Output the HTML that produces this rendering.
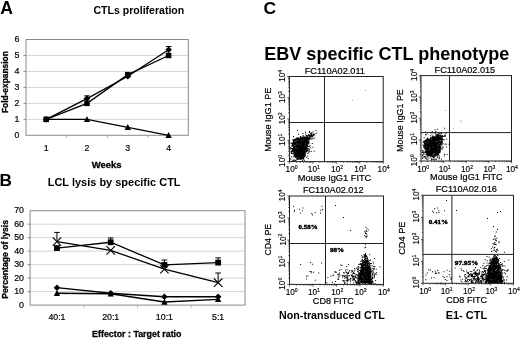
<!DOCTYPE html>
<html><head><meta charset="utf-8"><style>
html,body{margin:0;padding:0;background:#fff;width:520px;height:339px;overflow:hidden}
svg{display:block;filter:grayscale(1)}
</style></head><body>
<svg width="520" height="339" viewBox="0 0 520 339"><text x="0.2" y="13.6" font-size="17.6" font-weight="700" text-anchor="start" fill="#000" style="font-family:&quot;Liberation Sans&quot;,sans-serif" >A</text>
<text x="-0.6" y="186.1" font-size="17.2" font-weight="700" text-anchor="start" fill="#000" style="font-family:&quot;Liberation Sans&quot;,sans-serif" >B</text>
<text x="263.4" y="13.6" font-size="17.4" font-weight="700" text-anchor="start" fill="#000" style="font-family:&quot;Liberation Sans&quot;,sans-serif" >C</text>
<line x1="26" y1="119.33" x2="188.3" y2="119.33" stroke="#d6d6d6" stroke-width="1"/>
<line x1="26" y1="103.37" x2="188.3" y2="103.37" stroke="#d6d6d6" stroke-width="1"/>
<line x1="26" y1="87.40" x2="188.3" y2="87.40" stroke="#d6d6d6" stroke-width="1"/>
<line x1="26" y1="71.43" x2="188.3" y2="71.43" stroke="#d6d6d6" stroke-width="1"/>
<line x1="26" y1="55.47" x2="188.3" y2="55.47" stroke="#d6d6d6" stroke-width="1"/>
<rect x="26" y="39.5" width="162.3" height="95.80000000000001" fill="none" stroke="#8a8a8a" stroke-width="1"/>
<text x="19.5" y="137.9" font-size="8.8" font-weight="400" text-anchor="end" fill="#000" style="font-family:&quot;Liberation Sans&quot;,sans-serif" stroke="#000" stroke-width="0.2">0</text>
<line x1="23.5" y1="119.33" x2="26" y2="119.33" stroke="#8a8a8a" stroke-width="1"/>
<text x="19.5" y="121.93333333333334" font-size="8.8" font-weight="400" text-anchor="end" fill="#000" style="font-family:&quot;Liberation Sans&quot;,sans-serif" stroke="#000" stroke-width="0.2">1</text>
<line x1="23.5" y1="103.37" x2="26" y2="103.37" stroke="#8a8a8a" stroke-width="1"/>
<text x="19.5" y="105.96666666666667" font-size="8.8" font-weight="400" text-anchor="end" fill="#000" style="font-family:&quot;Liberation Sans&quot;,sans-serif" stroke="#000" stroke-width="0.2">2</text>
<line x1="23.5" y1="87.40" x2="26" y2="87.40" stroke="#8a8a8a" stroke-width="1"/>
<text x="19.5" y="90.0" font-size="8.8" font-weight="400" text-anchor="end" fill="#000" style="font-family:&quot;Liberation Sans&quot;,sans-serif" stroke="#000" stroke-width="0.2">3</text>
<line x1="23.5" y1="71.43" x2="26" y2="71.43" stroke="#8a8a8a" stroke-width="1"/>
<text x="19.5" y="74.03333333333333" font-size="8.8" font-weight="400" text-anchor="end" fill="#000" style="font-family:&quot;Liberation Sans&quot;,sans-serif" stroke="#000" stroke-width="0.2">4</text>
<line x1="23.5" y1="55.47" x2="26" y2="55.47" stroke="#8a8a8a" stroke-width="1"/>
<text x="19.5" y="58.06666666666667" font-size="8.8" font-weight="400" text-anchor="end" fill="#000" style="font-family:&quot;Liberation Sans&quot;,sans-serif" stroke="#000" stroke-width="0.2">5</text>
<text x="19.5" y="42.1" font-size="8.8" font-weight="400" text-anchor="end" fill="#000" style="font-family:&quot;Liberation Sans&quot;,sans-serif" stroke="#000" stroke-width="0.2">6</text>
<line x1="66.60" y1="135.3" x2="66.60" y2="137.8" stroke="#aaa" stroke-width="1"/>
<line x1="107.40" y1="135.3" x2="107.40" y2="137.8" stroke="#aaa" stroke-width="1"/>
<line x1="148.20" y1="135.3" x2="148.20" y2="137.8" stroke="#aaa" stroke-width="1"/>
<text x="46.2" y="150.7" font-size="8.8" font-weight="400" text-anchor="middle" fill="#000" style="font-family:&quot;Liberation Sans&quot;,sans-serif" stroke="#000" stroke-width="0.2">1</text>
<text x="87.0" y="150.7" font-size="8.8" font-weight="400" text-anchor="middle" fill="#000" style="font-family:&quot;Liberation Sans&quot;,sans-serif" stroke="#000" stroke-width="0.2">2</text>
<text x="127.8" y="150.7" font-size="8.8" font-weight="400" text-anchor="middle" fill="#000" style="font-family:&quot;Liberation Sans&quot;,sans-serif" stroke="#000" stroke-width="0.2">3</text>
<text x="168.6" y="150.7" font-size="8.8" font-weight="400" text-anchor="middle" fill="#000" style="font-family:&quot;Liberation Sans&quot;,sans-serif" stroke="#000" stroke-width="0.2">4</text>
<text x="91.7" y="167.8" font-size="9" font-weight="700" text-anchor="start" fill="#000" style="font-family:&quot;Liberation Sans&quot;,sans-serif" textLength="29.8" lengthAdjust="spacingAndGlyphs" stroke="#000" stroke-width="0.3">Weeks</text>
<text x="8.0" y="113.1" font-size="8.6" font-weight="700" text-anchor="start" fill="#000" style="font-family:&quot;Liberation Sans&quot;,sans-serif" textLength="61.9" lengthAdjust="spacingAndGlyphs" transform="rotate(-90 8.0 113.1)" stroke="#000" stroke-width="0.3">Fold-expansion</text>
<text x="93.5" y="13.8" font-size="10.2" font-weight="700" text-anchor="start" fill="#000" style="font-family:&quot;Liberation Sans&quot;,sans-serif" textLength="90.7" lengthAdjust="spacingAndGlyphs" >CTLs proliferation</text>
<path d="M87.00,98.58V95.86M84.20,95.86H89.80" stroke="#000" stroke-width="1" fill="none"/>
<path d="M168.60,49.72V46.53M165.80,46.53H171.40" stroke="#000" stroke-width="1" fill="none"/>
<polyline points="46.20,119.33 87.00,98.58 127.80,76.22 168.60,49.72" fill="none" stroke="#000" stroke-width="1.3"/>
<polyline points="46.20,119.33 87.00,103.37 127.80,74.63 168.60,55.47" fill="none" stroke="#000" stroke-width="1.3"/>
<polyline points="46.20,119.33 87.00,119.33 127.80,127.32 168.60,135.30" fill="none" stroke="#000" stroke-width="1.3"/>
<path d="M46.20,116.13L49.40,122.05L43.00,122.05Z" fill="#000"/>
<path d="M87.00,116.13L90.20,122.05L83.80,122.05Z" fill="#000"/>
<path d="M127.80,124.12L131.00,130.04L124.60,130.04Z" fill="#000"/>
<path d="M168.60,132.10L171.80,138.02L165.40,138.02Z" fill="#000"/>
<path d="M46.20,116.03L49.50,119.33L46.20,122.63L42.90,119.33Z" fill="#000"/>
<path d="M87.00,95.28L90.30,98.58L87.00,101.88L83.70,98.58Z" fill="#000"/>
<path d="M127.80,72.92L131.10,76.22L127.80,79.52L124.50,76.22Z" fill="#000"/>
<path d="M168.60,46.42L171.90,49.72L168.60,53.02L165.30,49.72Z" fill="#000"/>
<rect x="43.45" y="116.58" width="5.5" height="5.5" fill="#000"/>
<rect x="84.25" y="100.62" width="5.5" height="5.5" fill="#000"/>
<rect x="125.05" y="71.88" width="5.5" height="5.5" fill="#000"/>
<rect x="165.85" y="52.72" width="5.5" height="5.5" fill="#000"/>
<line x1="30.1" y1="291.61" x2="245" y2="291.61" stroke="#d6d6d6" stroke-width="1"/>
<line x1="30.1" y1="278.13" x2="245" y2="278.13" stroke="#d6d6d6" stroke-width="1"/>
<line x1="30.1" y1="264.64" x2="245" y2="264.64" stroke="#d6d6d6" stroke-width="1"/>
<line x1="30.1" y1="251.16" x2="245" y2="251.16" stroke="#d6d6d6" stroke-width="1"/>
<line x1="30.1" y1="237.67" x2="245" y2="237.67" stroke="#d6d6d6" stroke-width="1"/>
<line x1="30.1" y1="224.19" x2="245" y2="224.19" stroke="#d6d6d6" stroke-width="1"/>
<rect x="30.1" y="210.7" width="214.9" height="94.40000000000003" fill="none" stroke="#8a8a8a" stroke-width="1"/>
<text x="24.0" y="307.70000000000005" font-size="8.8" font-weight="400" text-anchor="end" fill="#000" style="font-family:&quot;Liberation Sans&quot;,sans-serif" stroke="#000" stroke-width="0.2">0</text>
<line x1="27.6" y1="291.61" x2="30.1" y2="291.61" stroke="#8a8a8a" stroke-width="1"/>
<text x="24.0" y="294.2142857142858" font-size="8.8" font-weight="400" text-anchor="end" fill="#000" style="font-family:&quot;Liberation Sans&quot;,sans-serif" stroke="#000" stroke-width="0.2">10</text>
<line x1="27.6" y1="278.13" x2="30.1" y2="278.13" stroke="#8a8a8a" stroke-width="1"/>
<text x="24.0" y="280.72857142857146" font-size="8.8" font-weight="400" text-anchor="end" fill="#000" style="font-family:&quot;Liberation Sans&quot;,sans-serif" stroke="#000" stroke-width="0.2">20</text>
<line x1="27.6" y1="264.64" x2="30.1" y2="264.64" stroke="#8a8a8a" stroke-width="1"/>
<text x="24.0" y="267.2428571428572" font-size="8.8" font-weight="400" text-anchor="end" fill="#000" style="font-family:&quot;Liberation Sans&quot;,sans-serif" stroke="#000" stroke-width="0.2">30</text>
<line x1="27.6" y1="251.16" x2="30.1" y2="251.16" stroke="#8a8a8a" stroke-width="1"/>
<text x="24.0" y="253.75714285714284" font-size="8.8" font-weight="400" text-anchor="end" fill="#000" style="font-family:&quot;Liberation Sans&quot;,sans-serif" stroke="#000" stroke-width="0.2">40</text>
<line x1="27.6" y1="237.67" x2="30.1" y2="237.67" stroke="#8a8a8a" stroke-width="1"/>
<text x="24.0" y="240.27142857142857" font-size="8.8" font-weight="400" text-anchor="end" fill="#000" style="font-family:&quot;Liberation Sans&quot;,sans-serif" stroke="#000" stroke-width="0.2">50</text>
<line x1="27.6" y1="224.19" x2="30.1" y2="224.19" stroke="#8a8a8a" stroke-width="1"/>
<text x="24.0" y="226.78571428571428" font-size="8.8" font-weight="400" text-anchor="end" fill="#000" style="font-family:&quot;Liberation Sans&quot;,sans-serif" stroke="#000" stroke-width="0.2">60</text>
<text x="24.0" y="213.29999999999998" font-size="8.8" font-weight="400" text-anchor="end" fill="#000" style="font-family:&quot;Liberation Sans&quot;,sans-serif" stroke="#000" stroke-width="0.2">70</text>
<line x1="83.83" y1="305.1" x2="83.83" y2="307.6" stroke="#aaa" stroke-width="1"/>
<line x1="137.55" y1="305.1" x2="137.55" y2="307.6" stroke="#aaa" stroke-width="1"/>
<line x1="191.28" y1="305.1" x2="191.28" y2="307.6" stroke="#aaa" stroke-width="1"/>
<text x="56.962500000000006" y="320.4" font-size="8.8" font-weight="400" text-anchor="middle" fill="#000" style="font-family:&quot;Liberation Sans&quot;,sans-serif" stroke="#000" stroke-width="0.2">40:1</text>
<text x="110.6875" y="320.4" font-size="8.8" font-weight="400" text-anchor="middle" fill="#000" style="font-family:&quot;Liberation Sans&quot;,sans-serif" stroke="#000" stroke-width="0.2">20:1</text>
<text x="164.4125" y="320.4" font-size="8.8" font-weight="400" text-anchor="middle" fill="#000" style="font-family:&quot;Liberation Sans&quot;,sans-serif" stroke="#000" stroke-width="0.2">10:1</text>
<text x="218.1375" y="320.4" font-size="8.8" font-weight="400" text-anchor="middle" fill="#000" style="font-family:&quot;Liberation Sans&quot;,sans-serif" stroke="#000" stroke-width="0.2">5:1</text>
<text x="92.1" y="337.1" font-size="9" font-weight="700" text-anchor="start" fill="#000" style="font-family:&quot;Liberation Sans&quot;,sans-serif" textLength="89.4" lengthAdjust="spacingAndGlyphs" stroke="#000" stroke-width="0.3">Effector : Target ratio</text>
<text x="7.6" y="298.8" font-size="8.7" font-weight="700" text-anchor="start" fill="#000" style="font-family:&quot;Liberation Sans&quot;,sans-serif" textLength="78.8" lengthAdjust="spacingAndGlyphs" transform="rotate(-90 7.6 298.8)" stroke="#000" stroke-width="0.3">Percentage of lysis</text>
<text x="47.7" y="185.9" font-size="10.3" font-weight="700" text-anchor="start" fill="#000" style="font-family:&quot;Liberation Sans&quot;,sans-serif" textLength="132.9" lengthAdjust="spacingAndGlyphs" >LCL lysis by specific CTL</text>
<path d="M56.96,241.58V232.41M54.16,232.41H59.76" stroke="#000" stroke-width="1" fill="none"/>
<path d="M110.69,242.26V237.94M107.89,237.94H113.49" stroke="#000" stroke-width="1" fill="none"/>
<path d="M164.41,264.91V260.06M161.61,260.06H167.21" stroke="#000" stroke-width="1" fill="none"/>
<path d="M218.14,262.62V257.90M215.34,257.90H220.94" stroke="#000" stroke-width="1" fill="none"/>
<path d="M218.14,282.71V273.00M215.34,273.00H220.94" stroke="#000" stroke-width="1" fill="none"/>
<polyline points="56.96,248.06 110.69,242.26 164.41,264.91 218.14,262.62" fill="none" stroke="#000" stroke-width="1.3"/>
<polyline points="56.96,241.58 110.69,250.35 164.41,269.23 218.14,282.71" fill="none" stroke="#000" stroke-width="1.3"/>
<polyline points="56.96,287.70 110.69,293.23 164.41,296.74 218.14,296.74" fill="none" stroke="#000" stroke-width="1.3"/>
<polyline points="56.96,293.23 110.69,293.77 164.41,302.00 218.14,299.30" fill="none" stroke="#000" stroke-width="1.3"/>
<path d="M52.76,237.38L61.16,245.78M61.16,237.38L52.76,245.78" stroke="#000" stroke-width="1.1" fill="none"/>
<path d="M56.96,290.03L60.16,295.95L53.76,295.95Z" fill="#000"/>
<path d="M56.96,284.40L60.26,287.70L56.96,291.00L53.66,287.70Z" fill="#000"/>
<rect x="54.06" y="245.16" width="5.8" height="5.8" fill="#000"/>
<path d="M106.49,246.15L114.89,254.55M114.89,246.15L106.49,254.55" stroke="#000" stroke-width="1.1" fill="none"/>
<path d="M110.69,290.57L113.89,296.49L107.49,296.49Z" fill="#000"/>
<path d="M110.69,289.93L113.99,293.23L110.69,296.53L107.39,293.23Z" fill="#000"/>
<rect x="107.79" y="239.36" width="5.8" height="5.8" fill="#000"/>
<path d="M160.21,265.03L168.61,273.43M168.61,265.03L160.21,273.43" stroke="#000" stroke-width="1.1" fill="none"/>
<path d="M164.41,298.80L167.61,304.72L161.21,304.72Z" fill="#000"/>
<path d="M164.41,293.44L167.71,296.74L164.41,300.04L161.11,296.74Z" fill="#000"/>
<rect x="161.51" y="262.01" width="5.8" height="5.8" fill="#000"/>
<path d="M213.94,278.51L222.34,286.91M222.34,278.51L213.94,286.91" stroke="#000" stroke-width="1.1" fill="none"/>
<path d="M218.14,296.10L221.34,302.02L214.94,302.02Z" fill="#000"/>
<path d="M218.14,293.44L221.44,296.74L218.14,300.04L214.84,296.74Z" fill="#000"/>
<rect x="215.24" y="259.72" width="5.8" height="5.8" fill="#000"/>
<text x="264.3" y="59.6" font-size="17.8" font-weight="700" text-anchor="start" fill="#000" style="font-family:&quot;Liberation Sans&quot;,sans-serif" textLength="245.0" lengthAdjust="spacingAndGlyphs" >EBV specific CTL phenotype</text>
<path d="M300.4,157.3h1v1h-1zM293.0,147.3h1v1h-1zM294.6,138.9h1v1h-1zM299.7,137.2h1v1h-1zM305.8,139.7h1v1h-1zM305.1,141.1h1v1h-1zM298.3,155.5h1v1h-1zM305.9,140.2h1v1h-1zM294.9,145.2h1v1h-1zM300.3,144.8h1v1h-1zM293.2,141.7h1v1h-1zM304.6,136.9h1v1h-1zM306.1,138.7h1v1h-1zM301.8,148.7h1v1h-1zM302.3,143.0h1v1h-1zM298.6,149.4h1v1h-1zM298.7,151.2h1v1h-1zM299.0,146.1h1v1h-1zM299.8,141.4h1v1h-1zM304.7,153.9h1v1h-1zM299.2,140.1h1v1h-1zM299.5,138.5h1v1h-1zM293.3,145.9h1v1h-1zM292.7,146.2h1v1h-1zM300.2,136.9h1v1h-1zM302.5,137.9h1v1h-1zM304.2,153.9h1v1h-1zM300.2,137.2h1v1h-1zM300.1,144.7h1v1h-1zM308.1,139.1h1v1h-1zM304.2,154.7h1v1h-1zM299.9,158.0h1v1h-1zM307.5,139.8h1v1h-1zM292.2,144.1h1v1h-1zM304.6,139.7h1v1h-1zM307.1,142.3h1v1h-1zM305.7,139.3h1v1h-1zM300.0,157.2h1v1h-1zM294.7,142.0h1v1h-1zM300.1,143.3h1v1h-1zM303.2,156.6h1v1h-1zM294.0,154.1h1v1h-1zM293.1,148.2h1v1h-1zM302.5,144.3h1v1h-1zM301.4,156.3h1v1h-1zM302.3,145.1h1v1h-1zM305.4,142.1h1v1h-1zM297.5,153.6h1v1h-1zM299.0,140.1h1v1h-1zM304.4,137.1h1v1h-1zM305.8,141.8h1v1h-1zM302.5,158.6h1v1h-1zM301.5,151.3h1v1h-1zM302.1,145.9h1v1h-1zM300.2,156.6h1v1h-1zM293.4,141.2h1v1h-1zM302.8,136.5h1v1h-1zM292.9,144.2h1v1h-1zM295.0,149.4h1v1h-1zM301.6,140.7h1v1h-1zM302.2,146.9h1v1h-1zM295.4,139.4h1v1h-1zM292.7,150.7h1v1h-1zM298.2,142.1h1v1h-1zM301.1,144.1h1v1h-1zM302.6,146.2h1v1h-1zM295.5,156.8h1v1h-1zM298.3,141.5h1v1h-1zM307.9,139.3h1v1h-1zM294.6,150.0h1v1h-1zM300.1,150.8h1v1h-1zM305.6,140.0h1v1h-1zM296.6,142.9h1v1h-1zM305.1,152.5h1v1h-1zM304.4,146.7h1v1h-1zM304.4,146.4h1v1h-1zM295.1,138.4h1v1h-1zM297.0,153.2h1v1h-1zM303.5,155.4h1v1h-1zM303.8,142.1h1v1h-1zM301.0,146.0h1v1h-1zM305.2,148.0h1v1h-1zM295.8,150.8h1v1h-1zM308.4,141.0h1v1h-1zM295.7,141.4h1v1h-1zM304.4,143.5h1v1h-1zM306.8,143.6h1v1h-1zM295.3,156.9h1v1h-1zM302.4,151.9h1v1h-1zM303.0,158.5h1v1h-1zM299.5,155.3h1v1h-1zM303.6,155.7h1v1h-1zM298.9,152.7h1v1h-1zM301.3,143.1h1v1h-1zM294.8,150.3h1v1h-1zM297.2,139.3h1v1h-1zM303.5,150.6h1v1h-1zM303.5,152.9h1v1h-1zM297.5,154.8h1v1h-1zM292.9,140.7h1v1h-1zM302.4,155.0h1v1h-1zM302.4,142.6h1v1h-1zM304.6,140.7h1v1h-1zM296.7,145.7h1v1h-1zM296.1,152.5h1v1h-1zM297.6,143.4h1v1h-1zM291.6,145.5h1v1h-1zM298.9,153.8h1v1h-1zM297.2,152.2h1v1h-1zM300.7,141.0h1v1h-1zM306.5,138.1h1v1h-1zM305.8,139.9h1v1h-1zM299.8,154.3h1v1h-1zM294.3,147.4h1v1h-1zM297.2,155.1h1v1h-1zM295.7,157.7h1v1h-1zM296.1,140.9h1v1h-1zM303.6,147.5h1v1h-1zM293.0,150.6h1v1h-1zM303.5,154.1h1v1h-1zM302.3,144.2h1v1h-1zM298.2,145.1h1v1h-1zM307.0,138.0h1v1h-1zM307.0,136.6h1v1h-1zM294.7,142.1h1v1h-1zM297.8,156.3h1v1h-1zM295.2,146.6h1v1h-1zM300.6,153.4h1v1h-1zM304.6,150.9h1v1h-1zM297.3,143.5h1v1h-1zM302.9,153.1h1v1h-1zM294.1,146.1h1v1h-1zM304.9,149.3h1v1h-1zM293.3,146.6h1v1h-1zM306.9,141.5h1v1h-1zM294.4,142.9h1v1h-1zM303.7,155.4h1v1h-1zM293.8,139.6h1v1h-1zM295.5,143.5h1v1h-1zM300.4,139.7h1v1h-1zM296.9,140.4h1v1h-1zM292.8,144.8h1v1h-1zM304.2,146.0h1v1h-1zM294.5,150.7h1v1h-1zM292.9,140.7h1v1h-1zM298.2,154.2h1v1h-1zM303.5,147.5h1v1h-1zM302.4,146.7h1v1h-1zM293.6,149.9h1v1h-1zM298.3,153.0h1v1h-1zM301.3,153.2h1v1h-1zM298.6,141.3h1v1h-1zM304.0,156.2h1v1h-1zM304.9,152.1h1v1h-1zM302.5,146.4h1v1h-1zM296.6,150.5h1v1h-1zM292.8,145.7h1v1h-1zM305.1,152.4h1v1h-1zM302.3,141.8h1v1h-1zM298.6,146.5h1v1h-1zM302.2,145.4h1v1h-1zM303.2,157.4h1v1h-1zM294.3,151.1h1v1h-1zM305.0,144.9h1v1h-1zM299.8,158.4h1v1h-1zM293.9,154.0h1v1h-1zM292.8,149.2h1v1h-1zM300.7,152.5h1v1h-1zM300.2,150.7h1v1h-1zM305.9,148.0h1v1h-1zM298.4,157.8h1v1h-1zM294.8,151.7h1v1h-1zM298.1,153.5h1v1h-1zM297.4,137.3h1v1h-1zM295.9,145.2h1v1h-1zM291.2,145.6h1v1h-1zM298.6,152.1h1v1h-1zM297.3,142.1h1v1h-1zM295.0,153.1h1v1h-1zM294.9,154.4h1v1h-1zM298.1,140.9h1v1h-1zM305.6,150.6h1v1h-1zM299.4,148.9h1v1h-1zM297.4,150.7h1v1h-1zM299.4,142.8h1v1h-1zM300.9,138.9h1v1h-1zM306.0,144.2h1v1h-1zM306.3,142.2h1v1h-1zM297.8,141.8h1v1h-1zM298.7,140.3h1v1h-1zM296.1,141.6h1v1h-1zM296.4,147.0h1v1h-1zM298.7,150.7h1v1h-1zM302.9,144.3h1v1h-1zM302.8,141.8h1v1h-1zM295.2,153.9h1v1h-1zM297.2,139.5h1v1h-1zM302.0,154.0h1v1h-1zM303.0,156.6h1v1h-1zM294.6,151.9h1v1h-1zM300.6,153.1h1v1h-1zM298.9,156.3h1v1h-1zM301.0,142.1h1v1h-1zM295.2,139.2h1v1h-1zM299.9,137.3h1v1h-1zM299.4,139.3h1v1h-1zM299.8,147.5h1v1h-1zM300.7,155.8h1v1h-1zM299.4,148.9h1v1h-1zM303.0,155.3h1v1h-1zM297.7,145.6h1v1h-1zM308.3,137.7h1v1h-1zM302.5,150.6h1v1h-1zM303.3,157.4h1v1h-1zM296.9,158.6h1v1h-1zM300.2,147.1h1v1h-1zM307.2,136.8h1v1h-1zM303.9,150.4h1v1h-1zM297.1,155.8h1v1h-1zM297.6,146.9h1v1h-1zM300.5,153.7h1v1h-1zM294.8,146.0h1v1h-1zM298.6,148.7h1v1h-1zM305.9,142.7h1v1h-1zM305.9,145.3h1v1h-1zM300.1,142.2h1v1h-1zM300.1,158.4h1v1h-1zM302.8,154.2h1v1h-1zM297.0,143.3h1v1h-1zM296.4,149.5h1v1h-1zM302.4,154.0h1v1h-1zM291.9,142.9h1v1h-1zM302.8,154.1h1v1h-1zM302.1,150.4h1v1h-1zM303.5,149.7h1v1h-1zM303.3,140.9h1v1h-1zM303.0,146.5h1v1h-1zM304.7,138.3h1v1h-1zM302.8,144.5h1v1h-1zM301.1,141.9h1v1h-1zM296.4,145.7h1v1h-1zM296.7,145.9h1v1h-1zM302.6,157.5h1v1h-1zM305.6,149.2h1v1h-1zM291.3,144.9h1v1h-1zM301.7,157.6h1v1h-1zM298.4,138.3h1v1h-1zM302.6,140.9h1v1h-1zM303.9,141.6h1v1h-1zM304.2,140.3h1v1h-1zM303.8,155.7h1v1h-1zM304.1,137.9h1v1h-1zM302.3,152.3h1v1h-1zM299.3,157.4h1v1h-1zM303.9,136.3h1v1h-1zM305.7,137.8h1v1h-1zM296.6,152.8h1v1h-1zM299.8,137.4h1v1h-1zM297.6,149.2h1v1h-1zM298.9,151.6h1v1h-1zM297.5,150.8h1v1h-1zM302.3,145.6h1v1h-1zM297.9,154.1h1v1h-1zM301.2,142.7h1v1h-1zM303.7,155.0h1v1h-1zM297.0,149.9h1v1h-1zM301.8,143.1h1v1h-1zM298.7,156.4h1v1h-1zM297.8,151.8h1v1h-1zM301.8,156.6h1v1h-1zM305.5,142.5h1v1h-1zM298.6,149.5h1v1h-1zM301.3,142.3h1v1h-1zM303.3,157.0h1v1h-1zM297.2,138.0h1v1h-1zM301.0,154.3h1v1h-1zM294.6,153.3h1v1h-1zM307.8,141.4h1v1h-1zM301.9,151.6h1v1h-1zM299.4,140.8h1v1h-1zM295.6,153.3h1v1h-1zM305.2,146.6h1v1h-1zM304.9,141.4h1v1h-1zM301.4,156.6h1v1h-1zM299.6,149.6h1v1h-1zM294.4,140.4h1v1h-1zM294.3,152.1h1v1h-1zM297.5,149.0h1v1h-1zM298.2,147.9h1v1h-1zM292.9,150.6h1v1h-1zM305.2,139.6h1v1h-1zM301.7,143.9h1v1h-1zM306.6,147.2h1v1h-1zM301.2,142.0h1v1h-1zM305.0,145.8h1v1h-1zM294.6,140.2h1v1h-1zM301.0,156.0h1v1h-1zM299.2,157.8h1v1h-1zM307.4,137.5h1v1h-1zM301.8,145.1h1v1h-1zM295.6,149.0h1v1h-1zM302.5,158.0h1v1h-1zM303.1,145.0h1v1h-1zM299.1,139.7h1v1h-1zM295.6,144.1h1v1h-1zM306.1,137.1h1v1h-1zM305.2,152.3h1v1h-1zM302.6,158.7h1v1h-1zM303.2,142.9h1v1h-1zM301.6,153.4h1v1h-1zM292.9,143.5h1v1h-1zM295.6,138.9h1v1h-1zM299.7,139.9h1v1h-1zM295.3,139.3h1v1h-1zM303.2,136.3h1v1h-1zM303.9,140.5h1v1h-1zM293.5,146.3h1v1h-1zM306.2,150.5h1v1h-1zM299.1,143.8h1v1h-1zM305.8,147.0h1v1h-1zM302.3,139.3h1v1h-1zM303.8,148.7h1v1h-1zM295.8,145.5h1v1h-1zM293.8,142.2h1v1h-1zM306.1,143.7h1v1h-1zM294.0,147.3h1v1h-1zM296.7,156.8h1v1h-1zM303.0,140.9h1v1h-1zM299.6,142.6h1v1h-1zM295.6,140.6h1v1h-1zM297.6,158.8h1v1h-1zM292.8,142.7h1v1h-1zM307.1,137.3h1v1h-1zM304.1,142.8h1v1h-1zM305.5,143.8h1v1h-1zM306.0,148.1h1v1h-1zM294.3,146.0h1v1h-1zM307.4,141.0h1v1h-1zM301.3,139.2h1v1h-1zM294.2,153.7h1v1h-1zM303.8,140.5h1v1h-1zM302.0,147.4h1v1h-1zM295.9,140.7h1v1h-1zM302.0,152.3h1v1h-1zM305.6,149.4h1v1h-1zM304.2,145.4h1v1h-1zM304.0,137.3h1v1h-1zM305.6,143.7h1v1h-1zM306.7,142.1h1v1h-1zM294.3,155.1h1v1h-1zM297.6,139.8h1v1h-1zM297.7,149.7h1v1h-1zM299.0,147.9h1v1h-1zM293.2,152.4h1v1h-1zM296.8,152.4h1v1h-1zM297.9,153.3h1v1h-1zM300.2,148.2h1v1h-1zM308.4,141.1h1v1h-1zM295.5,154.8h1v1h-1zM303.6,140.5h1v1h-1zM301.4,148.0h1v1h-1zM303.6,138.4h1v1h-1zM299.9,147.5h1v1h-1zM296.0,138.8h1v1h-1zM298.3,139.1h1v1h-1zM301.7,155.8h1v1h-1zM293.6,149.2h1v1h-1zM304.4,139.8h1v1h-1zM298.0,145.7h1v1h-1zM306.1,148.1h1v1h-1zM298.1,157.6h1v1h-1zM305.0,143.8h1v1h-1zM295.3,143.7h1v1h-1zM298.8,158.6h1v1h-1zM292.0,147.9h1v1h-1zM295.5,145.7h1v1h-1zM302.4,144.4h1v1h-1zM300.6,137.6h1v1h-1zM298.8,147.6h1v1h-1zM306.9,136.8h1v1h-1zM302.5,142.1h1v1h-1zM303.2,142.3h1v1h-1zM300.8,157.3h1v1h-1zM302.2,141.8h1v1h-1zM300.4,146.0h1v1h-1zM308.1,142.6h1v1h-1zM296.5,150.9h1v1h-1zM293.2,149.7h1v1h-1zM295.8,146.7h1v1h-1zM300.6,139.4h1v1h-1zM296.3,145.4h1v1h-1zM296.2,141.6h1v1h-1zM292.6,148.6h1v1h-1zM306.1,150.0h1v1h-1zM301.3,151.0h1v1h-1zM294.6,152.3h1v1h-1zM299.3,148.6h1v1h-1zM302.0,146.8h1v1h-1zM296.6,141.6h1v1h-1zM295.0,147.8h1v1h-1zM297.9,149.5h1v1h-1zM306.5,141.5h1v1h-1zM301.0,147.3h1v1h-1zM296.3,153.8h1v1h-1zM306.7,146.1h1v1h-1zM292.1,144.9h1v1h-1zM298.9,152.9h1v1h-1zM293.0,141.2h1v1h-1zM293.8,143.8h1v1h-1zM297.3,151.5h1v1h-1zM302.1,155.5h1v1h-1zM305.8,147.9h1v1h-1zM304.3,153.1h1v1h-1zM304.7,146.9h1v1h-1zM305.1,152.3h1v1h-1zM307.5,138.9h1v1h-1zM304.8,149.5h1v1h-1zM300.0,158.1h1v1h-1zM301.3,145.6h1v1h-1zM301.9,144.7h1v1h-1zM299.1,146.5h1v1h-1zM304.0,142.7h1v1h-1zM298.0,148.8h1v1h-1zM297.9,143.4h1v1h-1zM300.0,146.2h1v1h-1zM294.3,143.0h1v1h-1zM293.6,149.2h1v1h-1zM301.5,138.0h1v1h-1zM307.6,143.4h1v1h-1zM308.3,140.7h1v1h-1zM298.7,156.9h1v1h-1zM301.2,147.4h1v1h-1zM300.7,159.0h1v1h-1zM300.3,147.9h1v1h-1zM303.3,145.0h1v1h-1zM297.4,149.7h1v1h-1zM297.3,157.8h1v1h-1zM303.2,148.1h1v1h-1zM292.8,144.6h1v1h-1zM298.2,148.9h1v1h-1zM301.3,156.2h1v1h-1zM298.9,150.4h1v1h-1zM300.5,154.8h1v1h-1zM294.1,143.3h1v1h-1zM300.2,138.5h1v1h-1zM307.0,145.7h1v1h-1zM293.8,142.7h1v1h-1zM300.2,147.6h1v1h-1zM294.4,140.2h1v1h-1zM302.3,149.9h1v1h-1zM297.4,158.9h1v1h-1zM302.5,137.0h1v1h-1zM298.4,154.1h1v1h-1zM296.5,151.9h1v1h-1zM306.2,149.5h1v1h-1zM303.0,140.5h1v1h-1zM300.0,148.7h1v1h-1zM295.8,150.9h1v1h-1zM300.6,158.9h1v1h-1zM301.3,145.5h1v1h-1zM293.2,139.6h1v1h-1zM304.7,138.5h1v1h-1zM292.8,139.9h1v1h-1zM300.4,154.9h1v1h-1zM302.0,154.6h1v1h-1zM304.9,143.4h1v1h-1zM303.9,144.1h1v1h-1zM294.0,142.1h1v1h-1zM301.5,144.0h1v1h-1zM299.1,144.9h1v1h-1zM301.5,158.1h1v1h-1zM298.9,150.3h1v1h-1zM296.7,156.7h1v1h-1zM305.7,143.0h1v1h-1zM301.8,158.1h1v1h-1zM299.9,157.8h1v1h-1zM295.4,145.0h1v1h-1zM303.9,141.1h1v1h-1zM296.6,156.1h1v1h-1zM299.7,154.2h1v1h-1zM295.4,140.0h1v1h-1zM297.5,140.3h1v1h-1zM301.1,138.6h1v1h-1zM300.6,144.9h1v1h-1zM298.3,137.5h1v1h-1zM297.3,141.6h1v1h-1zM294.4,142.5h1v1h-1zM303.0,143.9h1v1h-1zM293.8,152.2h1v1h-1zM292.7,142.2h1v1h-1zM306.0,138.9h1v1h-1zM299.0,155.2h1v1h-1zM305.5,139.7h1v1h-1zM297.4,152.6h1v1h-1zM297.8,158.0h1v1h-1zM300.1,141.2h1v1h-1zM299.1,139.0h1v1h-1zM303.7,142.0h1v1h-1zM297.6,141.7h1v1h-1zM301.9,140.9h1v1h-1zM306.7,138.8h1v1h-1zM300.2,148.5h1v1h-1zM295.9,153.8h1v1h-1zM297.9,151.1h1v1h-1zM301.2,143.1h1v1h-1zM298.0,138.0h1v1h-1zM294.2,155.6h1v1h-1zM296.8,151.2h1v1h-1zM293.0,148.9h1v1h-1zM297.5,147.5h1v1h-1zM296.3,137.5h1v1h-1zM296.6,141.2h1v1h-1zM293.3,152.5h1v1h-1zM296.1,145.3h1v1h-1zM293.4,142.4h1v1h-1zM302.9,144.1h1v1h-1zM298.4,151.2h1v1h-1zM303.6,141.7h1v1h-1zM306.2,144.1h1v1h-1zM302.3,140.2h1v1h-1zM304.2,152.4h1v1h-1zM293.9,140.6h1v1h-1zM296.5,144.8h1v1h-1zM291.7,143.2h1v1h-1zM302.5,140.1h1v1h-1zM306.1,149.1h1v1h-1zM303.9,141.9h1v1h-1zM298.8,151.7h1v1h-1zM304.5,138.0h1v1h-1zM303.5,145.1h1v1h-1zM304.5,155.1h1v1h-1zM296.1,138.1h1v1h-1zM304.3,155.1h1v1h-1zM302.3,146.4h1v1h-1zM298.7,147.8h1v1h-1zM307.7,138.9h1v1h-1zM304.7,137.0h1v1h-1zM303.6,154.5h1v1h-1zM295.7,148.6h1v1h-1zM300.8,141.7h1v1h-1zM292.1,144.2h1v1h-1zM298.4,140.6h1v1h-1zM296.6,139.1h1v1h-1zM303.7,151.4h1v1h-1zM295.3,141.6h1v1h-1zM300.3,146.2h1v1h-1zM296.4,156.3h1v1h-1zM293.6,149.0h1v1h-1zM297.0,154.8h1v1h-1zM300.9,153.5h1v1h-1zM294.0,151.3h1v1h-1zM301.8,146.6h1v1h-1zM293.1,142.7h1v1h-1zM297.5,140.7h1v1h-1zM292.1,142.5h1v1h-1zM294.5,152.1h1v1h-1zM299.1,138.6h1v1h-1zM296.8,146.8h1v1h-1zM297.5,139.9h1v1h-1zM293.0,147.2h1v1h-1zM298.8,140.4h1v1h-1zM302.3,157.5h1v1h-1zM302.7,141.8h1v1h-1zM295.4,139.2h1v1h-1zM306.1,142.8h1v1h-1zM294.3,150.7h1v1h-1zM294.0,154.0h1v1h-1zM296.9,140.2h1v1h-1zM305.9,143.4h1v1h-1zM297.6,148.7h1v1h-1zM297.6,155.1h1v1h-1zM301.2,150.4h1v1h-1zM299.9,147.5h1v1h-1zM293.8,142.9h1v1h-1zM301.5,137.8h1v1h-1zM303.4,139.8h1v1h-1zM299.0,158.3h1v1h-1zM298.9,140.4h1v1h-1zM305.2,145.8h1v1h-1zM296.1,151.2h1v1h-1zM300.3,145.7h1v1h-1zM297.1,146.1h1v1h-1zM303.0,155.0h1v1h-1zM307.3,139.8h1v1h-1zM296.3,146.2h1v1h-1zM301.1,144.0h1v1h-1zM296.8,146.6h1v1h-1zM305.6,137.4h1v1h-1zM303.2,150.0h1v1h-1zM296.3,149.1h1v1h-1zM302.7,142.9h1v1h-1zM297.2,156.4h1v1h-1zM303.2,146.3h1v1h-1zM297.7,149.4h1v1h-1zM298.5,148.2h1v1h-1zM301.2,145.1h1v1h-1zM293.1,140.2h1v1h-1zM295.6,138.2h1v1h-1zM300.6,141.8h1v1h-1zM299.8,148.7h1v1h-1zM295.1,149.2h1v1h-1zM293.0,147.8h1v1h-1zM301.6,137.8h1v1h-1zM298.3,137.7h1v1h-1zM298.9,155.9h1v1h-1zM300.9,152.4h1v1h-1zM304.6,138.6h1v1h-1zM298.1,139.9h1v1h-1zM304.9,139.1h1v1h-1zM305.0,137.3h1v1h-1zM295.3,144.6h1v1h-1zM294.8,142.9h1v1h-1zM303.7,145.8h1v1h-1zM294.0,153.1h1v1h-1zM297.1,153.6h1v1h-1zM303.2,155.0h1v1h-1zM293.2,144.6h1v1h-1zM304.0,137.0h1v1h-1zM301.9,138.3h1v1h-1zM300.9,154.5h1v1h-1zM303.2,141.9h1v1h-1zM294.5,146.3h1v1h-1zM306.1,149.4h1v1h-1zM294.3,148.7h1v1h-1zM296.2,151.8h1v1h-1zM297.9,139.3h1v1h-1zM303.4,154.6h1v1h-1zM297.2,139.5h1v1h-1zM300.0,156.1h1v1h-1zM305.4,136.8h1v1h-1zM294.3,154.8h1v1h-1zM303.2,145.0h1v1h-1zM299.6,139.6h1v1h-1zM306.2,145.0h1v1h-1zM292.4,143.6h1v1h-1zM294.9,156.6h1v1h-1zM301.6,137.0h1v1h-1zM294.1,144.3h1v1h-1zM299.4,149.3h1v1h-1zM298.0,144.1h1v1h-1zM299.3,158.7h1v1h-1zM303.1,142.3h1v1h-1zM295.9,147.5h1v1h-1zM295.7,149.1h1v1h-1zM300.5,158.0h1v1h-1zM301.1,153.7h1v1h-1zM302.4,150.6h1v1h-1zM297.5,142.5h1v1h-1zM296.5,153.6h1v1h-1zM304.3,147.7h1v1h-1zM302.4,144.1h1v1h-1zM300.9,145.3h1v1h-1zM292.1,143.8h1v1h-1zM296.8,158.7h1v1h-1zM299.7,144.4h1v1h-1zM295.4,141.4h1v1h-1zM297.3,139.1h1v1h-1zM299.2,146.2h1v1h-1zM301.2,143.0h1v1h-1zM296.4,143.1h1v1h-1zM304.1,148.7h1v1h-1z" fill="#000"/>
<path d="M297.6,152.4h1v1h-1zM297.8,147.6h1v1h-1zM293.9,149.5h1v1h-1zM305.1,149.4h1v1h-1zM304.7,148.6h1v1h-1zM301.2,149.4h1v1h-1zM301.8,150.9h1v1h-1zM294.1,147.9h1v1h-1zM300.7,148.2h1v1h-1zM301.9,144.4h1v1h-1zM300.7,150.7h1v1h-1zM295.4,160.0h1v1h-1zM302.1,154.8h1v1h-1zM295.6,145.9h1v1h-1zM297.1,149.0h1v1h-1zM302.5,149.3h1v1h-1zM296.5,144.3h1v1h-1zM296.1,156.9h1v1h-1zM294.6,151.9h1v1h-1zM301.3,139.7h1v1h-1zM299.3,156.4h1v1h-1zM298.4,144.5h1v1h-1zM301.7,147.7h1v1h-1zM290.9,156.4h1v1h-1zM302.7,153.2h1v1h-1zM306.9,148.5h1v1h-1zM299.7,141.3h1v1h-1zM302.4,144.4h1v1h-1zM296.5,142.6h1v1h-1zM293.7,147.7h1v1h-1zM306.1,135.1h1v1h-1zM291.0,153.0h1v1h-1zM306.9,149.7h1v1h-1zM301.0,144.1h1v1h-1zM292.8,156.6h1v1h-1zM305.1,147.9h1v1h-1zM300.4,151.0h1v1h-1zM307.8,149.7h1v1h-1zM301.9,151.2h1v1h-1zM290.4,159.2h1v1h-1zM304.3,150.3h1v1h-1zM303.6,137.1h1v1h-1zM298.0,155.2h1v1h-1zM291.8,160.6h1v1h-1zM302.0,147.1h1v1h-1zM300.8,152.1h1v1h-1zM299.7,155.3h1v1h-1zM295.4,147.8h1v1h-1zM304.7,147.3h1v1h-1zM294.2,156.0h1v1h-1zM307.1,143.8h1v1h-1zM291.4,150.7h1v1h-1zM298.2,147.6h1v1h-1zM306.7,140.6h1v1h-1zM305.9,139.5h1v1h-1zM294.7,154.0h1v1h-1zM305.2,151.9h1v1h-1zM300.9,149.2h1v1h-1zM299.8,152.0h1v1h-1zM298.0,150.9h1v1h-1zM302.1,148.0h1v1h-1zM303.2,150.9h1v1h-1zM310.1,147.2h1v1h-1zM296.6,147.6h1v1h-1zM298.9,154.3h1v1h-1zM297.1,151.8h1v1h-1zM309.1,131.0h1v1h-1zM292.8,152.4h1v1h-1zM301.2,149.6h1v1h-1zM296.6,153.5h1v1h-1zM300.6,145.5h1v1h-1zM312.4,146.7h1v1h-1zM296.0,149.4h1v1h-1zM297.8,149.0h1v1h-1zM304.5,140.5h1v1h-1zM298.6,154.6h1v1h-1zM303.7,156.0h1v1h-1zM297.1,153.2h1v1h-1zM305.0,131.7h1v1h-1zM305.0,138.8h1v1h-1zM302.8,139.2h1v1h-1zM300.0,155.5h1v1h-1zM298.2,150.4h1v1h-1zM303.4,148.4h1v1h-1zM298.5,157.9h1v1h-1zM304.8,145.4h1v1h-1zM314.1,137.5h1v1h-1zM304.0,145.8h1v1h-1zM299.7,152.8h1v1h-1zM300.2,152.3h1v1h-1zM290.6,143.1h1v1h-1zM302.4,142.4h1v1h-1zM293.4,142.4h1v1h-1zM306.0,151.0h1v1h-1zM307.1,141.0h1v1h-1zM299.0,142.5h1v1h-1zM303.2,156.7h1v1h-1zM294.1,159.5h1v1h-1zM304.4,146.2h1v1h-1zM298.5,145.7h1v1h-1zM301.2,150.6h1v1h-1zM307.2,140.5h1v1h-1zM305.2,155.5h1v1h-1zM307.0,145.4h1v1h-1zM294.9,156.2h1v1h-1zM299.6,149.5h1v1h-1zM306.8,144.9h1v1h-1zM300.7,144.9h1v1h-1zM298.9,153.8h1v1h-1zM299.4,156.5h1v1h-1zM298.7,155.1h1v1h-1zM307.2,155.5h1v1h-1zM295.3,155.2h1v1h-1zM292.2,151.1h1v1h-1zM297.9,149.2h1v1h-1zM295.7,151.4h1v1h-1zM308.9,146.0h1v1h-1zM301.9,153.8h1v1h-1zM297.9,142.1h1v1h-1zM295.9,156.1h1v1h-1zM289.9,148.5h1v1h-1zM304.5,151.7h1v1h-1zM299.0,153.6h1v1h-1zM299.9,142.0h1v1h-1zM290.4,148.2h1v1h-1zM304.1,144.1h1v1h-1zM294.0,146.2h1v1h-1zM290.6,151.1h1v1h-1zM292.5,153.2h1v1h-1zM295.5,139.0h1v1h-1zM303.0,146.1h1v1h-1zM300.6,145.9h1v1h-1zM303.3,151.9h1v1h-1zM302.7,149.7h1v1h-1zM306.3,150.4h1v1h-1zM301.5,136.3h1v1h-1zM303.9,154.9h1v1h-1zM297.4,146.8h1v1h-1zM309.7,135.4h1v1h-1zM293.9,154.6h1v1h-1zM309.4,144.9h1v1h-1zM302.1,153.2h1v1h-1zM294.0,150.1h1v1h-1zM300.6,153.2h1v1h-1zM298.8,147.9h1v1h-1zM293.4,148.8h1v1h-1zM303.9,148.0h1v1h-1zM294.3,145.7h1v1h-1zM313.7,150.7h1v1h-1zM302.5,133.0h1v1h-1zM302.4,150.6h1v1h-1zM308.3,148.4h1v1h-1zM298.6,152.1h1v1h-1zM300.8,144.4h1v1h-1zM306.3,157.0h1v1h-1zM291.3,147.7h1v1h-1zM300.6,149.5h1v1h-1zM296.8,144.1h1v1h-1zM310.7,151.1h1v1h-1zM292.4,143.5h1v1h-1zM308.4,151.6h1v1h-1zM309.0,150.4h1v1h-1zM294.2,152.1h1v1h-1zM298.7,152.1h1v1h-1zM295.0,149.6h1v1h-1zM301.5,150.3h1v1h-1zM302.5,149.0h1v1h-1zM297.2,154.1h1v1h-1zM299.3,144.2h1v1h-1zM295.6,150.1h1v1h-1zM298.4,150.1h1v1h-1zM299.0,150.0h1v1h-1zM298.3,142.0h1v1h-1zM301.3,154.3h1v1h-1zM301.4,147.1h1v1h-1zM301.5,142.7h1v1h-1zM293.9,154.9h1v1h-1zM293.0,135.9h1v1h-1zM293.3,159.9h1v1h-1zM296.9,141.8h1v1h-1zM294.8,153.4h1v1h-1zM301.7,149.1h1v1h-1zM307.2,150.4h1v1h-1zM298.9,152.5h1v1h-1zM308.1,151.6h1v1h-1zM304.6,141.0h1v1h-1zM298.2,153.4h1v1h-1zM297.4,155.7h1v1h-1zM302.3,153.1h1v1h-1zM305.8,145.5h1v1h-1zM297.1,154.6h1v1h-1zM304.4,147.3h1v1h-1zM292.6,152.2h1v1h-1zM301.0,154.8h1v1h-1zM303.3,147.7h1v1h-1zM303.7,150.6h1v1h-1zM300.1,148.9h1v1h-1zM297.7,153.4h1v1h-1zM293.2,147.3h1v1h-1zM299.0,140.6h1v1h-1zM296.6,138.3h1v1h-1zM295.2,153.5h1v1h-1zM302.1,147.7h1v1h-1zM297.7,141.3h1v1h-1zM309.1,148.7h1v1h-1zM305.0,142.0h1v1h-1zM298.0,138.9h1v1h-1zM303.3,152.9h1v1h-1zM302.5,137.8h1v1h-1zM295.5,142.1h1v1h-1zM299.2,150.4h1v1h-1zM302.5,151.9h1v1h-1zM307.3,153.0h1v1h-1zM291.8,148.5h1v1h-1zM293.2,144.7h1v1h-1zM298.6,149.2h1v1h-1zM301.7,139.0h1v1h-1zM292.2,151.1h1v1h-1zM297.9,147.6h1v1h-1zM298.7,144.8h1v1h-1zM302.9,149.8h1v1h-1zM298.5,145.3h1v1h-1zM298.0,133.7h1v1h-1zM293.6,151.0h1v1h-1zM290.7,152.8h1v1h-1zM299.8,140.9h1v1h-1zM297.6,147.7h1v1h-1zM301.5,151.7h1v1h-1zM298.8,144.2h1v1h-1zM298.2,148.9h1v1h-1zM303.0,149.4h1v1h-1zM295.0,142.5h1v1h-1zM296.9,145.4h1v1h-1zM292.9,150.3h1v1h-1zM296.3,150.5h1v1h-1zM301.9,145.7h1v1h-1zM311.8,143.0h1v1h-1zM305.1,147.7h1v1h-1zM305.1,133.4h1v1h-1zM294.9,151.8h1v1h-1zM300.8,155.7h1v1h-1zM303.2,153.0h1v1h-1zM301.8,147.2h1v1h-1zM301.8,141.9h1v1h-1zM305.5,141.1h1v1h-1zM297.8,149.5h1v1h-1zM305.4,147.1h1v1h-1zM294.6,151.9h1v1h-1zM302.2,152.0h1v1h-1zM294.8,160.4h1v1h-1zM308.2,146.1h1v1h-1zM300.5,146.1h1v1h-1zM306.8,142.4h1v1h-1zM302.7,145.0h1v1h-1zM295.2,154.4h1v1h-1zM306.3,146.5h1v1h-1zM295.3,154.9h1v1h-1zM298.7,150.9h1v1h-1zM307.4,152.7h1v1h-1zM299.0,153.5h1v1h-1zM295.4,149.9h1v1h-1zM306.5,139.6h1v1h-1zM290.7,142.4h1v1h-1zM305.5,144.3h1v1h-1zM298.7,147.3h1v1h-1zM298.3,143.0h1v1h-1zM299.1,140.7h1v1h-1zM298.6,150.9h1v1h-1zM301.6,146.8h1v1h-1zM294.0,151.5h1v1h-1zM296.3,158.8h1v1h-1zM303.2,147.0h1v1h-1zM296.4,145.8h1v1h-1zM293.8,148.7h1v1h-1zM300.6,151.4h1v1h-1zM302.1,160.0h1v1h-1zM295.1,150.3h1v1h-1zM314.4,133.3h1v1h-1zM296.1,150.9h1v1h-1zM299.8,151.1h1v1h-1zM297.7,151.5h1v1h-1zM299.3,153.3h1v1h-1zM299.0,143.1h1v1h-1zM293.3,154.5h1v1h-1zM295.4,153.8h1v1h-1zM303.1,149.4h1v1h-1zM301.8,147.5h1v1h-1zM291.2,151.4h1v1h-1zM301.5,145.2h1v1h-1zM298.5,153.5h1v1h-1zM294.2,154.2h1v1h-1zM309.2,142.5h1v1h-1zM299.8,147.9h1v1h-1zM307.5,148.0h1v1h-1zM303.9,143.4h1v1h-1zM298.9,149.0h1v1h-1zM303.9,137.4h1v1h-1zM303.1,146.9h1v1h-1zM301.5,150.3h1v1h-1zM290.8,150.5h1v1h-1zM307.2,143.0h1v1h-1zM293.4,143.1h1v1h-1zM292.3,153.1h1v1h-1zM308.3,148.4h1v1h-1zM296.1,146.1h1v1h-1zM301.9,151.2h1v1h-1zM293.4,144.1h1v1h-1zM300.6,149.9h1v1h-1zM291.8,150.2h1v1h-1zM296.0,152.6h1v1h-1zM298.4,148.7h1v1h-1zM297.1,155.7h1v1h-1zM306.6,144.4h1v1h-1zM303.7,143.1h1v1h-1zM299.4,153.2h1v1h-1zM307.3,144.1h1v1h-1zM298.6,150.3h1v1h-1zM290.8,151.8h1v1h-1zM295.3,152.3h1v1h-1zM292.8,139.7h1v1h-1zM299.2,150.4h1v1h-1zM296.0,155.1h1v1h-1zM297.5,146.0h1v1h-1zM301.6,139.2h1v1h-1zM295.3,150.1h1v1h-1zM303.7,146.5h1v1h-1zM300.7,144.7h1v1h-1zM300.7,158.0h1v1h-1zM295.5,150.3h1v1h-1zM300.0,154.6h1v1h-1zM292.2,139.2h1v1h-1zM302.3,152.5h1v1h-1zM300.1,150.1h1v1h-1zM304.1,149.4h1v1h-1zM308.2,138.9h1v1h-1zM296.9,130.0h1v1h-1zM303.5,145.4h1v1h-1zM304.1,159.7h1v1h-1zM299.0,147.6h1v1h-1zM296.3,145.1h1v1h-1zM295.5,153.8h1v1h-1zM299.2,149.3h1v1h-1zM298.0,154.5h1v1h-1zM301.7,147.3h1v1h-1zM302.7,146.9h1v1h-1zM292.7,159.4h1v1h-1zM301.6,142.7h1v1h-1zM304.9,149.0h1v1h-1zM300.8,153.5h1v1h-1zM300.1,147.8h1v1h-1zM304.4,139.3h1v1h-1zM309.1,135.4h1v1h-1zM310.1,135.8h1v1h-1zM311.0,134.7h1v1h-1zM308.9,131.7h1v1h-1zM307.7,137.7h1v1h-1zM313.0,134.1h1v1h-1zM308.6,139.3h1v1h-1zM308.0,137.8h1v1h-1zM314.0,134.6h1v1h-1zM312.7,133.5h1v1h-1zM309.6,135.7h1v1h-1zM309.3,138.2h1v1h-1zM316.2,132.6h1v1h-1zM307.3,137.5h1v1h-1zM305.8,137.9h1v1h-1zM310.7,134.9h1v1h-1zM310.6,132.4h1v1h-1zM311.3,132.2h1v1h-1zM306.9,135.5h1v1h-1zM307.8,138.1h1v1h-1zM309.2,135.1h1v1h-1zM310.6,138.7h1v1h-1zM309.0,136.7h1v1h-1zM312.7,135.4h1v1h-1zM305.1,142.2h1v1h-1zM315.6,130.1h1v1h-1zM308.9,136.9h1v1h-1zM311.9,136.5h1v1h-1zM308.2,134.1h1v1h-1zM309.3,138.0h1v1h-1zM305.7,134.9h1v1h-1zM308.9,132.1h1v1h-1zM308.2,135.3h1v1h-1zM310.4,134.2h1v1h-1zM306.4,136.0h1v1h-1zM308.9,134.7h1v1h-1zM309.0,137.5h1v1h-1zM312.6,138.4h1v1h-1zM306.6,135.8h1v1h-1zM301.6,142.0h1v1h-1zM306.8,136.6h1v1h-1zM310.6,132.8h1v1h-1zM310.4,135.5h1v1h-1zM303.5,138.2h1v1h-1zM312.6,131.2h1v1h-1zM311.4,135.7h1v1h-1zM310.4,136.5h1v1h-1zM312.9,134.4h1v1h-1zM311.6,134.4h1v1h-1zM311.2,133.7h1v1h-1zM308.7,139.6h1v1h-1zM310.3,135.3h1v1h-1zM305.6,135.4h1v1h-1zM309.6,137.7h1v1h-1zM310.3,136.7h1v1h-1zM308.9,138.8h1v1h-1zM307.8,135.2h1v1h-1zM311.7,135.3h1v1h-1zM308.2,135.1h1v1h-1zM308.2,137.5h1v1h-1zM310.1,133.2h1v1h-1zM310.3,136.0h1v1h-1zM306.0,138.4h1v1h-1zM308.2,135.6h1v1h-1zM311.4,138.0h1v1h-1zM306.9,137.5h1v1h-1zM306.4,141.4h1v1h-1zM307.5,138.8h1v1h-1zM307.1,138.2h1v1h-1zM314.1,160.9h1v1h-1zM299.9,136.1h1v1h-1zM310.2,136.3h1v1h-1zM289.7,158.0h1v1h-1zM301.6,155.4h1v1h-1zM301.1,157.4h1v1h-1zM302.6,135.0h1v1h-1zM289.9,147.1h1v1h-1zM307.8,158.2h1v1h-1zM292.0,149.3h1v1h-1zM300.1,145.6h1v1h-1zM293.7,138.8h1v1h-1z" fill="#000"/>
<path d="M365.0,90.0h1v1h-1zM352.0,100.0h1v1h-1z" fill="#aaa"/>
<rect x="289.4" y="76.5" width="93.80000000000001" height="85.1" fill="none" stroke="#222" stroke-width="1"/>
<line x1="324.5" y1="76.5" x2="324.5" y2="161.6" stroke="#222" stroke-width="1"/>
<line x1="289.4" y1="122.5" x2="383.2" y2="122.5" stroke="#222" stroke-width="1"/>
<path d="M289.40,161.6v2.2M289.4,161.60h-2.2M296.46,161.6v1.2M289.4,155.20h-1.2M300.59,161.6v1.2M289.4,151.45h-1.2M303.52,161.6v1.2M289.4,148.79h-1.2M305.79,161.6v1.2M289.4,146.73h-1.2M307.65,161.6v1.2M289.4,145.04h-1.2M309.22,161.6v1.2M289.4,143.62h-1.2M310.58,161.6v1.2M289.4,142.39h-1.2M311.78,161.6v1.2M289.4,141.30h-1.2M312.85,161.6v2.2M289.4,140.32h-2.2M319.91,161.6v1.2M289.4,133.92h-1.2M324.04,161.6v1.2M289.4,130.17h-1.2M326.97,161.6v1.2M289.4,127.52h-1.2M329.24,161.6v1.2M289.4,125.45h-1.2M331.10,161.6v1.2M289.4,123.77h-1.2M332.67,161.6v1.2M289.4,122.35h-1.2M334.03,161.6v1.2M289.4,121.11h-1.2M335.23,161.6v1.2M289.4,120.02h-1.2M336.30,161.6v2.2M289.4,119.05h-2.2M343.36,161.6v1.2M289.4,112.65h-1.2M347.49,161.6v1.2M289.4,108.90h-1.2M350.42,161.6v1.2M289.4,106.24h-1.2M352.69,161.6v1.2M289.4,104.18h-1.2M354.55,161.6v1.2M289.4,102.49h-1.2M356.12,161.6v1.2M289.4,101.07h-1.2M357.48,161.6v1.2M289.4,99.84h-1.2M358.68,161.6v1.2M289.4,98.75h-1.2M359.75,161.6v2.2M289.4,97.78h-2.2M366.81,161.6v1.2M289.4,91.37h-1.2M370.94,161.6v1.2M289.4,87.62h-1.2M373.87,161.6v1.2M289.4,84.97h-1.2M376.14,161.6v1.2M289.4,82.90h-1.2M378.00,161.6v1.2M289.4,81.22h-1.2M379.57,161.6v1.2M289.4,79.80h-1.2M380.93,161.6v1.2M289.4,78.56h-1.2M382.13,161.6v1.2M289.4,77.47h-1.2M383.2,161.6v2.2M289.4,76.5h-2.2" stroke="#222" stroke-width="0.7" fill="none"/>
<text x="285.59999999999997" y="172.4" font-size="8.2" style="font-family:&quot;Liberation Sans&quot;,sans-serif" fill="#000" stroke="#000" stroke-width="0.15" text-anchor="start">10<tspan font-size="5.08" dy="-3.12">0</tspan></text>
<text x="307.84999999999997" y="172.4" font-size="8.2" style="font-family:&quot;Liberation Sans&quot;,sans-serif" fill="#000" stroke="#000" stroke-width="0.15" text-anchor="start">10<tspan font-size="5.08" dy="-3.12">1</tspan></text>
<text x="331.09999999999997" y="172.4" font-size="8.2" style="font-family:&quot;Liberation Sans&quot;,sans-serif" fill="#000" stroke="#000" stroke-width="0.15" text-anchor="start">10<tspan font-size="5.08" dy="-3.12">2</tspan></text>
<text x="354.34999999999997" y="172.4" font-size="8.2" style="font-family:&quot;Liberation Sans&quot;,sans-serif" fill="#000" stroke="#000" stroke-width="0.15" text-anchor="start">10<tspan font-size="5.08" dy="-3.12">3</tspan></text>
<text x="377.59999999999997" y="172.4" font-size="8.2" style="font-family:&quot;Liberation Sans&quot;,sans-serif" fill="#000" stroke="#000" stroke-width="0.15" text-anchor="start">10<tspan font-size="5.08" dy="-3.12">4</tspan></text>
<text x="285.4" y="166.9" font-size="8.2" style="font-family:&quot;Liberation Sans&quot;,sans-serif" fill="#000" stroke="#000" stroke-width="0.15" text-anchor="start" transform="rotate(-90 285.4 166.9)">10<tspan font-size="5.08" dy="-3.12">0</tspan></text>
<text x="285.4" y="145.625" font-size="8.2" style="font-family:&quot;Liberation Sans&quot;,sans-serif" fill="#000" stroke="#000" stroke-width="0.15" text-anchor="start" transform="rotate(-90 285.4 145.625)">10<tspan font-size="5.08" dy="-3.12">1</tspan></text>
<text x="285.4" y="124.35000000000001" font-size="8.2" style="font-family:&quot;Liberation Sans&quot;,sans-serif" fill="#000" stroke="#000" stroke-width="0.15" text-anchor="start" transform="rotate(-90 285.4 124.35000000000001)">10<tspan font-size="5.08" dy="-3.12">2</tspan></text>
<text x="285.4" y="103.07500000000002" font-size="8.2" style="font-family:&quot;Liberation Sans&quot;,sans-serif" fill="#000" stroke="#000" stroke-width="0.15" text-anchor="start" transform="rotate(-90 285.4 103.07500000000002)">10<tspan font-size="5.08" dy="-3.12">3</tspan></text>
<text x="285.4" y="81.80000000000001" font-size="8.2" style="font-family:&quot;Liberation Sans&quot;,sans-serif" fill="#000" stroke="#000" stroke-width="0.15" text-anchor="start" transform="rotate(-90 285.4 81.80000000000001)">10<tspan font-size="5.08" dy="-3.12">4</tspan></text>
<text x="304.70000000000005" y="73.5" font-size="8.9" font-weight="400" text-anchor="start" fill="#000" style="font-family:&quot;Liberation Sans&quot;,sans-serif" textLength="60.2" lengthAdjust="spacingAndGlyphs" stroke="#000" stroke-width="0.2">FC110A02.011</text>
<text x="297.8" y="181.0" font-size="8.9" font-weight="400" text-anchor="start" fill="#000" style="font-family:&quot;Liberation Sans&quot;,sans-serif" textLength="73.5" lengthAdjust="spacingAndGlyphs" stroke="#000" stroke-width="0.2">Mouse IgG1 FITC</text>
<text x="271.4" y="119.7" font-size="8.9" font-weight="400" text-anchor="middle" fill="#000" style="font-family:&quot;Liberation Sans&quot;,sans-serif" textLength="64.3" lengthAdjust="spacingAndGlyphs" transform="rotate(-90 271.4 119.7)" stroke="#000" stroke-width="0.2">Mouse IgG1 PE</text>
<path d="M440.3,142.6h1v1h-1zM425.4,147.3h1v1h-1zM431.9,147.2h1v1h-1zM435.3,149.9h1v1h-1zM436.9,135.2h1v1h-1zM432.2,143.0h1v1h-1zM435.9,150.1h1v1h-1zM427.9,148.6h1v1h-1zM436.3,144.6h1v1h-1zM427.7,142.8h1v1h-1zM438.1,152.5h1v1h-1zM435.2,150.7h1v1h-1zM427.9,154.9h1v1h-1zM427.6,149.1h1v1h-1zM440.5,139.9h1v1h-1zM437.5,136.3h1v1h-1zM427.0,152.2h1v1h-1zM426.5,145.5h1v1h-1zM425.5,151.7h1v1h-1zM433.8,152.5h1v1h-1zM432.8,147.9h1v1h-1zM434.5,152.0h1v1h-1zM433.6,140.5h1v1h-1zM437.3,134.5h1v1h-1zM438.8,152.3h1v1h-1zM432.0,136.7h1v1h-1zM435.5,138.7h1v1h-1zM437.0,153.1h1v1h-1zM439.2,136.3h1v1h-1zM430.3,140.8h1v1h-1zM437.6,137.3h1v1h-1zM434.7,156.0h1v1h-1zM437.7,134.2h1v1h-1zM436.3,147.5h1v1h-1zM433.1,144.3h1v1h-1zM431.0,147.7h1v1h-1zM435.5,154.6h1v1h-1zM437.1,151.9h1v1h-1zM436.8,134.7h1v1h-1zM436.1,153.1h1v1h-1zM431.5,153.8h1v1h-1zM431.7,149.9h1v1h-1zM428.2,140.8h1v1h-1zM429.9,141.3h1v1h-1zM425.3,144.0h1v1h-1zM437.4,140.2h1v1h-1zM428.1,143.3h1v1h-1zM429.6,151.3h1v1h-1zM437.8,154.0h1v1h-1zM438.2,146.0h1v1h-1zM429.3,148.1h1v1h-1zM430.3,146.1h1v1h-1zM441.4,137.6h1v1h-1zM433.3,148.6h1v1h-1zM433.5,155.1h1v1h-1zM431.0,154.6h1v1h-1zM428.8,154.4h1v1h-1zM426.8,143.9h1v1h-1zM436.2,149.5h1v1h-1zM437.3,150.9h1v1h-1zM428.1,139.8h1v1h-1zM427.4,139.8h1v1h-1zM434.4,148.8h1v1h-1zM434.6,149.6h1v1h-1zM430.2,137.2h1v1h-1zM425.6,145.1h1v1h-1zM428.6,151.3h1v1h-1zM429.1,143.2h1v1h-1zM436.3,144.0h1v1h-1zM437.0,136.1h1v1h-1zM440.7,141.7h1v1h-1zM438.9,134.7h1v1h-1zM438.8,139.1h1v1h-1zM435.9,140.2h1v1h-1zM440.2,137.6h1v1h-1zM435.7,147.2h1v1h-1zM435.7,138.1h1v1h-1zM435.6,146.8h1v1h-1zM430.2,150.3h1v1h-1zM426.1,151.7h1v1h-1zM428.2,142.2h1v1h-1zM433.2,136.5h1v1h-1zM428.1,151.9h1v1h-1zM428.8,142.6h1v1h-1zM437.6,139.0h1v1h-1zM427.1,138.9h1v1h-1zM430.6,142.2h1v1h-1zM435.4,144.6h1v1h-1zM439.6,135.1h1v1h-1zM435.8,152.8h1v1h-1zM431.6,136.6h1v1h-1zM432.0,150.0h1v1h-1zM432.4,137.9h1v1h-1zM427.8,143.9h1v1h-1zM430.2,144.6h1v1h-1zM437.3,146.7h1v1h-1zM439.4,136.5h1v1h-1zM439.5,138.8h1v1h-1zM425.0,140.0h1v1h-1zM440.6,144.4h1v1h-1zM437.0,135.7h1v1h-1zM431.9,141.2h1v1h-1zM427.3,148.9h1v1h-1zM435.6,145.6h1v1h-1zM424.0,144.6h1v1h-1zM437.2,146.1h1v1h-1zM427.8,145.2h1v1h-1zM434.7,148.7h1v1h-1zM426.2,152.1h1v1h-1zM439.4,142.3h1v1h-1zM440.2,138.1h1v1h-1zM427.7,147.5h1v1h-1zM440.2,135.8h1v1h-1zM431.6,137.2h1v1h-1zM427.0,150.9h1v1h-1zM434.3,155.1h1v1h-1zM430.9,149.3h1v1h-1zM427.8,144.7h1v1h-1zM433.0,155.3h1v1h-1zM432.6,156.3h1v1h-1zM435.0,138.9h1v1h-1zM438.9,138.5h1v1h-1zM429.5,143.2h1v1h-1zM429.8,149.0h1v1h-1zM423.9,142.4h1v1h-1zM426.5,152.6h1v1h-1zM428.3,144.2h1v1h-1zM433.9,150.0h1v1h-1zM426.0,139.4h1v1h-1zM433.2,147.1h1v1h-1zM439.9,135.3h1v1h-1zM434.3,144.2h1v1h-1zM431.1,154.0h1v1h-1zM435.7,153.4h1v1h-1zM441.2,140.1h1v1h-1zM440.9,143.2h1v1h-1zM428.9,140.5h1v1h-1zM431.3,145.9h1v1h-1zM439.2,152.2h1v1h-1zM435.6,145.5h1v1h-1zM425.7,139.5h1v1h-1zM435.7,147.2h1v1h-1zM438.3,154.2h1v1h-1zM441.3,138.3h1v1h-1zM434.1,138.1h1v1h-1zM436.3,139.8h1v1h-1zM427.9,142.2h1v1h-1zM433.2,149.2h1v1h-1zM424.9,150.7h1v1h-1zM435.0,144.6h1v1h-1zM435.9,152.0h1v1h-1zM423.7,144.7h1v1h-1zM436.0,150.0h1v1h-1zM435.5,138.1h1v1h-1zM427.8,143.7h1v1h-1zM441.2,138.7h1v1h-1zM431.1,155.6h1v1h-1zM440.2,139.2h1v1h-1zM437.1,142.1h1v1h-1zM435.8,151.3h1v1h-1zM425.9,139.0h1v1h-1zM427.5,140.0h1v1h-1zM431.0,143.5h1v1h-1zM424.9,147.1h1v1h-1zM430.1,149.8h1v1h-1zM431.6,137.9h1v1h-1zM436.0,137.6h1v1h-1zM430.3,155.7h1v1h-1zM437.7,152.8h1v1h-1zM435.4,148.3h1v1h-1zM427.1,151.2h1v1h-1zM429.1,139.8h1v1h-1zM438.7,147.5h1v1h-1zM434.4,138.5h1v1h-1zM423.8,146.0h1v1h-1zM436.9,140.1h1v1h-1zM426.7,149.7h1v1h-1zM428.4,150.0h1v1h-1zM441.4,137.3h1v1h-1zM429.7,145.8h1v1h-1zM429.4,143.4h1v1h-1zM432.4,139.8h1v1h-1zM435.0,149.7h1v1h-1zM428.4,151.8h1v1h-1zM437.0,141.7h1v1h-1zM432.6,138.2h1v1h-1zM436.3,142.7h1v1h-1zM436.8,139.2h1v1h-1zM438.2,152.0h1v1h-1zM425.2,147.2h1v1h-1zM427.0,149.9h1v1h-1zM438.4,151.8h1v1h-1zM435.8,146.7h1v1h-1zM434.3,136.4h1v1h-1zM435.2,139.4h1v1h-1zM428.3,143.5h1v1h-1zM433.4,150.3h1v1h-1zM427.6,140.5h1v1h-1zM435.3,149.6h1v1h-1zM434.9,154.3h1v1h-1zM427.3,141.0h1v1h-1zM435.8,139.9h1v1h-1zM426.4,139.1h1v1h-1zM437.8,152.6h1v1h-1zM438.2,141.0h1v1h-1zM429.3,150.2h1v1h-1zM424.5,147.7h1v1h-1zM433.0,137.4h1v1h-1zM432.0,138.4h1v1h-1zM425.7,145.4h1v1h-1zM433.1,142.2h1v1h-1zM436.8,145.9h1v1h-1zM437.8,136.4h1v1h-1zM424.8,142.7h1v1h-1zM432.4,139.7h1v1h-1zM435.9,139.0h1v1h-1zM429.4,144.7h1v1h-1zM436.7,151.3h1v1h-1zM430.4,144.1h1v1h-1zM434.9,136.4h1v1h-1zM431.9,148.3h1v1h-1zM425.9,144.5h1v1h-1zM435.0,140.7h1v1h-1zM437.8,143.8h1v1h-1zM425.1,142.9h1v1h-1zM424.4,140.5h1v1h-1zM437.7,137.0h1v1h-1zM426.5,146.0h1v1h-1zM438.9,137.8h1v1h-1zM426.7,151.2h1v1h-1zM431.4,141.6h1v1h-1zM425.8,139.5h1v1h-1zM441.5,136.6h1v1h-1zM428.3,150.7h1v1h-1zM432.2,155.5h1v1h-1zM434.7,140.5h1v1h-1zM432.1,150.1h1v1h-1zM437.1,136.9h1v1h-1zM425.5,152.3h1v1h-1zM429.8,139.6h1v1h-1zM428.2,144.6h1v1h-1zM439.3,141.2h1v1h-1zM426.7,150.8h1v1h-1zM429.8,138.2h1v1h-1zM431.2,152.5h1v1h-1zM439.5,146.9h1v1h-1zM434.7,154.2h1v1h-1zM441.1,141.4h1v1h-1zM428.4,142.2h1v1h-1zM430.4,141.9h1v1h-1zM427.7,154.5h1v1h-1zM431.1,148.3h1v1h-1zM428.0,154.7h1v1h-1zM437.0,151.0h1v1h-1zM438.5,139.7h1v1h-1zM435.6,142.6h1v1h-1zM439.0,137.0h1v1h-1zM433.5,141.6h1v1h-1zM438.7,141.8h1v1h-1zM439.8,137.1h1v1h-1zM436.0,148.7h1v1h-1zM433.6,144.3h1v1h-1zM429.8,151.6h1v1h-1zM438.0,153.6h1v1h-1zM427.5,141.7h1v1h-1zM438.2,139.1h1v1h-1zM437.2,138.5h1v1h-1zM432.0,143.0h1v1h-1zM429.2,148.2h1v1h-1zM440.1,144.6h1v1h-1zM429.3,153.7h1v1h-1zM434.1,136.4h1v1h-1zM434.4,152.7h1v1h-1zM433.1,144.9h1v1h-1zM431.2,153.8h1v1h-1zM435.8,138.7h1v1h-1zM430.2,142.2h1v1h-1zM424.1,147.3h1v1h-1zM431.5,150.1h1v1h-1zM433.2,152.5h1v1h-1zM438.1,142.0h1v1h-1zM427.6,150.8h1v1h-1zM438.3,138.9h1v1h-1zM431.5,142.6h1v1h-1zM436.6,154.9h1v1h-1zM427.2,140.8h1v1h-1zM429.6,150.5h1v1h-1zM427.0,146.3h1v1h-1zM432.8,149.0h1v1h-1zM438.2,138.1h1v1h-1zM440.3,146.4h1v1h-1zM437.6,153.5h1v1h-1zM430.2,154.8h1v1h-1zM432.8,154.2h1v1h-1zM432.9,155.0h1v1h-1zM433.9,137.2h1v1h-1zM435.2,152.1h1v1h-1zM431.3,147.5h1v1h-1zM428.3,140.2h1v1h-1zM431.3,145.5h1v1h-1zM423.6,141.7h1v1h-1zM436.8,150.8h1v1h-1zM427.9,139.8h1v1h-1zM433.1,137.9h1v1h-1zM434.7,154.3h1v1h-1zM427.2,147.2h1v1h-1zM436.8,150.9h1v1h-1zM436.7,150.0h1v1h-1zM428.5,152.9h1v1h-1zM440.6,135.2h1v1h-1zM438.2,149.2h1v1h-1zM426.1,144.3h1v1h-1zM429.7,151.2h1v1h-1zM428.0,138.5h1v1h-1zM426.5,143.2h1v1h-1zM434.9,140.8h1v1h-1zM426.5,138.9h1v1h-1zM429.3,145.4h1v1h-1zM426.9,144.8h1v1h-1zM431.6,155.9h1v1h-1zM432.5,155.3h1v1h-1zM432.2,138.5h1v1h-1zM434.5,137.3h1v1h-1zM431.0,142.0h1v1h-1zM431.4,141.9h1v1h-1zM436.3,142.8h1v1h-1zM439.2,150.4h1v1h-1zM430.1,148.2h1v1h-1zM440.5,143.0h1v1h-1zM431.5,140.7h1v1h-1zM433.8,148.9h1v1h-1zM426.2,142.2h1v1h-1zM439.3,151.8h1v1h-1zM434.4,149.2h1v1h-1zM429.8,155.3h1v1h-1zM433.7,143.1h1v1h-1zM424.0,141.3h1v1h-1zM432.4,145.2h1v1h-1zM430.2,154.1h1v1h-1zM430.0,146.0h1v1h-1zM432.3,141.5h1v1h-1zM430.7,147.7h1v1h-1zM438.0,139.9h1v1h-1zM430.4,142.7h1v1h-1zM430.2,154.5h1v1h-1zM433.5,140.2h1v1h-1zM429.6,152.5h1v1h-1zM426.5,149.5h1v1h-1zM426.2,139.1h1v1h-1zM424.6,139.9h1v1h-1zM437.1,150.2h1v1h-1zM433.7,154.7h1v1h-1zM431.5,138.3h1v1h-1zM437.3,153.3h1v1h-1zM439.6,151.0h1v1h-1zM434.5,156.0h1v1h-1zM436.6,148.2h1v1h-1zM426.8,147.7h1v1h-1zM431.5,142.8h1v1h-1zM428.2,139.2h1v1h-1zM436.6,137.9h1v1h-1zM430.0,150.6h1v1h-1zM424.6,145.9h1v1h-1zM436.1,134.8h1v1h-1zM431.6,151.8h1v1h-1zM434.2,144.2h1v1h-1zM439.8,147.5h1v1h-1zM429.7,142.9h1v1h-1zM430.6,149.5h1v1h-1zM438.0,145.6h1v1h-1zM431.2,149.1h1v1h-1zM434.0,150.4h1v1h-1zM431.1,155.6h1v1h-1zM434.9,141.1h1v1h-1zM430.5,140.1h1v1h-1zM438.1,152.5h1v1h-1zM429.4,151.0h1v1h-1zM428.4,147.7h1v1h-1zM426.4,153.3h1v1h-1zM432.5,140.2h1v1h-1zM440.6,135.9h1v1h-1zM426.3,151.1h1v1h-1zM434.1,154.4h1v1h-1zM434.4,143.6h1v1h-1zM440.8,136.0h1v1h-1zM437.9,136.3h1v1h-1zM439.6,143.9h1v1h-1zM436.9,139.8h1v1h-1zM437.0,148.6h1v1h-1zM425.3,145.1h1v1h-1zM436.9,138.8h1v1h-1zM435.6,140.3h1v1h-1zM430.4,154.7h1v1h-1zM431.4,146.9h1v1h-1zM438.5,151.1h1v1h-1zM431.9,153.4h1v1h-1zM430.9,155.4h1v1h-1zM432.2,136.7h1v1h-1zM437.4,137.3h1v1h-1zM436.1,135.2h1v1h-1zM437.2,137.0h1v1h-1zM435.3,142.5h1v1h-1zM428.1,152.3h1v1h-1zM424.1,144.8h1v1h-1zM440.0,134.8h1v1h-1zM432.1,144.6h1v1h-1zM436.8,150.4h1v1h-1zM429.8,155.0h1v1h-1zM438.6,136.7h1v1h-1zM426.9,145.3h1v1h-1zM429.7,137.7h1v1h-1zM440.7,144.7h1v1h-1zM438.0,139.6h1v1h-1zM440.4,139.0h1v1h-1zM440.3,147.8h1v1h-1zM435.2,146.0h1v1h-1zM439.3,144.0h1v1h-1zM438.4,149.3h1v1h-1zM437.3,139.2h1v1h-1zM432.1,152.5h1v1h-1zM426.5,149.4h1v1h-1zM433.8,143.1h1v1h-1zM432.2,145.1h1v1h-1zM428.5,142.3h1v1h-1zM433.7,151.1h1v1h-1zM434.4,137.6h1v1h-1zM439.9,142.3h1v1h-1zM426.1,147.1h1v1h-1zM433.6,141.1h1v1h-1zM425.8,140.4h1v1h-1zM435.1,146.7h1v1h-1zM430.2,155.4h1v1h-1zM435.2,146.2h1v1h-1zM439.5,149.1h1v1h-1zM430.2,147.6h1v1h-1zM433.7,138.6h1v1h-1zM432.9,136.7h1v1h-1zM439.0,149.1h1v1h-1zM436.2,154.9h1v1h-1zM436.7,134.0h1v1h-1zM424.4,143.6h1v1h-1zM441.4,141.0h1v1h-1zM431.2,154.3h1v1h-1zM434.4,152.5h1v1h-1zM426.8,152.7h1v1h-1zM428.4,153.8h1v1h-1zM433.0,141.3h1v1h-1zM436.4,135.5h1v1h-1zM425.5,150.8h1v1h-1zM430.2,148.9h1v1h-1zM435.6,137.6h1v1h-1zM436.9,146.4h1v1h-1zM430.1,154.3h1v1h-1zM434.4,152.0h1v1h-1zM426.5,145.3h1v1h-1zM434.1,146.6h1v1h-1zM431.1,146.2h1v1h-1zM431.3,139.3h1v1h-1zM437.5,139.4h1v1h-1zM438.7,139.4h1v1h-1zM425.2,144.7h1v1h-1zM430.7,141.5h1v1h-1zM437.7,139.0h1v1h-1zM435.9,152.8h1v1h-1zM431.9,145.3h1v1h-1zM425.0,141.5h1v1h-1zM425.1,148.6h1v1h-1zM431.3,140.9h1v1h-1zM433.0,155.1h1v1h-1zM429.1,141.3h1v1h-1zM431.4,137.7h1v1h-1zM439.2,148.6h1v1h-1zM426.4,148.1h1v1h-1zM424.6,145.4h1v1h-1zM437.2,150.1h1v1h-1zM432.9,137.8h1v1h-1zM435.9,143.7h1v1h-1zM435.7,136.1h1v1h-1zM427.6,143.0h1v1h-1zM429.7,140.0h1v1h-1zM435.9,139.0h1v1h-1zM430.9,149.5h1v1h-1zM431.5,137.5h1v1h-1zM424.8,146.2h1v1h-1zM425.3,145.3h1v1h-1zM432.5,138.4h1v1h-1zM435.9,145.2h1v1h-1zM438.5,140.6h1v1h-1zM432.3,137.2h1v1h-1zM432.4,136.9h1v1h-1zM436.2,149.7h1v1h-1zM434.2,156.0h1v1h-1zM438.3,136.5h1v1h-1zM434.3,150.3h1v1h-1zM429.9,149.6h1v1h-1zM430.3,150.0h1v1h-1zM425.2,150.3h1v1h-1zM439.5,148.3h1v1h-1zM436.8,136.6h1v1h-1zM430.5,149.1h1v1h-1zM430.0,153.7h1v1h-1zM439.5,147.2h1v1h-1zM427.1,145.7h1v1h-1zM432.4,141.6h1v1h-1zM430.4,145.5h1v1h-1zM434.4,139.0h1v1h-1zM428.6,145.3h1v1h-1zM432.8,143.4h1v1h-1zM435.8,138.2h1v1h-1zM433.3,140.2h1v1h-1zM437.7,149.8h1v1h-1zM437.9,145.6h1v1h-1zM428.1,154.8h1v1h-1zM433.0,142.4h1v1h-1zM428.9,143.0h1v1h-1zM436.6,152.4h1v1h-1zM432.4,150.5h1v1h-1zM427.4,144.2h1v1h-1zM430.1,140.9h1v1h-1zM430.2,151.0h1v1h-1zM437.1,138.7h1v1h-1zM427.8,151.6h1v1h-1zM435.6,149.2h1v1h-1zM435.3,149.6h1v1h-1zM438.4,139.2h1v1h-1zM438.2,150.6h1v1h-1zM432.5,142.3h1v1h-1zM428.5,145.0h1v1h-1zM436.7,154.1h1v1h-1zM431.6,143.5h1v1h-1zM428.7,154.7h1v1h-1zM439.3,141.5h1v1h-1zM431.4,138.3h1v1h-1zM437.8,142.4h1v1h-1zM431.6,142.9h1v1h-1zM434.5,139.7h1v1h-1zM423.9,142.8h1v1h-1zM430.4,151.1h1v1h-1zM429.7,149.3h1v1h-1zM435.1,138.2h1v1h-1zM434.8,140.6h1v1h-1zM427.2,153.2h1v1h-1zM440.3,139.3h1v1h-1zM434.3,146.9h1v1h-1zM429.5,148.5h1v1h-1zM434.6,145.5h1v1h-1zM429.3,143.4h1v1h-1zM430.2,154.3h1v1h-1zM427.9,153.3h1v1h-1zM428.0,147.2h1v1h-1zM438.2,152.2h1v1h-1zM428.5,151.5h1v1h-1zM432.4,156.2h1v1h-1zM424.5,142.6h1v1h-1zM427.7,148.1h1v1h-1zM437.9,152.9h1v1h-1zM433.6,142.7h1v1h-1zM438.3,136.4h1v1h-1zM428.3,150.9h1v1h-1zM425.2,144.4h1v1h-1zM430.3,143.7h1v1h-1zM432.9,140.5h1v1h-1zM436.5,145.6h1v1h-1zM441.7,137.8h1v1h-1zM432.9,145.1h1v1h-1zM430.4,153.4h1v1h-1zM427.4,153.7h1v1h-1zM430.1,141.5h1v1h-1zM434.9,146.7h1v1h-1zM441.2,142.3h1v1h-1zM425.6,148.8h1v1h-1zM433.3,141.4h1v1h-1zM429.6,153.0h1v1h-1zM429.8,143.4h1v1h-1zM441.2,142.1h1v1h-1zM430.9,137.6h1v1h-1zM435.8,149.0h1v1h-1zM431.8,143.1h1v1h-1zM427.8,151.8h1v1h-1zM432.0,152.7h1v1h-1zM430.4,150.5h1v1h-1zM436.0,145.2h1v1h-1zM432.2,138.4h1v1h-1zM426.7,148.5h1v1h-1zM436.3,139.8h1v1h-1zM435.4,137.1h1v1h-1zM434.8,137.9h1v1h-1zM432.9,141.1h1v1h-1zM433.7,137.0h1v1h-1zM432.4,147.9h1v1h-1zM426.0,140.9h1v1h-1zM436.1,146.3h1v1h-1zM434.9,151.5h1v1h-1zM434.1,139.0h1v1h-1zM431.7,152.7h1v1h-1zM434.0,150.9h1v1h-1zM430.2,144.1h1v1h-1zM435.6,136.4h1v1h-1zM437.0,140.0h1v1h-1zM439.1,138.0h1v1h-1zM438.8,145.7h1v1h-1zM431.6,152.7h1v1h-1zM436.2,146.0h1v1h-1zM439.5,138.6h1v1h-1zM440.1,141.6h1v1h-1zM424.0,141.6h1v1h-1zM435.0,136.7h1v1h-1zM426.5,140.6h1v1h-1zM428.7,154.7h1v1h-1zM438.2,140.3h1v1h-1zM437.0,139.1h1v1h-1zM433.7,147.8h1v1h-1zM439.4,137.2h1v1h-1zM436.4,144.4h1v1h-1zM438.0,144.3h1v1h-1zM428.7,150.8h1v1h-1zM438.9,139.6h1v1h-1zM436.4,142.9h1v1h-1zM427.6,138.9h1v1h-1zM441.1,142.3h1v1h-1zM432.9,145.3h1v1h-1zM437.3,153.7h1v1h-1zM430.1,138.7h1v1h-1zM429.9,150.5h1v1h-1zM435.7,143.1h1v1h-1zM433.2,137.5h1v1h-1zM440.5,144.6h1v1h-1zM432.9,151.7h1v1h-1zM427.2,150.3h1v1h-1zM430.0,152.3h1v1h-1zM425.2,140.2h1v1h-1zM435.3,144.9h1v1h-1zM430.5,147.0h1v1h-1zM427.5,143.8h1v1h-1zM428.2,152.7h1v1h-1zM433.7,147.5h1v1h-1zM435.1,136.8h1v1h-1zM437.9,140.6h1v1h-1zM439.5,151.7h1v1h-1zM436.0,152.3h1v1h-1zM431.6,149.2h1v1h-1zM441.1,138.3h1v1h-1zM425.4,143.3h1v1h-1zM432.9,137.4h1v1h-1zM427.6,153.5h1v1h-1zM430.7,137.4h1v1h-1zM426.9,147.0h1v1h-1zM427.0,144.7h1v1h-1zM433.4,143.9h1v1h-1zM432.8,152.8h1v1h-1zM437.7,146.8h1v1h-1zM433.5,138.9h1v1h-1zM437.9,140.9h1v1h-1zM436.9,139.1h1v1h-1zM434.1,148.6h1v1h-1zM430.4,144.8h1v1h-1zM424.7,148.5h1v1h-1zM436.3,137.5h1v1h-1zM433.7,150.5h1v1h-1zM439.6,135.1h1v1h-1zM432.6,139.6h1v1h-1zM429.1,144.4h1v1h-1zM430.4,151.7h1v1h-1zM436.9,136.6h1v1h-1zM436.4,151.6h1v1h-1zM431.1,154.9h1v1h-1zM430.8,141.0h1v1h-1zM433.0,143.9h1v1h-1zM431.6,151.3h1v1h-1zM438.9,144.7h1v1h-1z" fill="#000"/>
<path d="M437.1,143.2h1v1h-1zM438.9,140.8h1v1h-1zM435.5,147.8h1v1h-1zM426.6,157.5h1v1h-1zM422.5,156.0h1v1h-1zM438.3,147.9h1v1h-1zM436.1,142.8h1v1h-1zM432.4,148.4h1v1h-1zM434.7,150.4h1v1h-1zM431.4,143.2h1v1h-1zM429.5,150.5h1v1h-1zM423.7,142.6h1v1h-1zM430.3,144.5h1v1h-1zM431.1,131.7h1v1h-1zM430.7,146.1h1v1h-1zM436.6,133.8h1v1h-1zM430.9,150.4h1v1h-1zM435.1,153.2h1v1h-1zM438.1,138.8h1v1h-1zM435.9,143.8h1v1h-1zM428.3,157.6h1v1h-1zM429.2,143.1h1v1h-1zM430.3,142.7h1v1h-1zM437.8,147.4h1v1h-1zM439.9,146.8h1v1h-1zM429.2,154.4h1v1h-1zM429.0,145.5h1v1h-1zM431.6,147.5h1v1h-1zM438.8,141.1h1v1h-1zM434.4,146.2h1v1h-1zM425.8,142.8h1v1h-1zM431.3,149.8h1v1h-1zM434.2,149.3h1v1h-1zM432.8,144.2h1v1h-1zM434.8,140.2h1v1h-1zM425.4,147.5h1v1h-1zM424.9,146.6h1v1h-1zM428.5,145.1h1v1h-1zM432.3,142.3h1v1h-1zM430.3,137.6h1v1h-1zM433.3,141.5h1v1h-1zM434.6,129.3h1v1h-1zM428.2,150.0h1v1h-1zM433.0,147.4h1v1h-1zM424.6,151.2h1v1h-1zM433.3,140.9h1v1h-1zM436.4,145.3h1v1h-1zM432.6,144.3h1v1h-1zM435.4,146.6h1v1h-1zM438.5,147.6h1v1h-1zM429.2,146.8h1v1h-1zM437.4,143.1h1v1h-1zM434.5,149.4h1v1h-1zM431.5,133.4h1v1h-1zM433.2,148.0h1v1h-1zM433.2,142.2h1v1h-1zM438.9,143.9h1v1h-1zM429.2,143.9h1v1h-1zM434.4,139.8h1v1h-1zM439.5,150.8h1v1h-1zM439.8,148.0h1v1h-1zM423.5,157.3h1v1h-1zM439.1,147.6h1v1h-1zM422.1,158.1h1v1h-1zM439.8,141.5h1v1h-1zM433.2,151.4h1v1h-1zM432.0,153.8h1v1h-1zM432.9,151.0h1v1h-1zM433.0,138.0h1v1h-1zM434.0,154.3h1v1h-1zM438.6,155.2h1v1h-1zM435.5,142.4h1v1h-1zM432.6,135.4h1v1h-1zM431.5,152.8h1v1h-1zM436.9,153.4h1v1h-1zM427.6,144.8h1v1h-1zM422.5,144.4h1v1h-1zM435.3,158.4h1v1h-1zM426.4,157.5h1v1h-1zM434.8,143.2h1v1h-1zM444.2,127.7h1v1h-1zM432.1,148.4h1v1h-1zM443.9,153.8h1v1h-1zM444.6,143.5h1v1h-1zM437.7,153.4h1v1h-1zM435.2,148.2h1v1h-1zM431.5,144.9h1v1h-1zM430.1,135.3h1v1h-1zM433.9,146.3h1v1h-1zM433.4,157.6h1v1h-1zM431.9,145.6h1v1h-1zM428.5,148.3h1v1h-1zM430.2,149.1h1v1h-1zM449.2,143.4h1v1h-1zM437.1,150.3h1v1h-1zM436.3,150.6h1v1h-1zM436.1,154.2h1v1h-1zM437.9,153.2h1v1h-1zM429.8,147.9h1v1h-1zM428.6,154.2h1v1h-1zM436.9,142.6h1v1h-1zM439.1,137.9h1v1h-1zM432.0,151.0h1v1h-1zM432.3,149.4h1v1h-1zM438.8,146.7h1v1h-1zM426.6,153.4h1v1h-1zM432.0,147.9h1v1h-1zM429.5,139.7h1v1h-1zM425.8,147.2h1v1h-1zM426.8,132.6h1v1h-1zM438.6,137.8h1v1h-1zM428.6,151.6h1v1h-1zM428.4,152.4h1v1h-1zM429.9,149.8h1v1h-1zM433.1,146.8h1v1h-1zM422.7,141.6h1v1h-1zM432.3,155.6h1v1h-1zM429.6,151.2h1v1h-1zM433.4,149.6h1v1h-1zM437.8,136.1h1v1h-1zM434.0,145.4h1v1h-1zM430.8,142.4h1v1h-1zM428.3,142.3h1v1h-1zM441.6,143.8h1v1h-1zM436.5,139.7h1v1h-1zM433.3,155.4h1v1h-1zM432.3,141.0h1v1h-1zM431.2,141.4h1v1h-1zM425.0,148.2h1v1h-1zM430.4,142.9h1v1h-1zM427.8,143.1h1v1h-1zM433.8,155.0h1v1h-1zM423.8,151.7h1v1h-1zM426.3,148.2h1v1h-1zM433.0,150.2h1v1h-1zM438.6,141.5h1v1h-1zM425.8,148.2h1v1h-1zM434.1,142.2h1v1h-1zM437.3,155.5h1v1h-1zM424.9,151.9h1v1h-1zM437.9,133.5h1v1h-1zM433.6,145.2h1v1h-1zM424.9,157.7h1v1h-1zM433.7,143.7h1v1h-1zM434.9,150.0h1v1h-1zM436.6,149.0h1v1h-1zM434.7,139.1h1v1h-1zM430.2,148.6h1v1h-1zM430.5,141.3h1v1h-1zM422.7,152.0h1v1h-1zM432.7,143.4h1v1h-1zM430.3,142.4h1v1h-1zM428.5,147.8h1v1h-1zM429.0,152.3h1v1h-1zM431.7,148.1h1v1h-1zM434.7,153.9h1v1h-1zM435.7,147.2h1v1h-1zM431.6,142.4h1v1h-1zM430.7,151.8h1v1h-1zM433.7,144.2h1v1h-1zM425.4,140.3h1v1h-1zM434.2,152.6h1v1h-1zM434.5,138.0h1v1h-1zM431.4,148.7h1v1h-1zM427.6,150.8h1v1h-1zM431.4,142.3h1v1h-1zM425.8,154.3h1v1h-1zM434.4,141.0h1v1h-1zM427.1,154.3h1v1h-1zM435.7,144.0h1v1h-1zM441.0,142.2h1v1h-1zM426.8,155.6h1v1h-1zM431.5,149.4h1v1h-1zM432.7,140.9h1v1h-1zM426.1,148.1h1v1h-1zM440.0,138.3h1v1h-1zM439.8,145.8h1v1h-1zM426.5,150.7h1v1h-1zM435.5,140.5h1v1h-1zM426.6,151.8h1v1h-1zM422.3,149.8h1v1h-1zM428.2,139.6h1v1h-1zM431.2,148.5h1v1h-1zM429.5,140.9h1v1h-1zM433.6,136.0h1v1h-1zM435.4,148.9h1v1h-1zM441.5,149.1h1v1h-1zM434.4,147.9h1v1h-1zM432.6,139.0h1v1h-1zM440.3,147.4h1v1h-1zM431.0,140.6h1v1h-1zM440.4,147.4h1v1h-1zM426.2,153.3h1v1h-1zM442.6,143.3h1v1h-1zM434.6,143.7h1v1h-1zM429.1,154.7h1v1h-1zM449.0,141.9h1v1h-1zM431.8,152.0h1v1h-1zM430.9,152.0h1v1h-1zM436.9,139.3h1v1h-1zM426.8,148.6h1v1h-1zM436.9,147.1h1v1h-1zM439.1,136.4h1v1h-1zM435.1,142.3h1v1h-1zM433.0,148.7h1v1h-1zM427.3,147.5h1v1h-1zM426.3,150.8h1v1h-1zM428.0,145.6h1v1h-1zM433.7,142.7h1v1h-1zM438.6,141.0h1v1h-1zM437.0,147.1h1v1h-1zM427.0,147.6h1v1h-1zM428.0,146.4h1v1h-1zM431.1,158.4h1v1h-1zM430.3,157.2h1v1h-1zM434.9,138.3h1v1h-1zM421.9,155.1h1v1h-1zM438.0,147.4h1v1h-1zM431.4,145.9h1v1h-1zM433.9,144.7h1v1h-1zM429.6,145.8h1v1h-1zM438.7,141.1h1v1h-1zM434.5,139.4h1v1h-1zM428.7,140.1h1v1h-1zM431.4,151.5h1v1h-1zM434.1,143.5h1v1h-1zM435.8,143.8h1v1h-1zM434.5,147.9h1v1h-1zM435.4,131.1h1v1h-1zM425.6,154.1h1v1h-1zM431.2,144.1h1v1h-1zM440.5,147.5h1v1h-1zM442.6,146.5h1v1h-1zM431.4,151.7h1v1h-1zM428.3,145.8h1v1h-1zM429.5,146.7h1v1h-1zM436.6,142.6h1v1h-1zM434.2,143.4h1v1h-1zM437.2,128.8h1v1h-1zM431.4,148.4h1v1h-1zM426.8,155.1h1v1h-1zM433.7,154.3h1v1h-1zM437.6,149.0h1v1h-1zM431.7,140.8h1v1h-1zM431.3,144.7h1v1h-1zM433.8,143.7h1v1h-1zM448.7,131.7h1v1h-1zM438.7,142.0h1v1h-1zM431.2,153.0h1v1h-1zM432.5,139.7h1v1h-1zM434.7,145.1h1v1h-1zM421.6,152.1h1v1h-1zM426.9,144.5h1v1h-1zM435.1,147.9h1v1h-1zM434.7,142.5h1v1h-1zM433.8,145.8h1v1h-1zM431.5,145.7h1v1h-1zM429.5,153.9h1v1h-1zM432.6,157.2h1v1h-1zM436.7,155.4h1v1h-1zM431.9,149.5h1v1h-1zM430.2,146.8h1v1h-1zM423.3,146.8h1v1h-1zM427.5,144.9h1v1h-1zM439.0,146.3h1v1h-1zM439.0,149.8h1v1h-1zM437.4,151.3h1v1h-1zM429.3,152.9h1v1h-1zM430.8,144.4h1v1h-1zM438.8,157.7h1v1h-1zM427.3,159.2h1v1h-1zM436.9,140.4h1v1h-1zM433.9,148.7h1v1h-1zM434.5,144.2h1v1h-1zM425.7,149.6h1v1h-1zM437.1,150.1h1v1h-1zM436.0,152.3h1v1h-1zM427.2,148.6h1v1h-1zM434.3,152.3h1v1h-1zM433.3,149.8h1v1h-1zM433.2,159.3h1v1h-1zM445.6,143.8h1v1h-1zM422.8,151.2h1v1h-1zM424.9,145.6h1v1h-1zM433.7,156.8h1v1h-1zM435.0,150.1h1v1h-1zM437.9,146.3h1v1h-1zM428.0,148.0h1v1h-1zM434.3,144.7h1v1h-1zM429.0,146.1h1v1h-1zM424.5,143.7h1v1h-1zM432.0,145.0h1v1h-1zM432.7,155.3h1v1h-1zM434.1,146.2h1v1h-1zM426.3,142.8h1v1h-1zM434.5,141.1h1v1h-1zM434.8,139.8h1v1h-1zM433.2,146.3h1v1h-1zM437.8,142.8h1v1h-1zM430.5,149.2h1v1h-1zM432.8,157.0h1v1h-1zM431.1,144.3h1v1h-1zM430.8,150.4h1v1h-1zM433.7,150.7h1v1h-1zM442.2,143.4h1v1h-1zM426.1,150.2h1v1h-1zM434.7,132.9h1v1h-1zM432.6,138.2h1v1h-1zM434.9,154.4h1v1h-1zM438.0,136.1h1v1h-1zM439.8,149.8h1v1h-1zM430.6,150.7h1v1h-1zM440.5,142.2h1v1h-1zM432.4,143.7h1v1h-1zM438.6,132.0h1v1h-1zM440.0,138.6h1v1h-1zM437.4,135.6h1v1h-1zM427.5,145.2h1v1h-1zM436.9,135.8h1v1h-1zM435.7,142.1h1v1h-1zM439.1,142.8h1v1h-1zM435.1,145.1h1v1h-1zM442.0,141.5h1v1h-1zM432.4,158.9h1v1h-1zM432.9,150.9h1v1h-1zM428.6,149.6h1v1h-1zM429.1,139.2h1v1h-1zM425.0,156.5h1v1h-1zM434.8,137.2h1v1h-1zM442.1,139.4h1v1h-1zM430.5,149.2h1v1h-1zM426.5,139.5h1v1h-1zM428.6,155.4h1v1h-1zM437.5,135.8h1v1h-1zM438.9,144.9h1v1h-1zM435.1,146.4h1v1h-1zM434.7,140.3h1v1h-1zM427.7,144.5h1v1h-1zM430.6,151.4h1v1h-1zM426.1,158.8h1v1h-1zM429.2,144.7h1v1h-1zM436.2,148.3h1v1h-1zM430.7,141.3h1v1h-1zM427.2,139.3h1v1h-1zM438.6,151.3h1v1h-1zM442.4,146.5h1v1h-1zM434.3,150.9h1v1h-1zM437.5,143.7h1v1h-1zM434.4,159.2h1v1h-1zM423.5,141.8h1v1h-1zM427.4,153.3h1v1h-1zM438.8,142.7h1v1h-1zM436.1,145.5h1v1h-1zM434.1,143.2h1v1h-1zM432.4,147.0h1v1h-1zM438.5,158.2h1v1h-1zM422.9,153.6h1v1h-1zM432.5,152.8h1v1h-1zM438.1,149.7h1v1h-1zM436.8,139.8h1v1h-1zM438.9,139.0h1v1h-1zM439.3,148.6h1v1h-1zM427.3,155.8h1v1h-1zM428.9,143.8h1v1h-1zM424.3,148.6h1v1h-1zM437.9,141.1h1v1h-1zM442.3,147.7h1v1h-1zM429.7,140.8h1v1h-1zM423.8,153.4h1v1h-1zM439.4,138.2h1v1h-1zM432.5,145.3h1v1h-1zM431.1,150.5h1v1h-1zM443.6,139.3h1v1h-1zM437.0,151.9h1v1h-1zM431.0,146.6h1v1h-1zM425.4,156.0h1v1h-1zM429.7,144.1h1v1h-1zM432.9,141.7h1v1h-1zM427.0,147.2h1v1h-1zM440.4,143.0h1v1h-1zM435.3,137.2h1v1h-1zM430.4,138.6h1v1h-1zM431.9,150.8h1v1h-1zM423.3,145.0h1v1h-1zM433.9,141.0h1v1h-1zM436.7,151.3h1v1h-1zM434.8,143.6h1v1h-1zM432.3,143.3h1v1h-1zM431.8,149.1h1v1h-1zM430.9,153.4h1v1h-1zM446.3,138.8h1v1h-1zM434.3,151.3h1v1h-1zM435.9,144.4h1v1h-1zM430.0,153.9h1v1h-1zM435.8,148.9h1v1h-1zM428.2,152.3h1v1h-1zM436.7,144.4h1v1h-1zM435.9,158.8h1v1h-1zM422.5,154.2h1v1h-1zM426.3,141.0h1v1h-1zM431.2,150.7h1v1h-1zM432.8,139.9h1v1h-1zM424.9,146.4h1v1h-1zM432.6,142.0h1v1h-1zM428.0,147.6h1v1h-1zM429.6,144.5h1v1h-1zM432.7,145.1h1v1h-1zM435.8,138.7h1v1h-1zM432.1,151.8h1v1h-1zM438.8,148.1h1v1h-1zM432.7,137.6h1v1h-1zM424.0,155.9h1v1h-1zM436.1,149.1h1v1h-1zM423.7,137.3h1v1h-1zM426.9,141.9h1v1h-1zM433.3,140.6h1v1h-1zM440.9,140.3h1v1h-1zM429.5,153.3h1v1h-1zM434.3,141.0h1v1h-1zM436.9,157.0h1v1h-1zM426.0,147.8h1v1h-1zM426.8,137.4h1v1h-1zM435.8,150.0h1v1h-1zM437.7,147.7h1v1h-1zM421.8,150.6h1v1h-1zM428.9,141.2h1v1h-1zM426.6,153.7h1v1h-1zM430.9,159.4h1v1h-1zM435.0,134.6h1v1h-1zM437.3,152.8h1v1h-1zM432.7,139.6h1v1h-1zM442.0,135.7h1v1h-1zM432.1,135.7h1v1h-1zM425.8,139.1h1v1h-1zM438.3,152.0h1v1h-1zM430.3,139.6h1v1h-1zM432.2,149.4h1v1h-1zM424.3,142.9h1v1h-1zM432.0,151.4h1v1h-1zM432.9,149.6h1v1h-1zM425.8,134.3h1v1h-1zM434.2,140.9h1v1h-1zM431.8,145.0h1v1h-1zM435.1,141.4h1v1h-1zM440.2,144.4h1v1h-1zM435.3,149.8h1v1h-1zM438.1,147.5h1v1h-1zM423.1,146.5h1v1h-1zM442.5,146.3h1v1h-1zM435.5,148.8h1v1h-1zM438.4,134.7h1v1h-1zM438.4,139.1h1v1h-1zM440.9,140.1h1v1h-1zM441.2,140.3h1v1h-1zM441.1,132.9h1v1h-1zM444.3,136.0h1v1h-1zM442.9,135.9h1v1h-1zM439.2,136.6h1v1h-1zM437.3,133.7h1v1h-1zM437.8,135.2h1v1h-1zM436.7,136.4h1v1h-1zM440.7,140.7h1v1h-1zM444.5,135.0h1v1h-1zM442.2,135.0h1v1h-1zM441.0,135.7h1v1h-1zM438.7,136.4h1v1h-1zM436.4,137.8h1v1h-1zM439.3,133.5h1v1h-1zM439.1,137.5h1v1h-1zM438.3,137.5h1v1h-1zM441.4,139.5h1v1h-1zM437.3,136.3h1v1h-1zM441.3,139.4h1v1h-1zM440.6,137.7h1v1h-1zM436.4,135.3h1v1h-1zM444.1,134.5h1v1h-1zM445.3,133.2h1v1h-1zM439.3,132.3h1v1h-1zM441.6,136.3h1v1h-1zM445.0,135.4h1v1h-1zM439.4,132.7h1v1h-1zM439.8,138.3h1v1h-1zM441.8,138.6h1v1h-1zM442.1,135.5h1v1h-1zM441.5,136.1h1v1h-1zM436.7,140.8h1v1h-1zM440.9,133.3h1v1h-1zM441.0,136.5h1v1h-1zM442.5,139.0h1v1h-1zM432.5,138.8h1v1h-1zM446.6,154.0h1v1h-1zM434.6,154.8h1v1h-1zM425.0,134.2h1v1h-1zM437.0,145.7h1v1h-1zM427.3,138.3h1v1h-1zM422.1,157.4h1v1h-1zM441.0,158.4h1v1h-1zM448.5,143.7h1v1h-1zM441.6,142.1h1v1h-1zM443.8,155.4h1v1h-1zM425.2,131.4h1v1h-1zM427.4,148.0h1v1h-1zM431.9,131.3h1v1h-1zM444.3,153.8h1v1h-1zM434.3,132.3h1v1h-1zM445.9,146.5h1v1h-1zM423.5,140.4h1v1h-1zM438.7,156.7h1v1h-1zM434.8,149.5h1v1h-1zM427.2,138.1h1v1h-1z" fill="#000"/>
<path d="M445.0,110.0h1v1h-1zM460.0,120.0h1v1h-1zM461.0,121.5h1v1h-1zM453.0,128.0h1v1h-1z" fill="#aaa"/>
<rect x="421" y="75.6" width="90.5" height="85.4" fill="none" stroke="#222" stroke-width="1"/>
<line x1="449.5" y1="75.6" x2="449.5" y2="161" stroke="#222" stroke-width="1"/>
<line x1="421" y1="132.6" x2="511.5" y2="132.6" stroke="#222" stroke-width="1"/>
<path d="M421.00,161v2.2M421,161.00h-2.2M427.81,161v1.2M421,154.57h-1.2M431.79,161v1.2M421,150.81h-1.2M434.62,161v1.2M421,148.15h-1.2M436.81,161v1.2M421,146.08h-1.2M438.61,161v1.2M421,144.39h-1.2M440.12,161v1.2M421,142.96h-1.2M441.43,161v1.2M421,141.72h-1.2M442.59,161v1.2M421,140.63h-1.2M443.62,161v2.2M421,139.65h-2.2M450.44,161v1.2M421,133.22h-1.2M454.42,161v1.2M421,129.46h-1.2M457.25,161v1.2M421,126.80h-1.2M459.44,161v1.2M421,124.73h-1.2M461.23,161v1.2M421,123.04h-1.2M462.75,161v1.2M421,121.61h-1.2M464.06,161v1.2M421,120.37h-1.2M465.21,161v1.2M421,119.28h-1.2M466.25,161v2.2M421,118.30h-2.2M473.06,161v1.2M421,111.87h-1.2M477.04,161v1.2M421,108.11h-1.2M479.87,161v1.2M421,105.45h-1.2M482.06,161v1.2M421,103.38h-1.2M483.86,161v1.2M421,101.69h-1.2M485.37,161v1.2M421,100.26h-1.2M486.68,161v1.2M421,99.02h-1.2M487.84,161v1.2M421,97.93h-1.2M488.88,161v2.2M421,96.95h-2.2M495.69,161v1.2M421,90.52h-1.2M499.67,161v1.2M421,86.76h-1.2M502.50,161v1.2M421,84.10h-1.2M504.69,161v1.2M421,82.03h-1.2M506.48,161v1.2M421,80.34h-1.2M508.00,161v1.2M421,78.91h-1.2M509.31,161v1.2M421,77.67h-1.2M510.46,161v1.2M421,76.58h-1.2M511.5,161v2.2M421,75.6h-2.2" stroke="#222" stroke-width="0.7" fill="none"/>
<text x="417.2" y="171.8" font-size="8.2" style="font-family:&quot;Liberation Sans&quot;,sans-serif" fill="#000" stroke="#000" stroke-width="0.15" text-anchor="start">10<tspan font-size="5.08" dy="-3.12">0</tspan></text>
<text x="438.625" y="171.8" font-size="8.2" style="font-family:&quot;Liberation Sans&quot;,sans-serif" fill="#000" stroke="#000" stroke-width="0.15" text-anchor="start">10<tspan font-size="5.08" dy="-3.12">1</tspan></text>
<text x="461.05" y="171.8" font-size="8.2" style="font-family:&quot;Liberation Sans&quot;,sans-serif" fill="#000" stroke="#000" stroke-width="0.15" text-anchor="start">10<tspan font-size="5.08" dy="-3.12">2</tspan></text>
<text x="483.475" y="171.8" font-size="8.2" style="font-family:&quot;Liberation Sans&quot;,sans-serif" fill="#000" stroke="#000" stroke-width="0.15" text-anchor="start">10<tspan font-size="5.08" dy="-3.12">3</tspan></text>
<text x="505.9" y="171.8" font-size="8.2" style="font-family:&quot;Liberation Sans&quot;,sans-serif" fill="#000" stroke="#000" stroke-width="0.15" text-anchor="start">10<tspan font-size="5.08" dy="-3.12">4</tspan></text>
<text x="417.0" y="166.3" font-size="8.2" style="font-family:&quot;Liberation Sans&quot;,sans-serif" fill="#000" stroke="#000" stroke-width="0.15" text-anchor="start" transform="rotate(-90 417.0 166.3)">10<tspan font-size="5.08" dy="-3.12">0</tspan></text>
<text x="417.0" y="144.95000000000002" font-size="8.2" style="font-family:&quot;Liberation Sans&quot;,sans-serif" fill="#000" stroke="#000" stroke-width="0.15" text-anchor="start" transform="rotate(-90 417.0 144.95000000000002)">10<tspan font-size="5.08" dy="-3.12">1</tspan></text>
<text x="417.0" y="123.60000000000001" font-size="8.2" style="font-family:&quot;Liberation Sans&quot;,sans-serif" fill="#000" stroke="#000" stroke-width="0.15" text-anchor="start" transform="rotate(-90 417.0 123.60000000000001)">10<tspan font-size="5.08" dy="-3.12">2</tspan></text>
<text x="417.0" y="102.25" font-size="8.2" style="font-family:&quot;Liberation Sans&quot;,sans-serif" fill="#000" stroke="#000" stroke-width="0.15" text-anchor="start" transform="rotate(-90 417.0 102.25)">10<tspan font-size="5.08" dy="-3.12">3</tspan></text>
<text x="417.0" y="80.9" font-size="8.2" style="font-family:&quot;Liberation Sans&quot;,sans-serif" fill="#000" stroke="#000" stroke-width="0.15" text-anchor="start" transform="rotate(-90 417.0 80.9)">10<tspan font-size="5.08" dy="-3.12">4</tspan></text>
<text x="434.6" y="72.6" font-size="8.9" font-weight="400" text-anchor="start" fill="#000" style="font-family:&quot;Liberation Sans&quot;,sans-serif" textLength="60.5" lengthAdjust="spacingAndGlyphs" stroke="#000" stroke-width="0.2">FC110A02.015</text>
<text x="430.1" y="180.4" font-size="8.9" font-weight="400" text-anchor="start" fill="#000" style="font-family:&quot;Liberation Sans&quot;,sans-serif" textLength="72.6" lengthAdjust="spacingAndGlyphs" stroke="#000" stroke-width="0.2">Mouse IgG1 FITC</text>
<text x="403.5" y="120.6" font-size="8.9" font-weight="400" text-anchor="middle" fill="#000" style="font-family:&quot;Liberation Sans&quot;,sans-serif" textLength="62.7" lengthAdjust="spacingAndGlyphs" transform="rotate(-90 403.5 120.6)" stroke="#000" stroke-width="0.2">Mouse IgG1 PE</text>
<path d="M360.9,280.6h1v1h-1zM361.9,263.1h1v1h-1zM358.0,282.3h1v1h-1zM370.1,277.3h1v1h-1zM358.6,274.6h1v1h-1zM368.7,276.6h1v1h-1zM369.2,277.8h1v1h-1zM364.5,259.7h1v1h-1zM368.2,276.9h1v1h-1zM365.4,282.6h1v1h-1zM368.2,280.8h1v1h-1zM361.7,262.9h1v1h-1zM367.2,268.4h1v1h-1zM368.1,262.8h1v1h-1zM363.0,275.2h1v1h-1zM367.2,279.6h1v1h-1zM361.5,278.4h1v1h-1zM367.7,270.0h1v1h-1zM362.9,269.8h1v1h-1zM367.6,271.3h1v1h-1zM360.0,274.5h1v1h-1zM369.0,271.4h1v1h-1zM360.3,269.7h1v1h-1zM362.7,260.7h1v1h-1zM359.2,278.9h1v1h-1zM366.2,280.9h1v1h-1zM364.4,254.3h1v1h-1zM361.4,269.0h1v1h-1zM364.0,280.2h1v1h-1zM365.4,271.9h1v1h-1zM365.5,276.5h1v1h-1zM360.2,272.6h1v1h-1zM360.8,264.2h1v1h-1zM361.7,265.1h1v1h-1zM362.2,262.4h1v1h-1zM367.7,267.5h1v1h-1zM360.0,277.5h1v1h-1zM364.3,269.6h1v1h-1zM366.0,273.0h1v1h-1zM366.1,271.4h1v1h-1zM369.5,280.1h1v1h-1zM358.1,276.0h1v1h-1zM359.9,278.7h1v1h-1zM368.9,277.9h1v1h-1zM362.5,281.0h1v1h-1zM360.8,270.0h1v1h-1zM366.8,259.6h1v1h-1zM366.3,271.9h1v1h-1zM364.6,278.5h1v1h-1zM364.8,257.7h1v1h-1zM369.9,272.5h1v1h-1zM365.6,268.7h1v1h-1zM365.2,270.8h1v1h-1zM358.2,276.1h1v1h-1zM360.5,270.5h1v1h-1zM364.7,262.9h1v1h-1zM363.1,269.0h1v1h-1zM369.2,282.6h1v1h-1zM368.2,268.9h1v1h-1zM367.4,272.0h1v1h-1zM370.9,282.1h1v1h-1zM365.2,265.9h1v1h-1zM360.4,276.3h1v1h-1zM360.2,274.1h1v1h-1zM364.1,265.5h1v1h-1zM367.2,274.6h1v1h-1zM371.4,283.0h1v1h-1zM366.7,267.6h1v1h-1zM363.8,268.7h1v1h-1zM362.0,267.8h1v1h-1zM364.7,264.3h1v1h-1zM365.1,282.1h1v1h-1zM361.1,263.2h1v1h-1zM361.6,275.1h1v1h-1zM364.2,276.8h1v1h-1zM362.8,264.3h1v1h-1zM365.3,281.9h1v1h-1zM366.3,270.6h1v1h-1zM357.5,281.7h1v1h-1zM364.7,270.3h1v1h-1zM362.4,272.1h1v1h-1zM361.1,280.5h1v1h-1zM362.3,260.9h1v1h-1zM360.9,267.4h1v1h-1zM360.1,276.8h1v1h-1zM368.4,274.2h1v1h-1zM368.8,266.9h1v1h-1zM359.4,279.2h1v1h-1zM365.3,278.8h1v1h-1zM363.8,255.8h1v1h-1zM360.8,280.6h1v1h-1zM367.5,268.0h1v1h-1zM365.8,278.8h1v1h-1zM357.7,279.1h1v1h-1zM365.4,266.5h1v1h-1zM363.8,256.8h1v1h-1zM367.4,268.9h1v1h-1zM361.5,277.9h1v1h-1zM370.6,280.6h1v1h-1zM362.6,266.2h1v1h-1zM360.7,275.2h1v1h-1zM364.3,282.0h1v1h-1zM364.5,276.5h1v1h-1zM365.9,255.4h1v1h-1zM367.9,265.4h1v1h-1zM364.5,269.0h1v1h-1zM363.5,262.5h1v1h-1zM369.0,273.6h1v1h-1zM366.2,282.0h1v1h-1zM371.0,278.9h1v1h-1zM358.8,276.7h1v1h-1zM368.1,266.9h1v1h-1zM366.1,278.7h1v1h-1zM360.8,278.9h1v1h-1zM358.6,276.7h1v1h-1zM370.0,269.6h1v1h-1zM365.8,271.2h1v1h-1zM368.2,268.3h1v1h-1zM368.5,269.2h1v1h-1zM362.2,281.9h1v1h-1zM365.4,259.8h1v1h-1zM365.2,278.6h1v1h-1zM362.3,265.8h1v1h-1zM365.4,282.6h1v1h-1zM366.3,258.0h1v1h-1zM365.4,262.3h1v1h-1zM363.9,274.2h1v1h-1zM361.6,270.8h1v1h-1zM368.9,266.8h1v1h-1zM366.1,261.3h1v1h-1zM360.7,268.1h1v1h-1zM364.7,259.3h1v1h-1zM368.1,267.7h1v1h-1zM362.2,260.2h1v1h-1zM369.1,280.0h1v1h-1zM366.8,262.8h1v1h-1zM363.4,273.3h1v1h-1zM368.4,273.3h1v1h-1zM365.5,255.6h1v1h-1zM365.3,280.7h1v1h-1zM365.0,280.5h1v1h-1zM363.8,268.3h1v1h-1zM361.1,266.7h1v1h-1zM359.9,271.5h1v1h-1zM364.4,267.0h1v1h-1zM370.4,275.8h1v1h-1zM367.2,270.7h1v1h-1zM366.5,267.8h1v1h-1zM369.1,270.9h1v1h-1zM370.1,269.1h1v1h-1zM359.4,274.1h1v1h-1zM370.4,278.9h1v1h-1zM366.4,277.1h1v1h-1zM368.7,262.9h1v1h-1zM359.1,278.9h1v1h-1zM365.4,258.0h1v1h-1zM366.5,272.2h1v1h-1zM370.1,275.9h1v1h-1zM358.1,279.0h1v1h-1zM364.9,281.1h1v1h-1zM364.1,255.0h1v1h-1zM361.7,272.7h1v1h-1zM367.3,266.5h1v1h-1zM361.0,265.3h1v1h-1zM367.4,259.5h1v1h-1zM360.9,282.1h1v1h-1zM360.9,276.0h1v1h-1zM364.1,279.0h1v1h-1zM367.2,271.4h1v1h-1zM364.0,272.8h1v1h-1zM364.6,258.1h1v1h-1zM361.5,278.5h1v1h-1zM365.2,268.1h1v1h-1zM367.3,267.5h1v1h-1zM362.6,269.3h1v1h-1zM357.6,282.9h1v1h-1zM370.2,272.4h1v1h-1zM359.3,278.6h1v1h-1zM361.1,277.0h1v1h-1zM366.4,271.0h1v1h-1zM367.8,260.7h1v1h-1zM369.1,269.0h1v1h-1zM368.0,278.1h1v1h-1zM360.7,265.0h1v1h-1zM369.7,273.4h1v1h-1zM364.1,269.1h1v1h-1zM362.2,273.4h1v1h-1zM364.8,267.7h1v1h-1zM366.7,262.9h1v1h-1zM370.6,280.0h1v1h-1zM364.5,255.7h1v1h-1zM364.3,281.7h1v1h-1zM368.1,263.6h1v1h-1zM361.0,280.9h1v1h-1zM357.8,278.3h1v1h-1zM362.6,265.5h1v1h-1zM365.8,268.6h1v1h-1zM369.6,279.8h1v1h-1zM368.3,272.3h1v1h-1zM358.1,279.9h1v1h-1zM362.3,266.9h1v1h-1zM365.1,275.0h1v1h-1zM359.3,275.7h1v1h-1zM371.0,277.7h1v1h-1zM368.5,281.4h1v1h-1zM367.4,269.2h1v1h-1zM369.0,277.1h1v1h-1zM366.1,272.9h1v1h-1zM361.7,278.7h1v1h-1zM358.1,281.5h1v1h-1zM362.2,264.3h1v1h-1zM369.4,268.8h1v1h-1zM366.1,265.9h1v1h-1zM363.7,281.7h1v1h-1zM361.0,268.5h1v1h-1zM363.9,256.8h1v1h-1zM368.6,265.7h1v1h-1zM357.9,281.0h1v1h-1zM359.0,279.5h1v1h-1zM363.1,275.5h1v1h-1zM363.3,265.3h1v1h-1zM362.8,268.4h1v1h-1zM361.1,281.6h1v1h-1zM365.0,263.2h1v1h-1zM366.8,263.6h1v1h-1zM363.3,262.2h1v1h-1zM364.7,261.1h1v1h-1zM366.7,265.1h1v1h-1zM367.3,261.4h1v1h-1zM363.6,269.5h1v1h-1zM367.4,272.4h1v1h-1zM366.6,262.9h1v1h-1zM359.1,273.3h1v1h-1zM365.4,260.2h1v1h-1zM368.7,273.1h1v1h-1zM363.2,271.0h1v1h-1zM366.5,265.9h1v1h-1zM368.2,278.9h1v1h-1zM362.4,263.8h1v1h-1zM364.4,260.2h1v1h-1zM367.0,268.0h1v1h-1zM370.9,281.9h1v1h-1zM369.7,281.3h1v1h-1zM358.9,282.3h1v1h-1zM369.7,271.3h1v1h-1zM366.0,265.8h1v1h-1zM364.9,260.9h1v1h-1zM358.8,279.0h1v1h-1zM365.3,279.2h1v1h-1zM361.3,270.1h1v1h-1zM361.0,277.8h1v1h-1zM360.0,272.3h1v1h-1zM365.0,262.4h1v1h-1zM364.6,277.5h1v1h-1zM361.4,277.0h1v1h-1zM360.4,271.8h1v1h-1zM367.3,267.7h1v1h-1zM365.1,265.3h1v1h-1zM369.8,270.2h1v1h-1zM362.0,261.2h1v1h-1zM359.7,281.0h1v1h-1zM365.7,269.4h1v1h-1zM365.2,253.0h1v1h-1zM366.5,271.2h1v1h-1zM369.1,267.0h1v1h-1zM360.2,273.9h1v1h-1zM359.5,273.5h1v1h-1zM366.0,274.2h1v1h-1zM366.9,264.6h1v1h-1zM370.0,277.7h1v1h-1zM368.1,270.8h1v1h-1zM360.8,280.2h1v1h-1zM371.0,281.5h1v1h-1zM361.9,277.6h1v1h-1zM366.8,278.1h1v1h-1zM368.6,266.4h1v1h-1zM362.7,276.8h1v1h-1zM366.5,269.0h1v1h-1zM358.4,278.2h1v1h-1zM358.3,279.4h1v1h-1zM367.9,273.2h1v1h-1zM363.0,270.7h1v1h-1zM365.0,281.4h1v1h-1zM364.4,269.0h1v1h-1zM363.7,265.1h1v1h-1zM367.0,280.8h1v1h-1zM368.0,269.1h1v1h-1zM369.8,278.9h1v1h-1zM359.7,275.4h1v1h-1zM368.7,267.1h1v1h-1zM361.9,268.2h1v1h-1zM367.5,266.2h1v1h-1zM361.4,278.9h1v1h-1zM362.7,265.3h1v1h-1zM360.2,267.2h1v1h-1zM367.2,263.5h1v1h-1zM366.6,267.5h1v1h-1zM357.2,281.9h1v1h-1zM361.2,269.1h1v1h-1zM359.2,278.5h1v1h-1zM360.9,268.1h1v1h-1zM360.4,270.7h1v1h-1zM365.0,261.9h1v1h-1zM367.8,271.3h1v1h-1zM370.2,271.0h1v1h-1zM367.2,277.2h1v1h-1zM361.1,266.8h1v1h-1zM369.7,269.6h1v1h-1zM367.8,275.8h1v1h-1zM361.0,271.4h1v1h-1zM362.4,267.0h1v1h-1zM364.7,272.8h1v1h-1zM359.4,278.1h1v1h-1zM369.3,282.5h1v1h-1zM362.3,281.5h1v1h-1zM357.5,281.6h1v1h-1zM362.0,275.0h1v1h-1zM364.1,281.9h1v1h-1zM370.3,279.8h1v1h-1zM365.2,268.6h1v1h-1zM365.9,262.4h1v1h-1zM368.1,270.0h1v1h-1zM369.3,268.0h1v1h-1zM366.2,259.8h1v1h-1zM367.1,264.9h1v1h-1zM367.5,270.3h1v1h-1zM366.2,269.1h1v1h-1zM367.4,262.5h1v1h-1zM363.9,267.0h1v1h-1zM364.4,260.4h1v1h-1zM365.5,260.4h1v1h-1zM369.8,274.9h1v1h-1zM360.9,269.4h1v1h-1zM366.1,255.9h1v1h-1zM364.5,267.6h1v1h-1zM366.7,261.3h1v1h-1zM370.2,271.5h1v1h-1zM358.1,277.5h1v1h-1zM367.3,278.7h1v1h-1zM368.6,273.4h1v1h-1zM363.8,280.0h1v1h-1zM368.6,282.8h1v1h-1zM367.7,272.9h1v1h-1zM362.8,267.7h1v1h-1zM364.4,259.1h1v1h-1zM360.8,278.3h1v1h-1zM369.3,273.8h1v1h-1zM367.0,268.1h1v1h-1zM365.3,272.8h1v1h-1zM360.7,277.6h1v1h-1zM368.6,279.0h1v1h-1zM360.7,280.9h1v1h-1zM362.4,266.2h1v1h-1zM358.5,277.6h1v1h-1zM360.6,281.7h1v1h-1zM366.8,258.3h1v1h-1zM367.3,262.2h1v1h-1zM364.6,254.8h1v1h-1zM369.1,276.5h1v1h-1zM365.4,273.6h1v1h-1zM361.7,275.1h1v1h-1zM365.2,256.6h1v1h-1zM360.5,267.0h1v1h-1zM363.5,256.6h1v1h-1zM367.9,276.7h1v1h-1zM361.6,269.0h1v1h-1zM362.6,282.3h1v1h-1zM360.8,281.6h1v1h-1zM361.5,265.4h1v1h-1zM361.6,272.4h1v1h-1zM369.8,273.5h1v1h-1zM359.6,282.7h1v1h-1zM367.5,267.9h1v1h-1zM365.7,276.5h1v1h-1zM368.3,273.0h1v1h-1zM360.9,271.0h1v1h-1zM362.8,266.4h1v1h-1zM364.8,270.4h1v1h-1zM358.6,278.4h1v1h-1zM362.2,280.1h1v1h-1zM369.5,282.3h1v1h-1zM360.7,266.9h1v1h-1zM366.9,257.2h1v1h-1zM358.5,276.9h1v1h-1zM368.7,278.2h1v1h-1zM366.4,261.6h1v1h-1zM357.7,281.6h1v1h-1zM360.2,280.4h1v1h-1zM359.1,272.8h1v1h-1zM366.8,259.6h1v1h-1zM363.9,259.0h1v1h-1zM369.6,271.7h1v1h-1zM367.0,271.5h1v1h-1zM357.9,279.5h1v1h-1zM368.3,268.2h1v1h-1zM365.6,267.5h1v1h-1zM368.0,268.8h1v1h-1zM361.0,268.2h1v1h-1zM364.6,279.0h1v1h-1zM367.4,258.9h1v1h-1zM364.4,270.3h1v1h-1zM365.4,266.5h1v1h-1zM364.4,273.5h1v1h-1zM369.8,268.2h1v1h-1zM368.4,273.2h1v1h-1zM361.5,263.3h1v1h-1zM364.1,261.5h1v1h-1zM362.4,273.8h1v1h-1zM366.1,281.7h1v1h-1zM362.4,279.3h1v1h-1zM359.1,277.1h1v1h-1zM363.0,263.2h1v1h-1zM363.7,274.7h1v1h-1zM370.0,280.5h1v1h-1zM358.9,272.4h1v1h-1zM363.0,260.0h1v1h-1zM366.9,262.5h1v1h-1zM367.9,279.3h1v1h-1zM365.0,254.1h1v1h-1zM361.1,265.4h1v1h-1zM365.6,254.9h1v1h-1zM368.8,275.4h1v1h-1zM359.5,280.6h1v1h-1zM368.4,269.1h1v1h-1zM368.6,262.8h1v1h-1zM367.5,268.0h1v1h-1zM369.3,273.9h1v1h-1zM359.2,274.6h1v1h-1zM360.7,275.8h1v1h-1zM367.4,273.4h1v1h-1zM366.3,273.7h1v1h-1zM364.5,272.4h1v1h-1zM370.4,272.3h1v1h-1zM364.5,275.9h1v1h-1zM364.9,265.1h1v1h-1zM361.9,264.5h1v1h-1zM367.8,279.5h1v1h-1zM363.6,278.3h1v1h-1zM367.8,276.3h1v1h-1zM366.5,263.1h1v1h-1zM362.9,279.6h1v1h-1zM366.6,275.5h1v1h-1zM365.3,275.5h1v1h-1zM358.9,282.9h1v1h-1zM365.4,270.7h1v1h-1zM367.2,274.7h1v1h-1zM366.7,260.3h1v1h-1zM364.1,275.9h1v1h-1zM366.3,280.2h1v1h-1zM358.3,276.1h1v1h-1zM364.7,254.8h1v1h-1zM363.1,272.9h1v1h-1zM364.4,276.8h1v1h-1zM358.7,279.7h1v1h-1zM367.3,281.1h1v1h-1zM365.1,281.6h1v1h-1zM363.2,272.6h1v1h-1zM361.3,268.5h1v1h-1zM358.6,273.1h1v1h-1zM363.9,263.9h1v1h-1zM365.0,281.8h1v1h-1zM364.8,263.4h1v1h-1zM365.8,260.3h1v1h-1zM363.3,268.6h1v1h-1zM362.5,269.7h1v1h-1zM364.3,275.5h1v1h-1zM368.8,275.0h1v1h-1zM362.5,274.2h1v1h-1zM359.9,271.3h1v1h-1zM370.8,281.4h1v1h-1zM365.9,278.1h1v1h-1zM368.3,272.3h1v1h-1zM365.8,273.5h1v1h-1zM359.6,269.8h1v1h-1zM368.9,281.8h1v1h-1zM366.8,265.9h1v1h-1zM363.1,266.8h1v1h-1zM369.7,269.7h1v1h-1zM370.0,279.8h1v1h-1zM367.3,266.2h1v1h-1zM360.5,269.7h1v1h-1zM361.5,277.8h1v1h-1zM361.9,265.3h1v1h-1zM364.9,282.5h1v1h-1zM370.9,281.7h1v1h-1zM364.6,269.7h1v1h-1zM359.9,276.6h1v1h-1zM364.0,275.7h1v1h-1zM370.4,271.5h1v1h-1zM367.1,269.2h1v1h-1zM366.2,280.7h1v1h-1zM365.4,267.4h1v1h-1zM362.1,268.5h1v1h-1zM361.9,282.8h1v1h-1zM361.9,278.3h1v1h-1z" fill="#000"/>
<path d="M367.0,282.4h1v1h-1zM368.6,269.8h1v1h-1zM361.9,266.3h1v1h-1zM359.3,277.5h1v1h-1zM366.2,272.5h1v1h-1zM365.7,274.8h1v1h-1zM360.6,266.9h1v1h-1zM367.8,267.5h1v1h-1zM367.6,280.0h1v1h-1zM363.3,262.4h1v1h-1zM361.4,265.2h1v1h-1zM369.8,276.2h1v1h-1zM363.8,278.6h1v1h-1zM363.2,269.2h1v1h-1zM366.0,268.4h1v1h-1zM357.2,270.9h1v1h-1zM374.6,282.8h1v1h-1zM372.1,277.0h1v1h-1zM363.1,278.7h1v1h-1zM360.8,280.8h1v1h-1zM363.0,277.1h1v1h-1zM361.2,274.0h1v1h-1zM369.3,273.4h1v1h-1zM362.0,277.3h1v1h-1zM368.9,273.6h1v1h-1zM359.8,263.0h1v1h-1zM359.1,283.3h1v1h-1zM364.6,278.8h1v1h-1zM369.7,277.3h1v1h-1zM367.1,271.2h1v1h-1zM357.9,280.0h1v1h-1zM364.6,279.5h1v1h-1zM360.3,274.0h1v1h-1zM373.9,268.6h1v1h-1zM364.0,276.1h1v1h-1zM355.6,281.1h1v1h-1zM364.6,272.2h1v1h-1zM366.9,273.2h1v1h-1zM369.3,275.9h1v1h-1zM368.6,281.5h1v1h-1zM367.6,275.5h1v1h-1zM365.3,278.2h1v1h-1zM367.5,277.8h1v1h-1zM362.6,274.5h1v1h-1zM367.0,267.5h1v1h-1zM365.0,280.9h1v1h-1zM365.7,272.9h1v1h-1zM364.9,271.4h1v1h-1zM369.3,272.2h1v1h-1zM357.7,265.8h1v1h-1zM366.3,276.7h1v1h-1zM362.9,265.0h1v1h-1zM364.3,268.7h1v1h-1zM362.1,275.1h1v1h-1zM361.6,277.5h1v1h-1zM361.7,271.5h1v1h-1zM371.9,282.4h1v1h-1zM361.8,275.2h1v1h-1zM369.0,281.3h1v1h-1zM357.8,274.7h1v1h-1zM361.7,280.9h1v1h-1zM367.8,271.0h1v1h-1zM374.4,273.0h1v1h-1zM375.8,273.8h1v1h-1zM362.7,271.5h1v1h-1zM371.5,274.8h1v1h-1zM367.1,265.5h1v1h-1zM372.9,282.6h1v1h-1zM366.6,280.5h1v1h-1zM362.8,271.5h1v1h-1zM358.1,277.9h1v1h-1zM370.4,281.7h1v1h-1zM369.1,280.5h1v1h-1zM360.9,265.2h1v1h-1zM367.8,276.4h1v1h-1zM369.3,273.0h1v1h-1zM361.1,278.5h1v1h-1zM362.5,262.6h1v1h-1zM362.3,268.4h1v1h-1zM360.1,270.9h1v1h-1zM372.6,272.0h1v1h-1zM370.0,274.6h1v1h-1zM366.8,270.0h1v1h-1zM364.7,262.3h1v1h-1zM372.9,269.3h1v1h-1zM367.6,270.7h1v1h-1zM366.2,266.2h1v1h-1zM363.3,282.1h1v1h-1zM367.6,260.3h1v1h-1zM368.8,265.1h1v1h-1zM366.3,279.1h1v1h-1zM362.2,272.7h1v1h-1zM363.9,278.2h1v1h-1zM363.8,281.0h1v1h-1zM364.4,275.8h1v1h-1zM361.0,278.1h1v1h-1zM373.9,276.3h1v1h-1zM364.9,275.2h1v1h-1zM368.1,273.6h1v1h-1zM365.0,276.8h1v1h-1zM370.7,282.4h1v1h-1zM360.4,270.3h1v1h-1zM365.1,281.6h1v1h-1zM369.3,273.6h1v1h-1zM374.4,273.9h1v1h-1zM372.0,276.7h1v1h-1zM367.5,263.5h1v1h-1zM357.2,270.5h1v1h-1zM368.2,283.2h1v1h-1zM364.5,283.0h1v1h-1zM358.0,268.8h1v1h-1zM360.8,267.2h1v1h-1zM372.3,268.1h1v1h-1zM361.3,272.1h1v1h-1zM368.9,271.6h1v1h-1zM368.2,279.3h1v1h-1zM362.2,257.2h1v1h-1zM361.0,265.7h1v1h-1zM372.2,269.7h1v1h-1zM360.3,278.0h1v1h-1zM365.2,268.0h1v1h-1zM369.8,282.1h1v1h-1zM366.2,269.4h1v1h-1zM361.2,259.5h1v1h-1zM366.7,278.1h1v1h-1zM360.9,275.3h1v1h-1zM379.5,266.5h1v1h-1zM357.5,279.8h1v1h-1zM363.1,271.4h1v1h-1zM367.7,274.1h1v1h-1zM369.4,279.0h1v1h-1zM370.1,276.0h1v1h-1zM357.5,283.0h1v1h-1zM366.1,264.6h1v1h-1zM365.3,281.8h1v1h-1zM360.5,275.4h1v1h-1zM361.7,267.5h1v1h-1zM368.0,274.9h1v1h-1zM364.6,276.1h1v1h-1zM366.3,276.5h1v1h-1zM357.4,282.1h1v1h-1zM361.2,255.3h1v1h-1zM368.1,265.9h1v1h-1zM364.4,274.4h1v1h-1zM362.4,279.2h1v1h-1zM363.8,273.0h1v1h-1zM360.8,273.0h1v1h-1zM360.4,275.4h1v1h-1zM370.8,282.8h1v1h-1zM366.9,264.7h1v1h-1zM369.5,282.2h1v1h-1zM374.1,258.0h1v1h-1zM365.1,272.6h1v1h-1zM369.8,266.8h1v1h-1zM369.4,259.9h1v1h-1zM362.3,279.6h1v1h-1zM365.4,264.0h1v1h-1zM370.2,270.5h1v1h-1zM370.0,269.7h1v1h-1zM366.1,274.9h1v1h-1zM359.5,277.5h1v1h-1zM363.3,254.2h1v1h-1zM361.3,268.6h1v1h-1zM361.3,267.6h1v1h-1zM362.0,256.4h1v1h-1zM368.9,275.6h1v1h-1zM366.1,273.0h1v1h-1zM365.3,273.1h1v1h-1zM360.2,263.5h1v1h-1zM365.3,282.8h1v1h-1zM359.0,273.0h1v1h-1zM372.5,271.1h1v1h-1zM368.2,273.2h1v1h-1zM360.6,274.2h1v1h-1zM366.6,256.5h1v1h-1zM368.6,275.7h1v1h-1zM354.4,275.8h1v1h-1zM360.5,281.1h1v1h-1zM366.5,273.7h1v1h-1zM363.7,279.1h1v1h-1zM367.6,280.1h1v1h-1zM363.2,265.0h1v1h-1zM362.5,274.8h1v1h-1zM368.6,261.6h1v1h-1zM366.2,269.6h1v1h-1zM374.0,275.1h1v1h-1zM365.9,271.8h1v1h-1zM365.8,261.3h1v1h-1zM359.3,263.7h1v1h-1zM369.0,274.3h1v1h-1zM370.1,259.4h1v1h-1zM361.5,260.8h1v1h-1zM361.7,272.4h1v1h-1zM367.6,271.2h1v1h-1zM362.8,263.7h1v1h-1zM365.4,268.2h1v1h-1zM368.0,278.8h1v1h-1zM365.7,266.1h1v1h-1zM366.1,270.7h1v1h-1zM368.3,279.6h1v1h-1zM366.9,271.7h1v1h-1zM371.7,281.0h1v1h-1zM370.6,281.4h1v1h-1zM367.9,278.0h1v1h-1zM360.3,261.1h1v1h-1zM360.9,279.7h1v1h-1zM369.0,276.4h1v1h-1zM363.2,261.3h1v1h-1zM358.2,272.5h1v1h-1zM368.1,280.7h1v1h-1zM364.0,281.3h1v1h-1zM364.8,269.5h1v1h-1zM363.3,280.8h1v1h-1zM369.2,266.4h1v1h-1zM360.6,275.9h1v1h-1zM374.4,266.0h1v1h-1zM359.5,278.2h1v1h-1zM367.2,270.3h1v1h-1zM364.9,278.7h1v1h-1zM357.3,274.8h1v1h-1zM367.7,282.1h1v1h-1zM370.1,274.5h1v1h-1zM368.4,270.1h1v1h-1zM369.6,283.0h1v1h-1zM364.4,256.9h1v1h-1zM362.9,269.2h1v1h-1zM361.3,274.4h1v1h-1zM360.2,278.0h1v1h-1zM373.3,265.9h1v1h-1zM369.6,270.9h1v1h-1zM367.4,274.0h1v1h-1zM370.7,269.6h1v1h-1zM368.2,269.1h1v1h-1zM366.0,274.9h1v1h-1zM369.8,262.9h1v1h-1zM360.5,276.6h1v1h-1zM364.8,271.6h1v1h-1zM368.2,274.2h1v1h-1zM361.7,280.8h1v1h-1zM356.6,267.2h1v1h-1zM371.0,271.2h1v1h-1zM363.6,277.9h1v1h-1zM369.9,279.1h1v1h-1zM360.8,270.6h1v1h-1zM369.6,274.1h1v1h-1zM362.2,281.7h1v1h-1zM360.3,269.6h1v1h-1zM362.0,277.7h1v1h-1zM353.2,282.4h1v1h-1zM362.2,272.9h1v1h-1zM367.5,276.6h1v1h-1zM367.5,271.2h1v1h-1zM365.9,266.5h1v1h-1zM359.6,272.7h1v1h-1zM366.6,275.8h1v1h-1zM361.6,264.4h1v1h-1zM366.6,268.9h1v1h-1zM370.2,279.1h1v1h-1zM363.2,270.3h1v1h-1zM370.0,277.5h1v1h-1zM372.2,277.8h1v1h-1zM362.4,270.4h1v1h-1zM361.9,276.9h1v1h-1zM366.1,279.7h1v1h-1zM367.0,266.9h1v1h-1zM364.1,267.8h1v1h-1zM367.1,264.9h1v1h-1zM362.5,268.4h1v1h-1zM362.3,273.0h1v1h-1zM371.6,273.0h1v1h-1zM358.7,272.7h1v1h-1zM368.3,279.2h1v1h-1zM369.9,275.7h1v1h-1zM370.3,264.7h1v1h-1zM364.3,268.4h1v1h-1zM357.6,268.5h1v1h-1zM369.4,274.3h1v1h-1zM365.6,274.9h1v1h-1zM365.8,273.6h1v1h-1zM360.7,272.8h1v1h-1zM365.5,268.1h1v1h-1zM357.8,270.8h1v1h-1zM363.8,275.1h1v1h-1zM365.4,269.4h1v1h-1zM364.9,275.0h1v1h-1zM365.6,263.7h1v1h-1zM358.1,279.5h1v1h-1zM363.5,270.3h1v1h-1zM359.1,272.6h1v1h-1zM364.6,269.7h1v1h-1zM363.5,281.8h1v1h-1zM368.4,279.2h1v1h-1zM364.2,264.6h1v1h-1zM366.2,277.9h1v1h-1zM368.4,272.5h1v1h-1zM365.0,262.7h1v1h-1zM361.8,272.7h1v1h-1zM375.7,268.8h1v1h-1zM369.0,275.6h1v1h-1zM363.7,279.8h1v1h-1zM356.3,282.3h1v1h-1zM373.5,277.3h1v1h-1zM364.7,276.2h1v1h-1zM367.9,271.2h1v1h-1zM365.5,278.9h1v1h-1zM363.5,278.0h1v1h-1zM366.5,280.5h1v1h-1zM360.7,270.9h1v1h-1zM366.1,262.3h1v1h-1zM366.5,265.1h1v1h-1zM361.0,276.1h1v1h-1zM363.4,272.7h1v1h-1zM373.4,267.5h1v1h-1zM371.8,277.6h1v1h-1zM367.1,268.6h1v1h-1zM358.3,275.1h1v1h-1zM368.5,276.6h1v1h-1zM366.9,278.1h1v1h-1zM362.3,274.1h1v1h-1zM365.6,271.5h1v1h-1zM358.6,263.9h1v1h-1zM367.2,279.0h1v1h-1zM365.5,266.0h1v1h-1zM368.7,272.0h1v1h-1zM367.3,271.6h1v1h-1zM354.7,269.6h1v1h-1zM366.1,261.8h1v1h-1zM363.3,272.8h1v1h-1zM367.0,274.0h1v1h-1zM366.5,262.5h1v1h-1zM358.7,282.1h1v1h-1zM375.1,280.0h1v1h-1zM356.9,277.6h1v1h-1zM370.2,276.5h1v1h-1zM372.8,282.6h1v1h-1zM362.9,267.4h1v1h-1zM375.8,271.9h1v1h-1zM366.8,274.1h1v1h-1zM362.9,262.6h1v1h-1zM364.4,274.1h1v1h-1zM369.3,271.0h1v1h-1zM358.2,266.7h1v1h-1zM364.8,276.9h1v1h-1zM368.2,272.1h1v1h-1zM367.4,276.1h1v1h-1zM372.4,274.6h1v1h-1zM365.6,279.4h1v1h-1zM370.3,267.9h1v1h-1zM362.9,272.9h1v1h-1zM369.7,275.2h1v1h-1zM369.0,264.1h1v1h-1zM371.7,278.2h1v1h-1zM359.8,275.4h1v1h-1zM368.3,282.6h1v1h-1zM365.8,271.0h1v1h-1zM368.3,269.1h1v1h-1zM364.7,280.9h1v1h-1zM358.7,277.9h1v1h-1zM356.4,267.9h1v1h-1zM359.6,274.3h1v1h-1zM368.1,274.6h1v1h-1zM369.0,275.7h1v1h-1zM364.1,278.8h1v1h-1zM364.0,276.0h1v1h-1zM369.6,270.6h1v1h-1zM370.0,266.5h1v1h-1zM364.0,261.6h1v1h-1zM358.6,267.2h1v1h-1zM367.0,281.4h1v1h-1zM368.7,262.1h1v1h-1zM367.2,274.4h1v1h-1zM365.5,278.7h1v1h-1zM363.8,261.9h1v1h-1zM360.3,263.8h1v1h-1zM359.2,274.0h1v1h-1zM370.7,269.5h1v1h-1zM361.7,266.1h1v1h-1zM357.4,275.5h1v1h-1zM362.9,273.1h1v1h-1zM360.8,278.8h1v1h-1zM359.7,279.2h1v1h-1zM362.1,281.1h1v1h-1zM361.1,278.4h1v1h-1zM366.9,274.4h1v1h-1zM372.2,276.4h1v1h-1zM361.1,280.3h1v1h-1zM361.4,270.8h1v1h-1zM365.1,276.4h1v1h-1zM372.5,261.5h1v1h-1zM364.3,277.5h1v1h-1zM371.7,265.5h1v1h-1zM365.2,281.1h1v1h-1zM362.4,261.5h1v1h-1zM360.6,276.5h1v1h-1zM370.8,263.0h1v1h-1zM369.5,282.1h1v1h-1zM372.1,273.8h1v1h-1zM362.6,276.1h1v1h-1zM371.8,279.8h1v1h-1zM372.4,281.1h1v1h-1zM362.4,267.2h1v1h-1zM373.1,263.3h1v1h-1zM363.5,272.5h1v1h-1zM361.0,270.6h1v1h-1zM364.7,271.0h1v1h-1zM365.5,282.3h1v1h-1zM361.4,271.9h1v1h-1zM357.3,280.4h1v1h-1zM368.8,272.9h1v1h-1zM363.3,272.6h1v1h-1zM359.7,281.0h1v1h-1zM362.3,269.4h1v1h-1zM367.3,275.9h1v1h-1zM362.4,273.2h1v1h-1zM369.4,269.4h1v1h-1zM367.0,280.2h1v1h-1zM355.9,281.6h1v1h-1zM366.5,279.5h1v1h-1zM367.1,279.1h1v1h-1zM362.8,282.0h1v1h-1zM365.3,266.9h1v1h-1zM360.5,276.3h1v1h-1zM366.5,257.9h1v1h-1zM355.9,283.1h1v1h-1zM358.3,273.1h1v1h-1zM362.4,279.3h1v1h-1zM359.7,277.4h1v1h-1zM365.8,279.8h1v1h-1zM364.7,274.9h1v1h-1zM363.8,266.7h1v1h-1zM368.2,277.6h1v1h-1zM361.2,272.8h1v1h-1zM365.0,281.6h1v1h-1zM364.2,282.2h1v1h-1zM367.0,261.4h1v1h-1zM362.0,259.2h1v1h-1zM363.7,271.8h1v1h-1zM367.6,276.3h1v1h-1zM367.6,265.4h1v1h-1zM362.0,277.5h1v1h-1zM372.5,273.5h1v1h-1zM364.3,277.1h1v1h-1zM368.4,274.3h1v1h-1zM366.3,271.7h1v1h-1zM362.6,268.8h1v1h-1zM367.9,270.7h1v1h-1zM367.4,278.2h1v1h-1zM369.3,254.2h1v1h-1zM360.8,265.5h1v1h-1zM364.3,281.3h1v1h-1zM359.3,278.7h1v1h-1zM347.4,279.3h1v1h-1zM335.1,281.1h1v1h-1zM350.1,279.7h1v1h-1zM343.0,272.2h1v1h-1zM345.6,276.8h1v1h-1zM352.4,275.4h1v1h-1zM352.4,280.0h1v1h-1zM342.1,276.6h1v1h-1zM339.4,274.6h1v1h-1zM356.2,273.9h1v1h-1zM362.7,279.2h1v1h-1zM356.1,277.5h1v1h-1zM355.9,281.8h1v1h-1zM350.7,274.7h1v1h-1zM348.7,275.0h1v1h-1zM345.2,269.6h1v1h-1zM346.6,278.4h1v1h-1zM346.7,273.7h1v1h-1zM352.8,279.0h1v1h-1zM347.0,278.3h1v1h-1zM343.3,280.8h1v1h-1zM343.3,275.5h1v1h-1zM350.9,275.2h1v1h-1zM360.4,269.4h1v1h-1zM350.8,271.5h1v1h-1zM352.1,271.3h1v1h-1zM354.0,279.3h1v1h-1zM361.7,282.3h1v1h-1zM346.9,281.1h1v1h-1zM346.9,276.5h1v1h-1zM346.6,269.3h1v1h-1zM354.1,268.1h1v1h-1zM348.4,279.3h1v1h-1zM350.8,270.1h1v1h-1zM345.6,280.0h1v1h-1zM337.6,279.0h1v1h-1zM346.7,280.3h1v1h-1zM338.5,276.4h1v1h-1zM354.8,274.2h1v1h-1zM347.5,272.7h1v1h-1zM357.6,271.2h1v1h-1zM343.8,275.5h1v1h-1zM351.9,273.4h1v1h-1zM354.0,278.5h1v1h-1zM351.9,276.7h1v1h-1zM353.2,271.9h1v1h-1zM341.8,275.1h1v1h-1zM342.4,280.1h1v1h-1zM363.3,282.4h1v1h-1zM353.1,278.5h1v1h-1zM345.3,271.3h1v1h-1zM353.8,270.5h1v1h-1zM352.1,276.4h1v1h-1zM355.1,277.2h1v1h-1zM350.7,274.5h1v1h-1zM338.2,275.5h1v1h-1zM354.8,281.6h1v1h-1zM359.4,272.6h1v1h-1zM343.6,280.1h1v1h-1zM352.2,270.3h1v1h-1zM337.5,277.7h1v1h-1zM346.9,272.5h1v1h-1zM338.3,273.9h1v1h-1zM332.5,274.9h1v1h-1zM364.9,277.4h1v1h-1zM348.2,271.9h1v1h-1zM352.3,274.9h1v1h-1zM344.2,283.1h1v1h-1zM353.0,273.1h1v1h-1zM360.1,276.8h1v1h-1zM353.4,277.6h1v1h-1zM358.1,279.7h1v1h-1zM347.6,280.1h1v1h-1zM347.3,277.6h1v1h-1zM361.2,272.3h1v1h-1zM342.9,275.2h1v1h-1zM346.6,282.7h1v1h-1zM360.8,275.0h1v1h-1zM351.3,275.4h1v1h-1zM354.6,279.9h1v1h-1zM355.1,280.4h1v1h-1zM363.2,276.3h1v1h-1zM354.8,276.2h1v1h-1zM350.3,278.0h1v1h-1zM349.6,278.5h1v1h-1zM344.2,276.3h1v1h-1zM345.9,271.9h1v1h-1zM345.2,274.8h1v1h-1zM349.0,270.2h1v1h-1zM348.2,272.0h1v1h-1zM344.4,277.8h1v1h-1zM357.6,278.3h1v1h-1zM346.7,275.1h1v1h-1zM359.2,269.9h1v1h-1zM357.8,270.4h1v1h-1zM345.7,277.2h1v1h-1zM353.4,276.8h1v1h-1zM356.5,277.2h1v1h-1zM344.5,281.9h1v1h-1zM360.3,282.6h1v1h-1zM347.1,280.4h1v1h-1zM338.9,272.5h1v1h-1zM358.1,279.2h1v1h-1zM347.9,264.1h1v1h-1zM353.0,276.2h1v1h-1zM332.9,274.5h1v1h-1zM350.0,278.0h1v1h-1zM355.2,275.8h1v1h-1zM343.9,275.4h1v1h-1zM335.6,272.1h1v1h-1zM363.5,274.0h1v1h-1zM357.2,277.5h1v1h-1zM355.0,275.8h1v1h-1zM343.8,281.4h1v1h-1zM348.2,275.4h1v1h-1zM352.4,276.2h1v1h-1zM347.9,273.1h1v1h-1zM351.7,278.4h1v1h-1zM362.6,276.9h1v1h-1zM338.0,279.0h1v1h-1zM365.7,275.1h1v1h-1zM344.5,276.3h1v1h-1zM330.4,275.5h1v1h-1zM348.7,270.4h1v1h-1zM354.0,273.1h1v1h-1zM337.3,273.8h1v1h-1zM358.6,277.9h1v1h-1zM346.5,275.9h1v1h-1zM356.6,274.7h1v1h-1zM310.7,271.1h1v1h-1zM334.3,271.4h1v1h-1zM300.2,264.0h1v1h-1zM341.4,264.9h1v1h-1zM314.8,279.8h1v1h-1zM350.0,281.4h1v1h-1zM310.1,262.1h1v1h-1zM343.7,275.2h1v1h-1zM321.1,262.4h1v1h-1zM325.0,267.2h1v1h-1zM334.1,283.6h1v1h-1zM312.1,263.7h1v1h-1zM340.3,264.4h1v1h-1zM312.9,271.7h1v1h-1zM357.2,269.1h1v1h-1zM318.3,272.5h1v1h-1zM309.4,270.9h1v1h-1zM340.6,269.1h1v1h-1zM346.2,266.1h1v1h-1zM305.9,275.8h1v1h-1zM326.3,282.2h1v1h-1zM306.1,278.4h1v1h-1zM338.9,270.1h1v1h-1zM307.4,275.5h1v1h-1zM344.0,272.4h1v1h-1zM327.4,277.1h1v1h-1zM335.3,271.3h1v1h-1zM310.8,272.2h1v1h-1zM331.9,281.7h1v1h-1zM357.7,274.2h1v1h-1zM302.5,207.5h1v1h-1zM311.3,213.1h1v1h-1zM300.2,212.6h1v1h-1zM322.0,209.3h1v1h-1zM320.2,209.8h1v1h-1zM311.9,214.5h1v1h-1zM298.9,208.8h1v1h-1zM321.5,205.7h1v1h-1zM301.9,210.2h1v1h-1zM314.6,211.9h1v1h-1zM320.0,212.4h1v1h-1zM293.0,205.8h1v1h-1zM294.1,209.7h1v1h-1zM293.8,210.8h1v1h-1zM335.0,205.0h1v1h-1zM343.0,217.0h1v1h-1zM350.0,230.0h1v1h-1zM365.0,233.0h1v1h-1zM366.3,231.1h1v1h-1zM366.6,234.6h1v1h-1zM364.4,230.9h1v1h-1zM365.3,246.4h1v1h-1zM366.4,236.1h1v1h-1zM364.4,247.2h1v1h-1zM365.2,236.0h1v1h-1zM365.0,243.8h1v1h-1zM365.7,233.3h1v1h-1zM365.7,230.1h1v1h-1zM364.3,235.1h1v1h-1zM362.1,242.9h1v1h-1zM367.8,229.5h1v1h-1zM365.3,226.7h1v1h-1zM365.7,237.2h1v1h-1zM366.4,228.2h1v1h-1zM364.8,232.2h1v1h-1z" fill="#000"/>
<rect x="289.5" y="196" width="94.0" height="88.39999999999998" fill="none" stroke="#222" stroke-width="1"/>
<line x1="325.5" y1="196" x2="325.5" y2="284.4" stroke="#222" stroke-width="1"/>
<line x1="289.5" y1="243.5" x2="383.5" y2="243.5" stroke="#222" stroke-width="1"/>
<path d="M289.50,284.4v2.2M289.5,284.40h-2.2M296.57,284.4v1.2M289.5,277.75h-1.2M300.71,284.4v1.2M289.5,273.86h-1.2M303.65,284.4v1.2M289.5,271.09h-1.2M305.93,284.4v1.2M289.5,268.95h-1.2M307.79,284.4v1.2M289.5,267.20h-1.2M309.36,284.4v1.2M289.5,265.72h-1.2M310.72,284.4v1.2M289.5,264.44h-1.2M311.92,284.4v1.2M289.5,263.31h-1.2M313.00,284.4v2.2M289.5,262.30h-2.2M320.07,284.4v1.2M289.5,255.65h-1.2M324.21,284.4v1.2M289.5,251.76h-1.2M327.15,284.4v1.2M289.5,248.99h-1.2M329.43,284.4v1.2M289.5,246.85h-1.2M331.29,284.4v1.2M289.5,245.10h-1.2M332.86,284.4v1.2M289.5,243.62h-1.2M334.22,284.4v1.2M289.5,242.34h-1.2M335.42,284.4v1.2M289.5,241.21h-1.2M336.50,284.4v2.2M289.5,240.20h-2.2M343.57,284.4v1.2M289.5,233.55h-1.2M347.71,284.4v1.2M289.5,229.66h-1.2M350.65,284.4v1.2M289.5,226.89h-1.2M352.93,284.4v1.2M289.5,224.75h-1.2M354.79,284.4v1.2M289.5,223.00h-1.2M356.36,284.4v1.2M289.5,221.52h-1.2M357.72,284.4v1.2M289.5,220.24h-1.2M358.92,284.4v1.2M289.5,219.11h-1.2M360.00,284.4v2.2M289.5,218.10h-2.2M367.07,284.4v1.2M289.5,211.45h-1.2M371.21,284.4v1.2M289.5,207.56h-1.2M374.15,284.4v1.2M289.5,204.79h-1.2M376.43,284.4v1.2M289.5,202.65h-1.2M378.29,284.4v1.2M289.5,200.90h-1.2M379.86,284.4v1.2M289.5,199.42h-1.2M381.22,284.4v1.2M289.5,198.14h-1.2M382.42,284.4v1.2M289.5,197.01h-1.2M383.5,284.4v2.2M289.5,196h-2.2" stroke="#222" stroke-width="0.7" fill="none"/>
<text x="285.7" y="295.2" font-size="8.2" style="font-family:&quot;Liberation Sans&quot;,sans-serif" fill="#000" stroke="#000" stroke-width="0.15" text-anchor="start">10<tspan font-size="5.08" dy="-3.12">0</tspan></text>
<text x="308.0" y="295.2" font-size="8.2" style="font-family:&quot;Liberation Sans&quot;,sans-serif" fill="#000" stroke="#000" stroke-width="0.15" text-anchor="start">10<tspan font-size="5.08" dy="-3.12">1</tspan></text>
<text x="331.3" y="295.2" font-size="8.2" style="font-family:&quot;Liberation Sans&quot;,sans-serif" fill="#000" stroke="#000" stroke-width="0.15" text-anchor="start">10<tspan font-size="5.08" dy="-3.12">2</tspan></text>
<text x="354.6" y="295.2" font-size="8.2" style="font-family:&quot;Liberation Sans&quot;,sans-serif" fill="#000" stroke="#000" stroke-width="0.15" text-anchor="start">10<tspan font-size="5.08" dy="-3.12">3</tspan></text>
<text x="377.9" y="295.2" font-size="8.2" style="font-family:&quot;Liberation Sans&quot;,sans-serif" fill="#000" stroke="#000" stroke-width="0.15" text-anchor="start">10<tspan font-size="5.08" dy="-3.12">4</tspan></text>
<text x="285.5" y="289.7" font-size="8.2" style="font-family:&quot;Liberation Sans&quot;,sans-serif" fill="#000" stroke="#000" stroke-width="0.15" text-anchor="start" transform="rotate(-90 285.5 289.7)">10<tspan font-size="5.08" dy="-3.12">0</tspan></text>
<text x="285.5" y="267.6" font-size="8.2" style="font-family:&quot;Liberation Sans&quot;,sans-serif" fill="#000" stroke="#000" stroke-width="0.15" text-anchor="start" transform="rotate(-90 285.5 267.6)">10<tspan font-size="5.08" dy="-3.12">1</tspan></text>
<text x="285.5" y="245.5" font-size="8.2" style="font-family:&quot;Liberation Sans&quot;,sans-serif" fill="#000" stroke="#000" stroke-width="0.15" text-anchor="start" transform="rotate(-90 285.5 245.5)">10<tspan font-size="5.08" dy="-3.12">2</tspan></text>
<text x="285.5" y="223.4" font-size="8.2" style="font-family:&quot;Liberation Sans&quot;,sans-serif" fill="#000" stroke="#000" stroke-width="0.15" text-anchor="start" transform="rotate(-90 285.5 223.4)">10<tspan font-size="5.08" dy="-3.12">3</tspan></text>
<text x="285.5" y="201.3" font-size="8.2" style="font-family:&quot;Liberation Sans&quot;,sans-serif" fill="#000" stroke="#000" stroke-width="0.15" text-anchor="start" transform="rotate(-90 285.5 201.3)">10<tspan font-size="5.08" dy="-3.12">4</tspan></text>
<text x="302.90000000000003" y="193.0" font-size="8.9" font-weight="400" text-anchor="start" fill="#000" style="font-family:&quot;Liberation Sans&quot;,sans-serif" textLength="60.7" lengthAdjust="spacingAndGlyphs" stroke="#000" stroke-width="0.2">FC110A02.012</text>
<text x="312.8" y="303.79999999999995" font-size="8.9" font-weight="400" text-anchor="start" fill="#000" style="font-family:&quot;Liberation Sans&quot;,sans-serif" textLength="41" lengthAdjust="spacingAndGlyphs" stroke="#000" stroke-width="0.2">CD8 FITC</text>
<text x="271.5" y="239.7" font-size="8.9" font-weight="400" text-anchor="middle" fill="#000" style="font-family:&quot;Liberation Sans&quot;,sans-serif" textLength="31.8" lengthAdjust="spacingAndGlyphs" transform="rotate(-90 271.5 239.7)" stroke="#000" stroke-width="0.2">CD4 PE</text>
<text x="298.6" y="229.3" font-size="6.3" font-weight="700" text-anchor="start" fill="#000" style="font-family:&quot;Liberation Serif&quot;,serif" textLength="19" lengthAdjust="spacingAndGlyphs" stroke="#000" stroke-width="0.4">0.58%</text>
<text x="330.0" y="251.5" font-size="6.3" font-weight="700" text-anchor="start" fill="#000" style="font-family:&quot;Liberation Serif&quot;,serif" textLength="14" lengthAdjust="spacingAndGlyphs" stroke="#000" stroke-width="0.4">98%</text>
<path d="M497.2,265.5h1v1h-1zM492.9,263.4h1v1h-1zM494.6,277.6h1v1h-1zM496.7,259.0h1v1h-1zM501.7,281.1h1v1h-1zM499.4,272.8h1v1h-1zM497.1,270.0h1v1h-1zM501.6,277.0h1v1h-1zM499.6,282.4h1v1h-1zM490.7,280.4h1v1h-1zM496.0,276.9h1v1h-1zM498.4,269.6h1v1h-1zM489.7,267.4h1v1h-1zM500.5,277.6h1v1h-1zM491.4,273.5h1v1h-1zM491.2,272.6h1v1h-1zM494.9,273.2h1v1h-1zM489.6,269.2h1v1h-1zM490.5,271.0h1v1h-1zM488.3,270.3h1v1h-1zM489.3,272.8h1v1h-1zM498.5,278.6h1v1h-1zM494.4,264.5h1v1h-1zM489.7,269.0h1v1h-1zM498.0,263.7h1v1h-1zM495.3,262.1h1v1h-1zM497.4,268.6h1v1h-1zM490.1,267.3h1v1h-1zM491.7,273.6h1v1h-1zM485.2,281.0h1v1h-1zM488.2,281.9h1v1h-1zM492.3,271.2h1v1h-1zM495.4,257.0h1v1h-1zM493.6,275.9h1v1h-1zM498.7,275.4h1v1h-1zM496.7,258.1h1v1h-1zM491.9,269.0h1v1h-1zM497.7,271.8h1v1h-1zM494.7,279.4h1v1h-1zM488.4,271.5h1v1h-1zM491.6,280.7h1v1h-1zM501.0,275.0h1v1h-1zM492.2,265.1h1v1h-1zM497.7,258.7h1v1h-1zM497.5,261.0h1v1h-1zM501.0,279.1h1v1h-1zM501.0,277.8h1v1h-1zM489.8,277.3h1v1h-1zM494.9,261.5h1v1h-1zM496.9,266.3h1v1h-1zM487.1,278.8h1v1h-1zM497.4,261.4h1v1h-1zM492.2,274.0h1v1h-1zM491.2,261.8h1v1h-1zM494.0,281.6h1v1h-1zM493.2,282.6h1v1h-1zM496.1,258.4h1v1h-1zM493.5,282.8h1v1h-1zM500.7,274.1h1v1h-1zM485.8,280.2h1v1h-1zM489.4,282.4h1v1h-1zM486.9,280.1h1v1h-1zM493.7,269.2h1v1h-1zM487.8,268.4h1v1h-1zM498.2,270.4h1v1h-1zM497.8,271.6h1v1h-1zM492.8,277.7h1v1h-1zM489.1,265.1h1v1h-1zM499.7,273.0h1v1h-1zM498.2,266.3h1v1h-1zM488.8,265.5h1v1h-1zM487.0,278.5h1v1h-1zM498.9,282.0h1v1h-1zM496.6,259.1h1v1h-1zM492.1,282.9h1v1h-1zM489.5,272.1h1v1h-1zM485.7,279.2h1v1h-1zM492.2,259.4h1v1h-1zM490.8,268.8h1v1h-1zM493.6,256.9h1v1h-1zM493.5,278.5h1v1h-1zM495.1,258.2h1v1h-1zM495.9,256.9h1v1h-1zM494.0,259.6h1v1h-1zM496.6,277.5h1v1h-1zM492.6,271.1h1v1h-1zM490.5,277.8h1v1h-1zM497.2,258.5h1v1h-1zM493.2,259.7h1v1h-1zM493.2,273.2h1v1h-1zM497.7,263.8h1v1h-1zM495.6,276.3h1v1h-1zM496.0,281.5h1v1h-1zM489.3,274.8h1v1h-1zM494.9,279.1h1v1h-1zM498.4,263.9h1v1h-1zM487.6,273.2h1v1h-1zM489.5,265.9h1v1h-1zM496.3,272.6h1v1h-1zM495.6,256.2h1v1h-1zM500.6,274.6h1v1h-1zM500.8,272.0h1v1h-1zM496.1,279.8h1v1h-1zM497.9,272.6h1v1h-1zM497.4,278.6h1v1h-1zM491.5,260.5h1v1h-1zM492.4,278.5h1v1h-1zM497.9,261.6h1v1h-1zM487.0,279.6h1v1h-1zM488.5,282.7h1v1h-1zM500.0,266.5h1v1h-1zM500.2,280.4h1v1h-1zM499.9,275.2h1v1h-1zM494.7,269.1h1v1h-1zM497.4,271.6h1v1h-1zM500.7,276.0h1v1h-1zM492.5,278.7h1v1h-1zM489.7,265.7h1v1h-1zM494.9,282.1h1v1h-1zM488.9,278.7h1v1h-1zM496.3,280.7h1v1h-1zM489.9,273.4h1v1h-1zM500.5,279.7h1v1h-1zM497.1,278.4h1v1h-1zM495.9,270.2h1v1h-1zM488.0,269.3h1v1h-1zM502.1,281.5h1v1h-1zM488.8,278.5h1v1h-1zM487.8,276.3h1v1h-1zM495.0,262.3h1v1h-1zM496.7,261.8h1v1h-1zM501.0,275.7h1v1h-1zM491.4,260.2h1v1h-1zM500.5,273.4h1v1h-1zM496.2,256.2h1v1h-1zM487.6,275.8h1v1h-1zM489.3,282.6h1v1h-1zM489.5,277.3h1v1h-1zM497.7,272.8h1v1h-1zM495.4,258.5h1v1h-1zM499.4,280.8h1v1h-1zM494.1,259.8h1v1h-1zM489.5,269.5h1v1h-1zM498.5,263.3h1v1h-1zM499.1,276.3h1v1h-1zM488.3,281.7h1v1h-1zM487.8,279.9h1v1h-1zM495.2,272.6h1v1h-1zM495.0,258.4h1v1h-1zM498.6,267.4h1v1h-1zM498.6,280.5h1v1h-1zM491.1,277.1h1v1h-1zM490.5,281.2h1v1h-1zM490.6,272.4h1v1h-1zM489.1,275.1h1v1h-1zM489.6,266.5h1v1h-1zM497.5,278.1h1v1h-1zM488.3,276.4h1v1h-1zM496.6,274.9h1v1h-1zM490.8,271.6h1v1h-1zM489.2,277.2h1v1h-1zM488.3,267.1h1v1h-1zM496.8,260.8h1v1h-1zM496.4,265.9h1v1h-1zM496.2,277.9h1v1h-1zM496.7,279.1h1v1h-1zM496.5,276.7h1v1h-1zM499.6,271.5h1v1h-1zM494.1,259.1h1v1h-1zM489.8,270.5h1v1h-1zM500.6,278.3h1v1h-1zM488.0,271.3h1v1h-1zM499.0,279.2h1v1h-1zM491.2,264.3h1v1h-1zM497.1,269.6h1v1h-1zM486.6,274.8h1v1h-1zM488.5,269.5h1v1h-1zM489.3,268.4h1v1h-1zM493.5,262.0h1v1h-1zM494.2,277.6h1v1h-1zM494.8,264.4h1v1h-1zM501.2,276.8h1v1h-1zM493.2,267.3h1v1h-1zM499.6,272.2h1v1h-1zM494.4,269.2h1v1h-1zM498.9,267.4h1v1h-1zM493.9,260.9h1v1h-1zM491.8,275.7h1v1h-1zM500.1,282.9h1v1h-1zM493.2,266.6h1v1h-1zM499.4,266.6h1v1h-1zM488.1,268.1h1v1h-1zM498.4,264.5h1v1h-1zM495.8,263.1h1v1h-1zM486.6,276.8h1v1h-1zM498.4,274.6h1v1h-1zM495.5,259.5h1v1h-1zM493.5,278.2h1v1h-1zM498.6,271.3h1v1h-1zM495.9,259.4h1v1h-1zM485.5,278.6h1v1h-1zM491.7,274.5h1v1h-1zM497.0,279.2h1v1h-1zM493.3,256.1h1v1h-1zM498.4,260.3h1v1h-1zM494.1,262.6h1v1h-1zM494.8,274.9h1v1h-1zM493.8,265.9h1v1h-1zM492.5,265.0h1v1h-1zM497.6,272.6h1v1h-1zM496.9,272.7h1v1h-1zM493.7,260.1h1v1h-1zM492.7,261.9h1v1h-1zM491.3,282.5h1v1h-1zM491.8,277.4h1v1h-1zM490.0,265.8h1v1h-1zM496.1,266.1h1v1h-1zM499.9,266.9h1v1h-1zM498.8,265.8h1v1h-1zM489.1,280.0h1v1h-1zM496.0,275.1h1v1h-1zM493.9,274.7h1v1h-1zM489.9,279.7h1v1h-1zM499.5,279.8h1v1h-1zM492.3,266.3h1v1h-1zM489.9,266.4h1v1h-1zM491.4,267.6h1v1h-1zM493.6,256.0h1v1h-1zM493.2,280.3h1v1h-1zM496.3,281.5h1v1h-1zM500.0,268.6h1v1h-1zM494.9,278.5h1v1h-1zM498.2,269.9h1v1h-1zM492.9,258.1h1v1h-1zM494.5,270.9h1v1h-1zM497.3,280.2h1v1h-1zM485.9,278.2h1v1h-1zM490.3,266.3h1v1h-1zM490.7,277.5h1v1h-1zM493.0,258.7h1v1h-1zM491.4,267.3h1v1h-1zM500.7,270.0h1v1h-1zM487.2,277.1h1v1h-1zM496.4,263.0h1v1h-1zM487.4,272.7h1v1h-1zM497.3,280.9h1v1h-1zM488.6,266.4h1v1h-1zM488.8,273.4h1v1h-1zM492.0,259.3h1v1h-1zM500.5,272.0h1v1h-1zM490.0,266.0h1v1h-1zM492.2,263.6h1v1h-1zM495.6,260.2h1v1h-1zM493.7,274.3h1v1h-1zM493.4,275.6h1v1h-1zM498.5,267.3h1v1h-1zM497.0,265.0h1v1h-1zM487.7,279.9h1v1h-1zM493.0,278.6h1v1h-1zM488.6,279.8h1v1h-1zM488.8,271.6h1v1h-1zM492.1,281.8h1v1h-1zM500.0,280.9h1v1h-1zM497.2,260.9h1v1h-1zM500.4,281.8h1v1h-1zM488.8,282.1h1v1h-1zM489.4,282.9h1v1h-1zM493.2,278.0h1v1h-1zM499.0,280.1h1v1h-1zM491.0,261.1h1v1h-1zM493.7,281.1h1v1h-1zM495.5,279.4h1v1h-1zM488.0,269.0h1v1h-1zM501.0,270.8h1v1h-1zM498.8,277.5h1v1h-1zM492.5,274.1h1v1h-1zM497.0,267.0h1v1h-1zM493.9,277.6h1v1h-1zM500.4,282.6h1v1h-1zM491.1,273.8h1v1h-1zM494.4,278.8h1v1h-1zM488.8,267.8h1v1h-1zM489.1,277.4h1v1h-1zM495.1,276.6h1v1h-1zM495.0,272.0h1v1h-1zM492.2,262.2h1v1h-1zM490.7,261.1h1v1h-1zM499.1,265.4h1v1h-1zM497.3,270.1h1v1h-1zM496.6,279.1h1v1h-1zM497.4,280.6h1v1h-1zM495.1,258.6h1v1h-1zM489.5,270.9h1v1h-1zM493.5,259.4h1v1h-1zM489.5,280.0h1v1h-1zM495.8,271.6h1v1h-1zM490.3,263.0h1v1h-1zM496.3,281.8h1v1h-1zM496.2,273.7h1v1h-1zM489.7,273.9h1v1h-1zM491.6,274.0h1v1h-1zM500.2,274.1h1v1h-1zM501.2,276.8h1v1h-1zM496.6,260.5h1v1h-1zM490.1,280.9h1v1h-1zM490.8,278.0h1v1h-1zM488.8,279.0h1v1h-1zM492.5,278.8h1v1h-1zM493.3,265.1h1v1h-1zM492.7,281.6h1v1h-1zM502.0,281.1h1v1h-1zM486.0,275.6h1v1h-1zM497.3,282.7h1v1h-1zM485.9,282.4h1v1h-1zM487.9,273.3h1v1h-1zM493.2,270.0h1v1h-1zM494.4,259.2h1v1h-1zM490.5,282.1h1v1h-1zM496.2,273.6h1v1h-1zM495.4,260.2h1v1h-1zM496.8,282.2h1v1h-1zM486.1,278.4h1v1h-1zM490.7,260.2h1v1h-1zM496.3,278.8h1v1h-1zM493.5,260.3h1v1h-1zM493.6,282.7h1v1h-1zM495.1,281.5h1v1h-1zM493.0,270.4h1v1h-1zM497.1,279.0h1v1h-1zM487.7,280.6h1v1h-1zM495.4,279.7h1v1h-1zM487.1,277.0h1v1h-1zM492.0,273.2h1v1h-1zM494.9,266.2h1v1h-1zM491.4,262.1h1v1h-1zM497.5,277.3h1v1h-1zM496.8,267.1h1v1h-1zM491.9,259.9h1v1h-1zM488.9,282.9h1v1h-1zM495.1,266.0h1v1h-1zM494.1,268.5h1v1h-1zM489.8,266.4h1v1h-1zM492.2,280.1h1v1h-1zM492.7,260.8h1v1h-1zM492.8,267.6h1v1h-1zM493.5,268.0h1v1h-1zM490.3,264.4h1v1h-1zM488.5,269.7h1v1h-1zM493.5,272.7h1v1h-1zM500.6,274.2h1v1h-1zM499.6,273.4h1v1h-1zM488.5,277.7h1v1h-1zM498.1,268.4h1v1h-1zM494.3,277.2h1v1h-1zM492.2,257.9h1v1h-1zM492.8,261.5h1v1h-1zM495.1,274.7h1v1h-1zM494.8,271.2h1v1h-1zM490.1,281.6h1v1h-1zM496.5,282.2h1v1h-1zM494.8,272.9h1v1h-1zM495.6,279.6h1v1h-1zM496.8,259.0h1v1h-1zM496.0,263.1h1v1h-1zM491.5,281.9h1v1h-1zM486.6,275.8h1v1h-1zM492.8,257.8h1v1h-1zM495.9,270.0h1v1h-1zM486.8,281.1h1v1h-1zM494.8,272.1h1v1h-1zM488.1,268.6h1v1h-1zM491.5,276.2h1v1h-1zM493.9,274.1h1v1h-1zM491.3,277.2h1v1h-1zM497.9,260.4h1v1h-1zM485.2,282.2h1v1h-1zM489.6,267.6h1v1h-1zM488.3,276.9h1v1h-1zM500.4,274.8h1v1h-1zM491.7,278.4h1v1h-1zM496.5,259.4h1v1h-1zM491.9,275.6h1v1h-1zM493.7,256.6h1v1h-1zM492.7,278.8h1v1h-1zM494.9,262.1h1v1h-1zM488.3,270.4h1v1h-1zM493.7,280.3h1v1h-1zM492.6,265.2h1v1h-1zM494.3,260.0h1v1h-1zM490.3,269.5h1v1h-1zM493.8,264.3h1v1h-1zM495.6,264.5h1v1h-1zM497.7,272.5h1v1h-1zM494.0,271.7h1v1h-1zM494.5,261.0h1v1h-1zM490.7,275.0h1v1h-1zM491.6,269.6h1v1h-1zM488.6,272.4h1v1h-1zM498.1,277.4h1v1h-1zM502.3,281.4h1v1h-1zM497.1,267.8h1v1h-1zM489.3,274.6h1v1h-1zM492.0,263.7h1v1h-1zM497.3,276.4h1v1h-1zM496.0,258.2h1v1h-1zM500.5,280.9h1v1h-1zM495.9,262.0h1v1h-1zM494.6,276.3h1v1h-1zM490.7,273.0h1v1h-1zM495.3,280.4h1v1h-1zM498.5,273.6h1v1h-1zM494.3,279.9h1v1h-1zM495.3,274.1h1v1h-1zM494.5,260.8h1v1h-1zM488.0,270.9h1v1h-1zM490.3,282.8h1v1h-1zM495.6,257.4h1v1h-1zM493.4,269.5h1v1h-1zM490.2,273.7h1v1h-1zM492.5,277.9h1v1h-1zM496.7,261.9h1v1h-1zM499.6,282.7h1v1h-1zM486.1,280.2h1v1h-1zM498.8,265.5h1v1h-1zM500.5,276.4h1v1h-1zM493.5,262.5h1v1h-1zM494.2,269.5h1v1h-1zM487.9,269.6h1v1h-1zM496.5,258.8h1v1h-1zM493.9,258.3h1v1h-1zM501.3,280.7h1v1h-1zM501.4,277.0h1v1h-1zM490.4,277.6h1v1h-1zM501.0,273.2h1v1h-1zM495.7,258.1h1v1h-1zM493.1,280.1h1v1h-1zM494.6,272.7h1v1h-1zM492.8,264.7h1v1h-1zM499.8,265.4h1v1h-1zM489.9,269.5h1v1h-1zM497.6,277.0h1v1h-1zM490.8,267.9h1v1h-1zM495.0,271.4h1v1h-1zM501.0,270.7h1v1h-1zM490.3,268.3h1v1h-1zM500.4,280.6h1v1h-1zM493.3,256.0h1v1h-1zM489.9,269.7h1v1h-1zM492.2,270.7h1v1h-1zM495.5,259.9h1v1h-1zM494.7,281.1h1v1h-1zM500.5,272.1h1v1h-1zM493.9,275.9h1v1h-1zM492.7,274.6h1v1h-1zM491.2,270.3h1v1h-1zM497.7,271.2h1v1h-1zM495.4,265.5h1v1h-1zM490.8,273.2h1v1h-1zM492.5,267.1h1v1h-1zM491.3,262.8h1v1h-1zM495.8,279.5h1v1h-1zM488.0,273.0h1v1h-1zM494.1,272.7h1v1h-1zM496.4,265.9h1v1h-1zM493.9,272.4h1v1h-1zM501.2,273.2h1v1h-1zM496.3,264.5h1v1h-1zM500.4,268.5h1v1h-1zM492.7,274.2h1v1h-1zM494.3,282.9h1v1h-1zM495.2,260.9h1v1h-1zM488.6,282.9h1v1h-1zM494.0,262.9h1v1h-1zM491.1,260.9h1v1h-1zM502.1,279.9h1v1h-1zM486.2,279.3h1v1h-1zM494.4,282.6h1v1h-1zM492.4,266.9h1v1h-1zM488.8,279.6h1v1h-1zM488.5,279.7h1v1h-1zM490.5,277.5h1v1h-1zM497.4,281.1h1v1h-1zM494.9,264.8h1v1h-1zM490.2,278.0h1v1h-1zM493.6,259.0h1v1h-1zM497.0,260.4h1v1h-1zM497.9,259.3h1v1h-1zM490.2,282.2h1v1h-1zM491.2,265.7h1v1h-1zM486.1,279.3h1v1h-1zM487.8,275.7h1v1h-1zM497.3,267.7h1v1h-1zM490.6,261.6h1v1h-1zM491.5,275.4h1v1h-1zM485.1,282.0h1v1h-1zM495.6,273.1h1v1h-1zM499.7,282.3h1v1h-1zM495.2,257.2h1v1h-1zM499.6,278.6h1v1h-1zM493.7,275.9h1v1h-1zM494.1,263.0h1v1h-1zM500.9,280.3h1v1h-1zM497.6,269.1h1v1h-1zM496.1,264.0h1v1h-1zM492.9,270.1h1v1h-1zM492.1,267.2h1v1h-1zM499.8,282.7h1v1h-1zM497.7,279.0h1v1h-1zM488.5,268.7h1v1h-1zM498.3,275.4h1v1h-1zM501.0,276.7h1v1h-1zM493.2,263.9h1v1h-1zM500.2,280.3h1v1h-1zM494.2,276.6h1v1h-1zM497.6,269.3h1v1h-1zM492.5,281.7h1v1h-1zM498.9,270.8h1v1h-1zM498.3,270.2h1v1h-1zM495.0,279.3h1v1h-1zM487.7,280.1h1v1h-1zM494.4,268.3h1v1h-1zM489.3,281.3h1v1h-1zM499.6,281.6h1v1h-1zM493.5,268.7h1v1h-1zM495.0,282.8h1v1h-1zM485.3,282.2h1v1h-1zM488.1,274.3h1v1h-1zM495.9,260.4h1v1h-1zM492.8,266.6h1v1h-1zM491.7,269.2h1v1h-1zM487.1,275.6h1v1h-1zM496.9,257.5h1v1h-1zM494.0,274.8h1v1h-1zM501.4,279.4h1v1h-1zM487.2,274.9h1v1h-1zM492.2,259.3h1v1h-1zM492.8,281.2h1v1h-1zM494.3,279.6h1v1h-1zM493.1,261.6h1v1h-1zM496.9,262.9h1v1h-1zM496.4,269.7h1v1h-1zM495.2,280.9h1v1h-1zM488.6,282.8h1v1h-1zM494.8,277.6h1v1h-1zM489.0,282.9h1v1h-1zM497.5,267.9h1v1h-1zM488.4,279.5h1v1h-1zM494.6,282.7h1v1h-1zM500.4,275.8h1v1h-1zM497.5,259.3h1v1h-1zM499.4,274.9h1v1h-1zM498.3,276.4h1v1h-1zM497.0,265.0h1v1h-1zM488.6,267.1h1v1h-1zM489.2,275.5h1v1h-1zM499.5,275.7h1v1h-1zM490.3,271.0h1v1h-1zM490.2,270.1h1v1h-1zM494.1,258.9h1v1h-1zM499.7,277.7h1v1h-1zM488.7,275.9h1v1h-1zM499.0,272.1h1v1h-1zM488.6,268.0h1v1h-1zM489.9,265.4h1v1h-1zM498.6,263.7h1v1h-1zM497.3,271.4h1v1h-1zM500.1,273.0h1v1h-1zM499.8,272.7h1v1h-1zM492.2,260.1h1v1h-1zM498.1,262.9h1v1h-1zM496.5,273.2h1v1h-1zM490.4,261.7h1v1h-1zM496.1,272.5h1v1h-1zM488.3,274.8h1v1h-1zM500.5,281.0h1v1h-1zM501.5,282.9h1v1h-1zM497.8,270.7h1v1h-1zM494.0,269.8h1v1h-1zM501.5,282.1h1v1h-1zM492.3,260.2h1v1h-1zM494.2,266.6h1v1h-1zM499.1,280.8h1v1h-1zM495.7,256.8h1v1h-1zM494.1,258.2h1v1h-1zM494.2,277.8h1v1h-1zM496.6,267.8h1v1h-1zM487.3,281.0h1v1h-1zM500.2,268.4h1v1h-1zM491.7,265.8h1v1h-1zM491.3,262.3h1v1h-1zM487.0,273.0h1v1h-1zM493.8,266.8h1v1h-1zM498.0,268.8h1v1h-1zM494.6,273.5h1v1h-1zM495.9,275.8h1v1h-1zM490.9,276.4h1v1h-1zM495.0,261.7h1v1h-1zM499.7,281.6h1v1h-1zM499.2,278.0h1v1h-1zM495.1,261.5h1v1h-1zM489.8,279.1h1v1h-1zM489.4,268.3h1v1h-1zM494.4,255.0h1v1h-1zM498.8,276.9h1v1h-1zM498.9,271.2h1v1h-1zM500.2,275.5h1v1h-1zM486.3,276.4h1v1h-1zM492.9,269.5h1v1h-1zM494.5,270.7h1v1h-1zM485.7,278.8h1v1h-1zM493.9,257.3h1v1h-1zM493.5,259.9h1v1h-1zM492.3,275.0h1v1h-1zM489.7,282.1h1v1h-1zM495.8,259.8h1v1h-1zM495.5,261.6h1v1h-1zM496.7,282.0h1v1h-1zM497.7,280.4h1v1h-1zM495.9,258.6h1v1h-1zM496.3,258.2h1v1h-1zM488.0,282.7h1v1h-1zM489.3,267.4h1v1h-1zM496.4,283.0h1v1h-1zM494.4,257.8h1v1h-1zM496.5,274.0h1v1h-1zM495.0,265.5h1v1h-1zM494.3,270.0h1v1h-1zM501.0,276.7h1v1h-1zM488.8,265.4h1v1h-1zM495.2,265.3h1v1h-1zM485.6,282.8h1v1h-1zM492.7,258.5h1v1h-1zM494.6,281.4h1v1h-1zM498.3,271.4h1v1h-1zM489.6,273.7h1v1h-1zM488.6,266.2h1v1h-1zM495.3,279.9h1v1h-1zM495.1,262.1h1v1h-1zM497.6,258.8h1v1h-1zM494.9,271.0h1v1h-1zM492.9,270.3h1v1h-1zM495.0,266.0h1v1h-1zM493.5,280.6h1v1h-1zM492.9,275.7h1v1h-1zM487.4,281.1h1v1h-1zM489.9,263.2h1v1h-1zM498.6,270.1h1v1h-1zM500.6,272.1h1v1h-1zM496.1,266.7h1v1h-1zM499.5,267.3h1v1h-1zM487.7,272.4h1v1h-1zM496.8,267.8h1v1h-1zM496.2,266.5h1v1h-1zM495.1,255.6h1v1h-1zM491.9,282.3h1v1h-1zM494.9,264.2h1v1h-1zM495.7,282.3h1v1h-1zM492.9,266.4h1v1h-1zM499.3,278.7h1v1h-1zM488.6,273.5h1v1h-1zM489.9,264.6h1v1h-1zM499.0,264.8h1v1h-1zM499.9,279.9h1v1h-1zM493.2,267.7h1v1h-1zM501.0,277.4h1v1h-1zM494.0,275.3h1v1h-1zM499.5,273.6h1v1h-1zM500.2,268.0h1v1h-1zM492.2,272.9h1v1h-1zM496.7,282.8h1v1h-1zM486.5,273.4h1v1h-1zM493.6,255.6h1v1h-1z" fill="#000"/>
<path d="M497.2,261.8h1v1h-1zM488.4,275.5h1v1h-1zM495.3,271.7h1v1h-1zM494.1,276.3h1v1h-1zM488.7,275.5h1v1h-1zM504.7,269.9h1v1h-1zM489.3,280.2h1v1h-1zM491.1,274.4h1v1h-1zM495.0,273.4h1v1h-1zM496.6,274.9h1v1h-1zM497.5,275.7h1v1h-1zM499.8,282.2h1v1h-1zM503.8,260.9h1v1h-1zM494.5,272.6h1v1h-1zM490.7,275.6h1v1h-1zM496.6,279.1h1v1h-1zM493.4,264.6h1v1h-1zM496.7,279.8h1v1h-1zM494.1,266.0h1v1h-1zM506.9,269.7h1v1h-1zM495.0,280.9h1v1h-1zM489.2,269.6h1v1h-1zM494.9,265.3h1v1h-1zM495.5,274.2h1v1h-1zM491.4,275.4h1v1h-1zM493.9,266.5h1v1h-1zM497.8,264.9h1v1h-1zM500.1,272.3h1v1h-1zM483.3,262.8h1v1h-1zM495.4,268.1h1v1h-1zM504.0,282.1h1v1h-1zM500.5,270.2h1v1h-1zM500.2,271.5h1v1h-1zM493.8,264.2h1v1h-1zM494.3,278.2h1v1h-1zM493.8,266.2h1v1h-1zM498.4,282.2h1v1h-1zM493.6,281.2h1v1h-1zM498.7,267.2h1v1h-1zM493.9,260.3h1v1h-1zM489.2,278.4h1v1h-1zM489.9,278.1h1v1h-1zM495.8,258.6h1v1h-1zM494.1,276.0h1v1h-1zM490.7,262.3h1v1h-1zM493.2,268.1h1v1h-1zM494.6,259.6h1v1h-1zM490.5,277.6h1v1h-1zM489.8,281.8h1v1h-1zM490.1,273.9h1v1h-1zM500.3,279.2h1v1h-1zM492.5,262.9h1v1h-1zM496.5,275.5h1v1h-1zM500.1,276.2h1v1h-1zM490.6,274.2h1v1h-1zM493.6,274.9h1v1h-1zM506.0,279.6h1v1h-1zM495.4,273.0h1v1h-1zM490.8,267.1h1v1h-1zM485.1,271.3h1v1h-1zM486.8,260.2h1v1h-1zM489.6,258.8h1v1h-1zM497.2,254.9h1v1h-1zM494.2,267.0h1v1h-1zM485.7,272.9h1v1h-1zM499.6,278.5h1v1h-1zM487.1,269.7h1v1h-1zM493.6,267.2h1v1h-1zM489.7,259.3h1v1h-1zM490.0,282.2h1v1h-1zM484.9,276.5h1v1h-1zM493.5,281.5h1v1h-1zM488.6,282.3h1v1h-1zM486.2,274.8h1v1h-1zM493.0,276.0h1v1h-1zM489.3,281.9h1v1h-1zM489.5,270.4h1v1h-1zM497.6,276.1h1v1h-1zM491.8,266.1h1v1h-1zM494.0,263.8h1v1h-1zM500.1,280.9h1v1h-1zM485.9,276.4h1v1h-1zM498.1,272.1h1v1h-1zM496.0,270.3h1v1h-1zM493.7,274.3h1v1h-1zM496.4,267.2h1v1h-1zM488.6,277.6h1v1h-1zM491.6,279.2h1v1h-1zM491.6,264.5h1v1h-1zM497.6,277.1h1v1h-1zM497.6,272.3h1v1h-1zM496.5,274.5h1v1h-1zM494.5,279.8h1v1h-1zM490.3,277.2h1v1h-1zM489.4,260.2h1v1h-1zM495.0,275.8h1v1h-1zM497.2,279.5h1v1h-1zM497.4,281.3h1v1h-1zM506.9,270.5h1v1h-1zM488.0,280.5h1v1h-1zM501.4,263.9h1v1h-1zM495.8,278.7h1v1h-1zM500.1,267.8h1v1h-1zM494.1,272.0h1v1h-1zM493.2,273.8h1v1h-1zM493.3,260.8h1v1h-1zM493.8,275.5h1v1h-1zM492.2,246.5h1v1h-1zM490.7,269.8h1v1h-1zM498.5,273.5h1v1h-1zM489.3,278.8h1v1h-1zM499.4,274.0h1v1h-1zM497.0,268.6h1v1h-1zM486.4,281.8h1v1h-1zM501.9,272.6h1v1h-1zM491.5,260.6h1v1h-1zM504.4,265.4h1v1h-1zM489.3,273.4h1v1h-1zM499.9,275.4h1v1h-1zM493.9,275.2h1v1h-1zM498.1,274.7h1v1h-1zM494.8,274.4h1v1h-1zM490.7,264.4h1v1h-1zM491.9,275.3h1v1h-1zM498.0,263.2h1v1h-1zM487.9,276.4h1v1h-1zM495.9,266.2h1v1h-1zM488.5,276.4h1v1h-1zM493.3,262.0h1v1h-1zM501.7,269.9h1v1h-1zM490.7,280.1h1v1h-1zM488.0,279.4h1v1h-1zM499.9,277.1h1v1h-1zM495.6,273.7h1v1h-1zM498.9,268.4h1v1h-1zM501.7,274.8h1v1h-1zM492.4,261.9h1v1h-1zM491.9,276.9h1v1h-1zM500.0,262.0h1v1h-1zM493.4,269.5h1v1h-1zM488.2,275.0h1v1h-1zM490.3,282.0h1v1h-1zM481.0,280.9h1v1h-1zM484.8,259.3h1v1h-1zM496.5,272.3h1v1h-1zM494.6,267.2h1v1h-1zM488.9,269.1h1v1h-1zM493.7,268.2h1v1h-1zM492.0,268.1h1v1h-1zM495.1,265.9h1v1h-1zM484.0,253.9h1v1h-1zM493.9,275.8h1v1h-1zM498.6,269.0h1v1h-1zM488.5,263.0h1v1h-1zM497.7,270.0h1v1h-1zM498.8,274.4h1v1h-1zM492.7,260.1h1v1h-1zM490.7,281.3h1v1h-1zM491.1,280.4h1v1h-1zM495.6,265.1h1v1h-1zM491.5,269.7h1v1h-1zM494.9,258.8h1v1h-1zM489.8,281.4h1v1h-1zM494.7,281.0h1v1h-1zM498.1,265.8h1v1h-1zM487.5,278.7h1v1h-1zM494.2,275.6h1v1h-1zM492.3,280.6h1v1h-1zM493.7,267.4h1v1h-1zM493.6,261.7h1v1h-1zM493.1,276.4h1v1h-1zM497.3,266.5h1v1h-1zM487.6,269.1h1v1h-1zM484.0,269.8h1v1h-1zM506.6,276.2h1v1h-1zM490.3,269.5h1v1h-1zM502.5,265.6h1v1h-1zM493.5,274.4h1v1h-1zM490.5,269.2h1v1h-1zM485.9,268.3h1v1h-1zM492.6,280.7h1v1h-1zM496.2,275.9h1v1h-1zM496.7,273.2h1v1h-1zM491.1,269.2h1v1h-1zM492.7,271.0h1v1h-1zM500.1,277.9h1v1h-1zM493.6,270.8h1v1h-1zM500.8,278.5h1v1h-1zM504.0,282.3h1v1h-1zM493.0,270.6h1v1h-1zM492.6,276.5h1v1h-1zM497.8,278.9h1v1h-1zM501.6,262.8h1v1h-1zM494.1,263.6h1v1h-1zM489.0,270.2h1v1h-1zM490.9,267.2h1v1h-1zM488.7,256.4h1v1h-1zM491.1,282.1h1v1h-1zM491.3,278.2h1v1h-1zM494.3,271.1h1v1h-1zM490.9,275.4h1v1h-1zM489.6,265.4h1v1h-1zM494.6,280.7h1v1h-1zM492.6,281.7h1v1h-1zM501.6,264.8h1v1h-1zM495.2,267.3h1v1h-1zM490.9,276.4h1v1h-1zM482.6,279.9h1v1h-1zM498.0,279.3h1v1h-1zM501.0,278.9h1v1h-1zM485.4,273.7h1v1h-1zM492.6,262.0h1v1h-1zM493.7,281.1h1v1h-1zM492.8,273.5h1v1h-1zM501.1,270.1h1v1h-1zM489.5,275.3h1v1h-1zM499.4,279.8h1v1h-1zM494.3,271.0h1v1h-1zM499.9,282.1h1v1h-1zM485.7,277.7h1v1h-1zM496.9,269.9h1v1h-1zM487.8,272.6h1v1h-1zM485.6,279.5h1v1h-1zM491.5,260.8h1v1h-1zM487.9,272.1h1v1h-1zM502.7,276.5h1v1h-1zM491.3,276.5h1v1h-1zM497.7,266.9h1v1h-1zM493.5,261.9h1v1h-1zM486.4,262.6h1v1h-1zM498.1,277.5h1v1h-1zM494.2,276.9h1v1h-1zM495.9,278.7h1v1h-1zM488.9,272.8h1v1h-1zM493.3,275.3h1v1h-1zM490.4,273.9h1v1h-1zM495.4,276.5h1v1h-1zM496.8,281.6h1v1h-1zM497.0,270.0h1v1h-1zM500.0,280.8h1v1h-1zM494.2,265.8h1v1h-1zM496.1,272.1h1v1h-1zM492.1,257.9h1v1h-1zM501.5,265.6h1v1h-1zM488.7,278.7h1v1h-1zM496.7,268.6h1v1h-1zM494.0,277.0h1v1h-1zM494.8,279.2h1v1h-1zM497.7,272.0h1v1h-1zM492.1,267.0h1v1h-1zM497.6,279.7h1v1h-1zM493.8,277.5h1v1h-1zM495.5,273.1h1v1h-1zM495.5,264.5h1v1h-1zM483.2,268.2h1v1h-1zM498.2,271.7h1v1h-1zM491.2,263.0h1v1h-1zM493.4,273.6h1v1h-1zM490.9,262.5h1v1h-1zM494.7,278.4h1v1h-1zM499.5,279.1h1v1h-1zM493.5,266.6h1v1h-1zM486.5,265.1h1v1h-1zM497.3,270.5h1v1h-1zM501.0,276.7h1v1h-1zM491.3,264.3h1v1h-1zM496.9,261.2h1v1h-1zM487.7,264.5h1v1h-1zM492.9,271.9h1v1h-1zM482.6,274.6h1v1h-1zM493.0,264.8h1v1h-1zM503.4,269.5h1v1h-1zM494.0,265.0h1v1h-1zM497.3,276.5h1v1h-1zM492.6,271.8h1v1h-1zM491.2,269.2h1v1h-1zM498.3,263.8h1v1h-1zM488.4,278.3h1v1h-1zM504.9,273.3h1v1h-1zM492.5,273.0h1v1h-1zM495.2,273.6h1v1h-1zM492.9,270.6h1v1h-1zM508.3,259.5h1v1h-1zM486.5,256.1h1v1h-1zM495.7,266.4h1v1h-1zM499.1,258.1h1v1h-1zM493.3,271.8h1v1h-1zM492.1,278.6h1v1h-1zM491.5,276.2h1v1h-1zM491.8,275.6h1v1h-1zM493.5,269.5h1v1h-1zM496.1,273.5h1v1h-1zM489.3,266.6h1v1h-1zM487.7,271.6h1v1h-1zM497.4,265.5h1v1h-1zM494.2,282.2h1v1h-1zM495.1,273.2h1v1h-1zM488.3,276.3h1v1h-1zM493.7,275.2h1v1h-1zM490.2,276.9h1v1h-1zM492.5,275.8h1v1h-1zM494.2,269.7h1v1h-1zM493.2,277.9h1v1h-1zM494.1,265.5h1v1h-1zM503.9,251.7h1v1h-1zM492.7,274.0h1v1h-1zM495.5,275.9h1v1h-1zM498.9,274.8h1v1h-1zM487.9,271.3h1v1h-1zM497.2,279.9h1v1h-1zM495.5,262.9h1v1h-1zM496.6,272.5h1v1h-1zM495.1,274.9h1v1h-1zM492.1,266.7h1v1h-1zM485.0,272.2h1v1h-1zM499.3,281.1h1v1h-1zM492.9,266.9h1v1h-1zM492.1,265.2h1v1h-1zM493.7,255.5h1v1h-1zM495.3,269.1h1v1h-1zM497.4,271.0h1v1h-1zM500.1,272.1h1v1h-1zM503.8,272.2h1v1h-1zM494.9,267.5h1v1h-1zM487.8,277.8h1v1h-1zM495.7,267.2h1v1h-1zM496.7,271.7h1v1h-1zM491.3,274.4h1v1h-1zM495.9,280.8h1v1h-1zM500.0,278.1h1v1h-1zM490.5,269.5h1v1h-1zM495.8,265.4h1v1h-1zM493.2,271.9h1v1h-1zM493.5,276.5h1v1h-1zM500.2,264.1h1v1h-1zM506.2,270.4h1v1h-1zM494.3,268.6h1v1h-1zM495.2,272.0h1v1h-1zM499.5,267.5h1v1h-1zM489.9,270.5h1v1h-1zM490.4,280.5h1v1h-1zM492.9,266.5h1v1h-1zM491.8,259.1h1v1h-1zM494.8,275.8h1v1h-1zM496.9,273.1h1v1h-1zM495.9,267.5h1v1h-1zM494.1,276.2h1v1h-1zM488.1,279.7h1v1h-1zM494.7,275.4h1v1h-1zM494.0,268.8h1v1h-1zM489.9,279.7h1v1h-1zM493.0,268.7h1v1h-1zM493.9,265.5h1v1h-1zM498.2,277.6h1v1h-1zM490.8,272.5h1v1h-1zM489.3,281.6h1v1h-1zM492.0,278.8h1v1h-1zM495.2,272.9h1v1h-1zM495.8,273.0h1v1h-1zM488.3,271.7h1v1h-1zM488.3,281.0h1v1h-1zM497.1,270.3h1v1h-1zM497.0,277.0h1v1h-1zM498.7,267.5h1v1h-1zM494.1,267.1h1v1h-1zM484.3,267.7h1v1h-1zM496.3,281.2h1v1h-1zM490.2,258.7h1v1h-1zM485.7,277.9h1v1h-1zM499.3,282.3h1v1h-1zM493.1,279.9h1v1h-1zM491.5,257.8h1v1h-1zM492.5,276.5h1v1h-1zM495.3,269.3h1v1h-1zM492.9,265.9h1v1h-1zM492.9,275.7h1v1h-1zM484.4,279.1h1v1h-1zM496.1,265.7h1v1h-1zM494.3,274.9h1v1h-1zM489.2,280.8h1v1h-1zM503.2,280.4h1v1h-1zM490.1,276.4h1v1h-1zM492.6,272.7h1v1h-1zM496.2,274.4h1v1h-1zM494.7,281.4h1v1h-1zM490.3,282.0h1v1h-1zM495.8,272.9h1v1h-1zM488.0,270.0h1v1h-1zM484.6,280.7h1v1h-1zM494.9,266.0h1v1h-1zM498.1,278.2h1v1h-1zM496.1,267.2h1v1h-1zM488.7,282.2h1v1h-1zM500.7,277.9h1v1h-1zM493.1,271.4h1v1h-1zM490.6,279.7h1v1h-1zM500.6,269.4h1v1h-1zM498.3,274.9h1v1h-1zM489.5,276.6h1v1h-1zM497.1,269.3h1v1h-1zM492.7,270.5h1v1h-1zM490.3,273.3h1v1h-1zM497.9,271.1h1v1h-1zM499.9,272.0h1v1h-1zM500.7,269.8h1v1h-1zM496.8,265.8h1v1h-1zM492.1,272.0h1v1h-1zM497.4,265.0h1v1h-1zM491.6,269.5h1v1h-1zM494.5,265.2h1v1h-1zM495.0,263.1h1v1h-1zM498.0,264.6h1v1h-1zM499.9,268.3h1v1h-1zM488.8,278.8h1v1h-1zM503.7,279.7h1v1h-1zM497.1,265.6h1v1h-1zM485.5,278.1h1v1h-1zM498.8,276.1h1v1h-1zM497.9,270.1h1v1h-1zM494.6,275.9h1v1h-1zM496.8,267.3h1v1h-1zM492.9,275.7h1v1h-1zM494.1,275.2h1v1h-1zM495.2,273.5h1v1h-1zM491.0,272.5h1v1h-1zM489.8,265.9h1v1h-1zM496.1,274.7h1v1h-1zM493.4,278.6h1v1h-1zM493.2,280.4h1v1h-1zM502.6,277.7h1v1h-1zM497.3,261.9h1v1h-1zM500.3,276.7h1v1h-1zM498.0,265.9h1v1h-1zM490.0,269.9h1v1h-1zM496.6,266.1h1v1h-1zM491.0,275.9h1v1h-1zM489.8,261.6h1v1h-1zM493.6,274.0h1v1h-1zM497.9,282.0h1v1h-1zM491.6,266.0h1v1h-1zM493.6,276.3h1v1h-1zM493.2,270.4h1v1h-1zM489.3,269.2h1v1h-1zM493.6,271.2h1v1h-1zM501.9,272.8h1v1h-1zM496.1,271.3h1v1h-1zM493.1,267.3h1v1h-1zM491.7,263.2h1v1h-1zM489.0,278.4h1v1h-1zM493.4,270.5h1v1h-1zM497.4,270.6h1v1h-1zM496.0,272.1h1v1h-1zM493.4,262.9h1v1h-1zM495.0,276.9h1v1h-1zM492.3,273.4h1v1h-1zM492.7,265.2h1v1h-1zM502.1,268.9h1v1h-1zM489.0,262.6h1v1h-1zM490.0,274.7h1v1h-1zM500.9,279.7h1v1h-1zM490.6,265.2h1v1h-1zM488.7,274.3h1v1h-1zM498.1,271.2h1v1h-1zM494.7,258.0h1v1h-1zM499.1,274.2h1v1h-1zM489.3,275.5h1v1h-1zM494.8,269.1h1v1h-1zM497.3,274.0h1v1h-1zM490.5,276.1h1v1h-1zM499.1,258.0h1v1h-1zM496.5,272.9h1v1h-1zM499.1,276.4h1v1h-1zM493.6,264.9h1v1h-1zM507.8,269.2h1v1h-1zM492.5,269.3h1v1h-1zM492.6,276.7h1v1h-1zM492.8,279.7h1v1h-1zM484.1,270.9h1v1h-1zM492.6,271.9h1v1h-1zM490.9,277.4h1v1h-1zM495.9,267.3h1v1h-1zM484.8,280.7h1v1h-1zM498.1,274.2h1v1h-1zM487.3,272.1h1v1h-1zM486.0,282.1h1v1h-1zM486.8,270.5h1v1h-1zM487.4,269.5h1v1h-1zM491.9,277.9h1v1h-1zM491.2,280.4h1v1h-1zM502.2,276.2h1v1h-1zM488.6,273.6h1v1h-1zM493.5,272.2h1v1h-1zM503.4,279.1h1v1h-1zM481.5,273.9h1v1h-1zM497.1,268.7h1v1h-1zM491.2,282.1h1v1h-1zM494.6,266.2h1v1h-1zM491.2,250.8h1v1h-1zM494.0,265.4h1v1h-1zM493.7,265.7h1v1h-1zM470.7,274.7h1v1h-1zM499.7,271.8h1v1h-1zM468.7,274.6h1v1h-1zM486.2,280.5h1v1h-1zM483.4,275.6h1v1h-1zM478.9,273.6h1v1h-1zM476.5,273.4h1v1h-1zM466.6,272.6h1v1h-1zM493.0,278.7h1v1h-1zM472.1,276.5h1v1h-1zM477.7,274.2h1v1h-1zM483.2,278.4h1v1h-1zM472.6,273.6h1v1h-1zM479.0,269.8h1v1h-1zM470.8,281.4h1v1h-1zM484.7,281.9h1v1h-1zM474.5,274.4h1v1h-1zM475.8,274.9h1v1h-1zM487.9,276.0h1v1h-1zM488.5,273.9h1v1h-1zM472.1,274.1h1v1h-1zM473.3,269.9h1v1h-1zM475.6,274.1h1v1h-1zM495.1,274.9h1v1h-1zM461.3,281.1h1v1h-1zM485.3,276.8h1v1h-1zM480.2,280.1h1v1h-1zM473.5,277.2h1v1h-1zM488.9,277.7h1v1h-1zM467.5,280.9h1v1h-1zM477.5,282.1h1v1h-1zM478.3,277.8h1v1h-1zM483.0,273.8h1v1h-1zM471.2,281.1h1v1h-1zM483.2,280.6h1v1h-1zM488.6,271.1h1v1h-1zM485.4,267.9h1v1h-1zM478.3,278.5h1v1h-1zM485.9,281.8h1v1h-1zM470.6,275.8h1v1h-1zM476.7,273.9h1v1h-1zM471.5,274.1h1v1h-1zM478.6,272.2h1v1h-1zM472.8,277.9h1v1h-1zM470.9,281.2h1v1h-1zM473.7,279.6h1v1h-1zM473.8,278.1h1v1h-1zM481.2,275.1h1v1h-1zM478.6,279.6h1v1h-1zM465.1,274.1h1v1h-1zM495.9,279.0h1v1h-1zM473.6,268.9h1v1h-1zM470.4,279.3h1v1h-1zM483.2,279.0h1v1h-1zM482.5,274.3h1v1h-1zM490.3,272.0h1v1h-1zM481.9,275.8h1v1h-1zM464.6,281.0h1v1h-1zM475.7,280.1h1v1h-1zM487.8,277.7h1v1h-1zM472.8,276.0h1v1h-1zM483.8,273.6h1v1h-1zM485.1,281.3h1v1h-1zM476.9,279.0h1v1h-1zM475.4,271.4h1v1h-1zM477.2,280.4h1v1h-1zM475.1,267.1h1v1h-1zM471.7,281.8h1v1h-1zM479.6,281.9h1v1h-1zM472.0,275.1h1v1h-1zM470.1,273.6h1v1h-1zM481.9,277.6h1v1h-1zM474.1,278.3h1v1h-1zM467.7,275.3h1v1h-1zM466.2,270.4h1v1h-1zM467.3,272.1h1v1h-1zM487.7,274.4h1v1h-1zM482.7,272.0h1v1h-1zM473.7,278.1h1v1h-1zM465.4,277.9h1v1h-1zM482.7,267.8h1v1h-1zM458.9,275.8h1v1h-1zM476.9,277.6h1v1h-1zM469.1,279.5h1v1h-1zM478.8,273.8h1v1h-1zM490.7,278.1h1v1h-1zM474.0,276.0h1v1h-1zM464.4,276.0h1v1h-1zM482.3,277.9h1v1h-1zM468.0,273.2h1v1h-1zM463.5,270.9h1v1h-1zM478.7,278.3h1v1h-1zM470.8,276.0h1v1h-1zM471.6,279.7h1v1h-1zM482.8,274.5h1v1h-1zM474.3,271.6h1v1h-1zM477.8,280.8h1v1h-1zM475.3,273.0h1v1h-1zM486.0,281.1h1v1h-1zM472.7,281.9h1v1h-1zM477.8,276.8h1v1h-1zM492.2,279.4h1v1h-1zM480.3,275.6h1v1h-1zM479.4,281.7h1v1h-1zM481.4,273.6h1v1h-1zM481.4,276.5h1v1h-1zM480.3,276.1h1v1h-1zM460.9,269.8h1v1h-1zM474.9,267.2h1v1h-1zM483.3,274.9h1v1h-1zM480.4,267.0h1v1h-1zM479.8,281.4h1v1h-1zM479.3,271.2h1v1h-1zM485.4,274.6h1v1h-1zM473.4,277.9h1v1h-1zM481.4,271.5h1v1h-1zM477.9,277.2h1v1h-1zM497.8,274.0h1v1h-1zM470.9,278.6h1v1h-1zM490.4,272.5h1v1h-1zM475.2,273.7h1v1h-1zM482.0,278.8h1v1h-1zM477.6,279.9h1v1h-1zM471.7,275.3h1v1h-1zM477.6,277.3h1v1h-1zM488.1,277.3h1v1h-1zM488.0,278.1h1v1h-1zM486.9,277.8h1v1h-1zM470.7,273.2h1v1h-1zM492.4,275.6h1v1h-1zM497.4,272.0h1v1h-1zM471.2,281.2h1v1h-1zM466.0,281.1h1v1h-1zM480.8,279.8h1v1h-1zM468.4,278.7h1v1h-1zM485.2,276.8h1v1h-1zM485.9,277.1h1v1h-1zM480.6,275.6h1v1h-1zM467.3,276.3h1v1h-1zM481.8,273.6h1v1h-1zM462.6,270.1h1v1h-1zM488.2,276.0h1v1h-1zM476.5,270.3h1v1h-1zM474.4,273.0h1v1h-1zM476.4,272.9h1v1h-1zM478.4,279.1h1v1h-1zM473.4,276.1h1v1h-1zM476.7,280.7h1v1h-1zM472.2,280.4h1v1h-1zM487.7,276.1h1v1h-1zM470.3,275.6h1v1h-1zM464.0,274.6h1v1h-1zM468.5,276.2h1v1h-1zM475.0,279.3h1v1h-1zM478.8,278.9h1v1h-1zM477.5,278.3h1v1h-1zM469.0,280.0h1v1h-1zM488.1,282.0h1v1h-1zM467.3,278.9h1v1h-1zM465.1,280.4h1v1h-1zM476.3,274.9h1v1h-1zM472.0,275.9h1v1h-1zM477.8,272.7h1v1h-1zM478.3,278.2h1v1h-1zM482.0,276.8h1v1h-1zM485.8,278.5h1v1h-1zM467.0,279.8h1v1h-1zM482.4,265.1h1v1h-1zM476.6,278.7h1v1h-1zM478.2,277.4h1v1h-1zM480.9,275.7h1v1h-1zM471.1,274.6h1v1h-1zM480.4,277.7h1v1h-1zM486.8,278.9h1v1h-1zM478.2,276.7h1v1h-1zM476.1,281.5h1v1h-1zM467.9,272.3h1v1h-1zM474.3,272.7h1v1h-1zM460.2,279.6h1v1h-1zM467.6,275.9h1v1h-1zM473.4,272.5h1v1h-1zM466.2,277.3h1v1h-1zM454.6,267.5h1v1h-1zM474.8,281.9h1v1h-1zM492.5,275.7h1v1h-1zM471.6,275.7h1v1h-1zM481.6,281.2h1v1h-1zM470.4,279.1h1v1h-1zM477.7,282.1h1v1h-1zM474.7,276.1h1v1h-1zM471.2,271.0h1v1h-1zM480.0,280.2h1v1h-1zM486.8,278.2h1v1h-1zM474.3,272.9h1v1h-1zM468.8,273.7h1v1h-1zM480.6,277.4h1v1h-1zM459.8,276.5h1v1h-1zM475.6,272.3h1v1h-1zM477.7,279.4h1v1h-1zM469.7,270.9h1v1h-1zM475.4,278.2h1v1h-1zM479.1,272.5h1v1h-1zM484.0,274.1h1v1h-1zM483.4,277.4h1v1h-1zM487.6,272.5h1v1h-1zM483.6,278.9h1v1h-1zM470.8,280.2h1v1h-1zM495.8,278.6h1v1h-1zM471.9,276.3h1v1h-1zM488.2,278.2h1v1h-1zM489.6,274.1h1v1h-1zM488.3,269.9h1v1h-1zM476.6,275.7h1v1h-1zM473.2,278.6h1v1h-1zM492.6,280.7h1v1h-1zM474.6,273.7h1v1h-1zM462.1,278.7h1v1h-1zM485.0,282.0h1v1h-1zM484.1,266.6h1v1h-1zM470.9,280.6h1v1h-1zM474.8,280.8h1v1h-1zM498.3,273.6h1v1h-1zM495.5,276.6h1v1h-1zM466.3,277.4h1v1h-1zM485.1,274.4h1v1h-1zM490.5,273.1h1v1h-1zM476.4,281.2h1v1h-1zM476.3,274.5h1v1h-1zM477.8,280.0h1v1h-1zM492.8,276.9h1v1h-1zM464.8,276.8h1v1h-1zM474.7,272.5h1v1h-1zM473.9,276.7h1v1h-1zM478.4,281.1h1v1h-1zM470.7,282.2h1v1h-1zM478.3,280.3h1v1h-1zM487.8,271.4h1v1h-1zM490.7,273.8h1v1h-1zM481.1,281.9h1v1h-1zM485.3,270.0h1v1h-1zM479.3,282.1h1v1h-1zM477.0,276.6h1v1h-1zM473.6,272.8h1v1h-1zM469.2,274.6h1v1h-1zM476.1,278.6h1v1h-1zM477.3,269.3h1v1h-1zM465.4,280.1h1v1h-1zM483.7,270.9h1v1h-1zM485.4,266.0h1v1h-1zM496.5,279.7h1v1h-1zM464.7,279.3h1v1h-1zM477.7,275.0h1v1h-1zM475.0,276.0h1v1h-1zM477.2,272.9h1v1h-1zM473.4,279.5h1v1h-1zM482.2,271.0h1v1h-1zM467.2,272.3h1v1h-1zM460.6,268.3h1v1h-1zM475.0,272.3h1v1h-1zM469.3,273.9h1v1h-1zM432.0,271.2h1v1h-1zM446.4,279.9h1v1h-1zM451.0,277.7h1v1h-1zM438.1,272.7h1v1h-1zM443.7,277.0h1v1h-1zM450.4,278.7h1v1h-1zM434.7,270.7h1v1h-1zM425.3,279.3h1v1h-1zM436.0,272.7h1v1h-1zM425.5,274.4h1v1h-1zM449.2,270.7h1v1h-1zM444.8,278.9h1v1h-1zM442.5,276.1h1v1h-1zM431.0,277.5h1v1h-1zM440.4,282.4h1v1h-1zM438.4,272.0h1v1h-1zM449.4,276.6h1v1h-1zM433.6,277.0h1v1h-1zM428.3,269.2h1v1h-1zM448.8,273.9h1v1h-1zM446.5,269.7h1v1h-1zM437.2,270.0h1v1h-1zM446.5,276.2h1v1h-1zM435.0,272.5h1v1h-1zM429.9,269.6h1v1h-1zM443.3,271.3h1v1h-1zM426.9,272.6h1v1h-1zM436.7,282.8h1v1h-1zM434.8,272.9h1v1h-1zM451.2,278.3h1v1h-1zM438.3,210.2h1v1h-1zM434.1,208.2h1v1h-1zM438.5,212.1h1v1h-1zM431.9,210.8h1v1h-1zM433.1,211.8h1v1h-1zM436.2,212.3h1v1h-1zM444.1,210.2h1v1h-1zM436.9,207.6h1v1h-1zM446.0,200.0h1v1h-1zM456.0,210.0h1v1h-1zM487.0,218.0h1v1h-1zM497.0,212.0h1v1h-1zM500.0,211.0h1v1h-1zM493.0,226.0h1v1h-1zM497.0,229.0h1v1h-1zM495.5,251.1h1v1h-1zM495.3,239.9h1v1h-1zM498.5,241.0h1v1h-1zM493.7,248.6h1v1h-1zM494.3,238.3h1v1h-1zM493.3,250.1h1v1h-1zM493.3,243.6h1v1h-1zM494.3,241.9h1v1h-1zM493.7,243.9h1v1h-1zM496.0,249.3h1v1h-1zM494.4,236.0h1v1h-1zM492.6,243.1h1v1h-1zM491.0,251.0h1v1h-1zM495.0,243.8h1v1h-1zM492.8,239.1h1v1h-1zM493.8,247.1h1v1h-1zM494.3,246.7h1v1h-1zM495.8,231.4h1v1h-1zM494.6,250.6h1v1h-1zM494.2,243.8h1v1h-1zM494.8,235.6h1v1h-1zM498.5,242.2h1v1h-1zM496.0,240.3h1v1h-1zM497.3,250.0h1v1h-1zM496.9,248.8h1v1h-1zM496.1,251.4h1v1h-1zM495.6,243.9h1v1h-1zM496.3,237.7h1v1h-1zM490.9,247.9h1v1h-1zM495.2,238.8h1v1h-1z" fill="#000"/>
<rect x="423" y="195.3" width="90.5" height="88.0" fill="none" stroke="#222" stroke-width="1"/>
<line x1="451.9" y1="195.3" x2="451.9" y2="283.3" stroke="#222" stroke-width="1"/>
<line x1="423" y1="254.4" x2="513.5" y2="254.4" stroke="#222" stroke-width="1"/>
<path d="M423.00,283.3v2.2M423,283.30h-2.2M429.81,283.3v1.2M423,276.68h-1.2M433.79,283.3v1.2M423,272.80h-1.2M436.62,283.3v1.2M423,270.05h-1.2M438.81,283.3v1.2M423,267.92h-1.2M440.61,283.3v1.2M423,266.18h-1.2M442.12,283.3v1.2M423,264.71h-1.2M443.43,283.3v1.2M423,263.43h-1.2M444.59,283.3v1.2M423,262.31h-1.2M445.62,283.3v2.2M423,261.30h-2.2M452.44,283.3v1.2M423,254.68h-1.2M456.42,283.3v1.2M423,250.80h-1.2M459.25,283.3v1.2M423,248.05h-1.2M461.44,283.3v1.2M423,245.92h-1.2M463.23,283.3v1.2M423,244.18h-1.2M464.75,283.3v1.2M423,242.71h-1.2M466.06,283.3v1.2M423,241.43h-1.2M467.21,283.3v1.2M423,240.31h-1.2M468.25,283.3v2.2M423,239.30h-2.2M475.06,283.3v1.2M423,232.68h-1.2M479.04,283.3v1.2M423,228.80h-1.2M481.87,283.3v1.2M423,226.05h-1.2M484.06,283.3v1.2M423,223.92h-1.2M485.86,283.3v1.2M423,222.18h-1.2M487.37,283.3v1.2M423,220.71h-1.2M488.68,283.3v1.2M423,219.43h-1.2M489.84,283.3v1.2M423,218.31h-1.2M490.88,283.3v2.2M423,217.30h-2.2M497.69,283.3v1.2M423,210.68h-1.2M501.67,283.3v1.2M423,206.80h-1.2M504.50,283.3v1.2M423,204.05h-1.2M506.69,283.3v1.2M423,201.92h-1.2M508.48,283.3v1.2M423,200.18h-1.2M510.00,283.3v1.2M423,198.71h-1.2M511.31,283.3v1.2M423,197.43h-1.2M512.46,283.3v1.2M423,196.31h-1.2M513.5,283.3v2.2M423,195.3h-2.2" stroke="#222" stroke-width="0.7" fill="none"/>
<text x="419.2" y="294.1" font-size="8.2" style="font-family:&quot;Liberation Sans&quot;,sans-serif" fill="#000" stroke="#000" stroke-width="0.15" text-anchor="start">10<tspan font-size="5.08" dy="-3.12">0</tspan></text>
<text x="440.625" y="294.1" font-size="8.2" style="font-family:&quot;Liberation Sans&quot;,sans-serif" fill="#000" stroke="#000" stroke-width="0.15" text-anchor="start">10<tspan font-size="5.08" dy="-3.12">1</tspan></text>
<text x="463.05" y="294.1" font-size="8.2" style="font-family:&quot;Liberation Sans&quot;,sans-serif" fill="#000" stroke="#000" stroke-width="0.15" text-anchor="start">10<tspan font-size="5.08" dy="-3.12">2</tspan></text>
<text x="485.475" y="294.1" font-size="8.2" style="font-family:&quot;Liberation Sans&quot;,sans-serif" fill="#000" stroke="#000" stroke-width="0.15" text-anchor="start">10<tspan font-size="5.08" dy="-3.12">3</tspan></text>
<text x="507.9" y="294.1" font-size="8.2" style="font-family:&quot;Liberation Sans&quot;,sans-serif" fill="#000" stroke="#000" stroke-width="0.15" text-anchor="start">10<tspan font-size="5.08" dy="-3.12">4</tspan></text>
<text x="419.0" y="288.6" font-size="8.2" style="font-family:&quot;Liberation Sans&quot;,sans-serif" fill="#000" stroke="#000" stroke-width="0.15" text-anchor="start" transform="rotate(-90 419.0 288.6)">10<tspan font-size="5.08" dy="-3.12">0</tspan></text>
<text x="419.0" y="266.6" font-size="8.2" style="font-family:&quot;Liberation Sans&quot;,sans-serif" fill="#000" stroke="#000" stroke-width="0.15" text-anchor="start" transform="rotate(-90 419.0 266.6)">10<tspan font-size="5.08" dy="-3.12">1</tspan></text>
<text x="419.0" y="244.60000000000002" font-size="8.2" style="font-family:&quot;Liberation Sans&quot;,sans-serif" fill="#000" stroke="#000" stroke-width="0.15" text-anchor="start" transform="rotate(-90 419.0 244.60000000000002)">10<tspan font-size="5.08" dy="-3.12">2</tspan></text>
<text x="419.0" y="222.60000000000002" font-size="8.2" style="font-family:&quot;Liberation Sans&quot;,sans-serif" fill="#000" stroke="#000" stroke-width="0.15" text-anchor="start" transform="rotate(-90 419.0 222.60000000000002)">10<tspan font-size="5.08" dy="-3.12">3</tspan></text>
<text x="419.0" y="200.60000000000002" font-size="8.2" style="font-family:&quot;Liberation Sans&quot;,sans-serif" fill="#000" stroke="#000" stroke-width="0.15" text-anchor="start" transform="rotate(-90 419.0 200.60000000000002)">10<tspan font-size="5.08" dy="-3.12">4</tspan></text>
<text x="435.70000000000005" y="192.3" font-size="8.9" font-weight="400" text-anchor="start" fill="#000" style="font-family:&quot;Liberation Sans&quot;,sans-serif" textLength="61.2" lengthAdjust="spacingAndGlyphs" stroke="#000" stroke-width="0.2">FC110A02.016</text>
<text x="446.2" y="302.7" font-size="8.9" font-weight="400" text-anchor="start" fill="#000" style="font-family:&quot;Liberation Sans&quot;,sans-serif" textLength="41" lengthAdjust="spacingAndGlyphs" stroke="#000" stroke-width="0.2">CD8 FITC</text>
<text x="404.7" y="238.2" font-size="8.9" font-weight="400" text-anchor="middle" fill="#000" style="font-family:&quot;Liberation Sans&quot;,sans-serif" textLength="33.2" lengthAdjust="spacingAndGlyphs" transform="rotate(-90 404.7 238.2)" stroke="#000" stroke-width="0.2">CD4 PE</text>
<text x="428.8" y="223.6" font-size="6.3" font-weight="700" text-anchor="start" fill="#000" style="font-family:&quot;Liberation Serif&quot;,serif" textLength="19.3" lengthAdjust="spacingAndGlyphs" stroke="#000" stroke-width="0.4">0.41%</text>
<text x="454.8" y="264.5" font-size="6.3" font-weight="700" text-anchor="start" fill="#000" style="font-family:&quot;Liberation Serif&quot;,serif" textLength="23.5" lengthAdjust="spacingAndGlyphs" stroke="#000" stroke-width="0.4">97.95%</text>
<text x="279.1" y="318.9" font-size="10.2" font-weight="700" text-anchor="start" fill="#000" style="font-family:&quot;Liberation Sans&quot;,sans-serif" textLength="105.6" lengthAdjust="spacingAndGlyphs" >Non-transduced CTL</text>
<text x="445.7" y="319.2" font-size="10.2" font-weight="700" text-anchor="start" fill="#000" style="font-family:&quot;Liberation Sans&quot;,sans-serif" textLength="41.5" lengthAdjust="spacingAndGlyphs" >E1- CTL</text></svg>
</body></html>
